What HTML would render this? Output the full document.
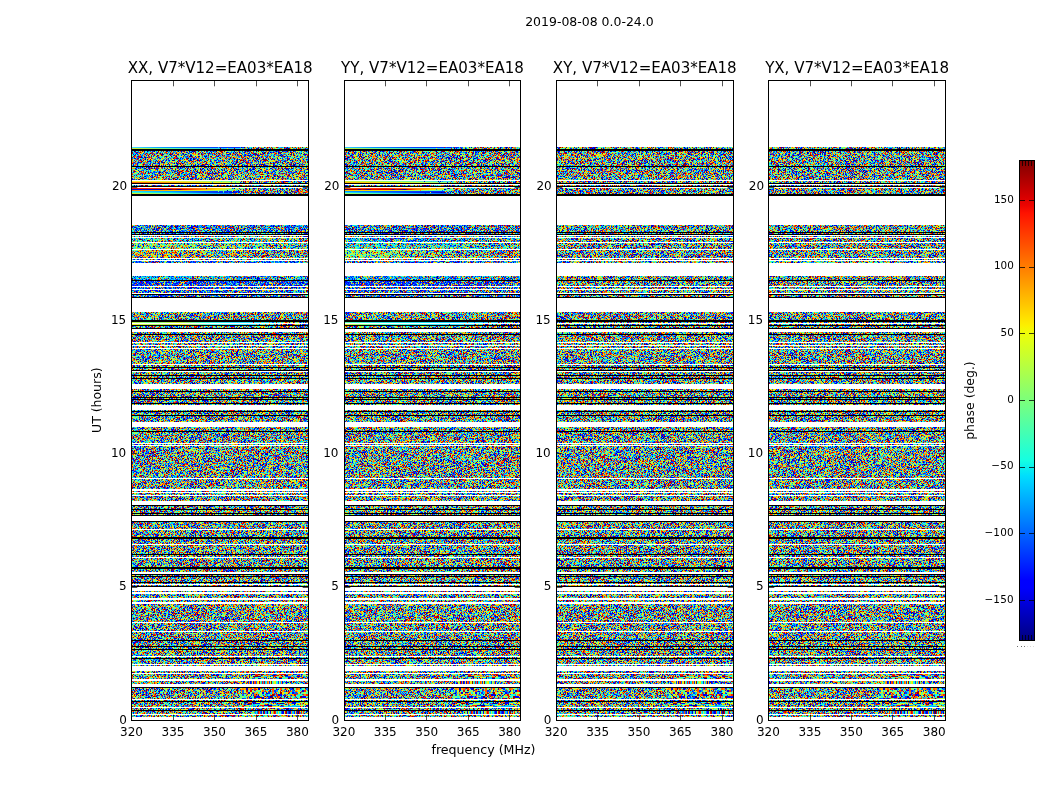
<!DOCTYPE html><html><head><meta charset="utf-8"><title>phase waterfall</title>
<style>html,body{margin:0;padding:0;background:#fff}svg{display:block}text{font-family:"DejaVu Sans","Liberation Sans",sans-serif;fill:#000}</style></head><body>
<svg width="1050" height="800" viewBox="0 0 1050 800">
<rect width="1050" height="800" fill="#fff"/>
<defs>
<pattern id="nA" width="176" height="48" patternUnits="userSpaceOnUse"><g transform="translate(0,.5)" fill="none">
<path stroke="#009" d="M15 0h1m5 0h1m4 0h1m23 0h1m69 0h1m17 0h1m14 0h2m3 0h1m-139 1h1m8 0h1m37 0h1m1 0h1m4 0h1m2 0h1m3 0h1m10 0h1m46 0h1m-139 1h1m25 0h1m46 0h1m12 0h1m19 0h1m9 0h1m26 0h1m16 0h1m-156 1h1m18 0h1m1 0h1m56 0h1m85 0h1m-111 1h1m33 0h1m17 0h1m37 0h1m5 0h1m-132 1h1m6 0h1m55 0h1m10 0h1m11 0h1m59 0h1m-167 1h2m56 0h1m13 0h1m31 0h1m6 0h1m13 0h1m18 0h1m6 0h1m7 0h1m-163 1h1m32 0h1m13 0h1m10 0h1m2 0h1m19 0h2m36 0h1m10 0h1m22 0h1m10 0h1m-108 1h1m10 0h1m2 0h1m5 0h1m23 0h1m34 0h1m7 0h1m2 0h1m15 0h1m-152 1h1m46 0h1m50 0h1m18 0h1m-102 1h1m37 0h1m3 0h1m32 0h1m6 0h1m5 0h1m37 0h1m2 0h1m-144 1h1m4 0h1m3 0h1m33 0h1m48 0h1m28 0h1m-126 1h1m31 0h1m9 0h1m3 0h2m6 0h1m7 0h1m51 0h1m-118 1h1m7 0h1m6 0h1m1 0h1m37 0h1m45 0h1m31 0h1m25 0h1m-113 1h1m4 0h1m54 0h1m58 0h1m-161 1h1m36 0h1m6 0h1m6 0h1m14 0h1m23 0h1m1 0h1m27 0h1m20 0h1m15 0h1m-173 1h1m10 0h1m28 0h2m16 0h1m11 0h2m3 0h1m3 0h1m15 0h1m3 0h1m11 0h1m46 0h3m-152 1h1m8 0h1m8 0h1m1 0h1m20 0h1m22 0h1m13 0h1m17 0h1m5 0h1m14 0h1m-104 1h1m8 0h1m3 0h1m35 0h1m11 0h1m19 0h1m33 0h1m2 0h1m4 0h1m9 0h1m-124 1h1m9 0h1m1 0h1m4 0h1m35 0h1m11 0h1m27 0h1m4 0h1m33 0h1m-155 1h1m8 0h1m18 0h1m5 0h1m10 0h1m18 0h1m54 0h1m6 0h1m1 0h1m18 0h1m14 0h1m-168 1h1m19 0h1m18 0h1m24 0h1m17 0h1m59 0h1m6 0h1m5 0h2m3 0h1m-156 1h1m24 0h1m57 0h1m29 0h1m21 0h1m-141 1h1m3 0h1m3 0h1m1 0h1m38 0h1m40 0h1m25 0h1m3 0h1m2 0h1m-117 1h1m8 0h1m32 0h1m15 0h1m39 0h1m34 0h1m13 0h1m-157 1h1m9 0h1m1 0h1m30 0h1m18 0h1m12 0h1m26 0h1m10 0h1m3 0h1m26 0h1m26 0h1m-174 1h1m42 0h1m8 0h1m22 0h1m21 0h1m30 0h1m21 0h1m5 0h1m-138 1h1m64 0h1m46 0h1m40 0h1m-163 1h2m2 0h1m19 0h1m8 0h1m5 0h1m13 0h1m1 0h1m40 0h1m65 0h1m-148 1h1m13 0h1m23 0h1m1 0h1m13 0h1m17 0h1m9 0h1m3 0h1m22 0h1m24 0h1m1 0h1m9 0h1m-173 1h2m67 0h1m18 0h1m-62 1h1m3 0h1m54 0h1m19 0h1m1 0h1m5 0h1m19 0h1m9 0h1m-136 1h1m10 0h1m29 0h1m15 0h1m4 0h1m1 0h1m3 0h1m49 0h1m1 0h1m3 0h1m7 0h1m28 0h1m-162 1h1m17 0h1m31 0h1m6 0h1m11 0h1m70 0h1m1 0h1m9 0h1m11 0h1m-157 1h1m26 0h1m23 0h1m4 0h1m7 0h1m3 0h1m8 0h1m4 0h1m32 0h1m39 0h1m-167 1h1m14 0h1m9 0h1m10 0h2m6 0h1m17 0h1m2 0h1m4 0h1m72 0h1m10 0h2m-153 1h1m1 0h1m25 0h1m10 0h1m38 0h1m17 0h2m5 0h1m4 0h1m37 0h1m-146 1h1m11 0h1m20 0h1m1 0h1m34 0h1m28 0h1m38 0h1m4 0h1m7 0h1m12 0h1m-176 1h1m15 0h1m20 0h1m11 0h1m39 0h1m28 0h1m4 0h1m27 0h1m16 0h1m-148 1h1m8 0h1m2 0h1m6 0h1m6 0h1m30 0h1m28 0h1m10 0h1m5 0h1m43 0h1m-167 1h1m5 0h1m25 0h1m9 0h1m28 0h1m19 0h1m16 0h1m64 0h1m-174 1h1m72 0h1m1 0h1m4 0h1m2 0h1m9 0h1m11 0h1m-107 1h1m9 0h1m12 0h1m34 0h1m13 0h1m9 0h1m21 0h1m28 0h1m-125 1h1m14 0h1m3 0h1m17 0h1m48 0h1m4 0h1m14 0h1m31 0h1m-61 1h1m6 0h1m29 0h1m38 0h1m1 0h1m-154 1h1m19 0h1m39 0h1m92 0h1m-135 1h1m37 0h1m6 0h1m16 0h1m50 0h1m18 0h1m6 0h1m1 0h1m-167 1h1m14 0h1m19 0h1m32 0h1m13 0h1m19 0h1m29 0h1m19 0h1"/>
<path stroke="#00d" d="M10 0h1m1 0h1m10 0h1m19 0h1m12 0h1m3 0h1m6 0h1m27 0h2m33 0h1m10 0h1m22 0h1m-157 1h1m9 0h1m47 0h1m38 0h1m28 0h1m6 0h1m13 0h1m-147 1h1m57 0h1m17 0h1m11 0h2m42 0h1m24 0h1m2 0h1m-167 1h1m9 0h1m19 0h1m2 0h1m16 0h1m31 0h1m5 0h2m9 0h1m17 0h1m1 0h2m5 0h1m2 0h1m-132 1h1m2 0h2m2 0h1m41 0h1m5 0h1m27 0h1m31 0h1m2 0h1m9 0h1m8 0h1m-138 1h1m1 0h1m6 0h1m4 0h1m42 0h1m28 0h1m47 0h1m7 0h1m4 0h1m6 0h1m10 0h1m8 0h1m-148 1h1m10 0h1m18 0h1m9 0h1m53 0h1m13 0h1m7 0h1m18 0h1m-159 1h1m25 0h1m20 0h1m4 0h1m41 0h1m2 0h1m10 0h1m10 0h1m1 0h1m-103 1h2m9 0h1m76 0h2m2 0h1m9 0h1m14 0h1m-140 1h1m84 0h1m10 0h1m23 0h1m-122 1h1m18 0h1m1 0h1m23 0h1m10 0h1m25 0h1m5 0h1m30 0h1m21 0h1m1 0h1m4 0h1m22 0h2m-168 1h1m7 0h1m16 0h1m9 0h1m50 0h1m24 0h1m42 0h1m-160 1h1m7 0h1m1 0h1m7 0h1m9 0h1m21 0h1m15 0h1m36 0h1m24 0h1m22 0h1m2 0h1m9 0h1m1 0h1m-156 1h1m43 0h1m13 0h1m6 0h1m40 0h1m12 0h1m-130 1h2m23 0h1m15 0h2m14 0h1m2 0h1m63 0h1m39 0h1m-158 1h1m44 0h1m3 0h1m5 0h1m59 0h1m8 0h1m26 0h1m10 0h1m-148 1h1m11 0h1m19 0h1m9 0h1m7 0h1m66 0h1m23 0h1m-150 1h2m13 0h1m24 0h1m18 0h1m18 0h1m4 0h1m18 0h1m25 0h1m-134 1h1m17 0h1m16 0h1m1 0h2m20 0h1m15 0h1m1 0h1m53 0h1m18 0h1m-148 1h1m6 0h1m4 0h2m11 0h1m29 0h1m4 0h1m17 0h1m2 0h1m31 0h1m33 0h1m4 0h1m-166 1h1m25 0h1m1 0h1m33 0h1m19 0h1m8 0h1m15 0h1m13 0h1m1 0h2m6 0h1m30 0h1m1 0h1m-157 1h1m11 0h1m2 0h1m4 0h1m5 0h1m1 0h1m18 0h1m2 0h1m12 0h1m26 0h1m12 0h1m5 0h1m1 0h1m6 0h1m5 0h1m1 0h1m-78 1h1m4 0h1m29 0h1m12 0h1m15 0h1m-119 1h1m2 0h1m9 0h1m19 0h1m14 0h1m3 0h1m74 0h1m9 0h1m-118 1h1m7 0h1m7 0h1m53 0h1m12 0h1m5 0h1m19 0h1m5 0h2m9 0h1m1 0h1m15 0h1m-154 1h1m18 0h1m20 0h1m36 0h1m9 0h1m8 0h1m14 0h1m4 0h1m32 0h1m4 0h1m-169 1h1m4 0h1m26 0h1m7 0h1m9 0h1m6 0h3m4 0h1m7 0h1m18 0h1m8 0h1m7 0h1m5 0h1m3 0h1m23 0h2m1 0h1m9 0h1m-127 1h1m12 0h1m11 0h1m9 0h1m11 0h1m15 0h2m8 0h1m3 0h2m4 0h1m14 0h1m9 0h1m6 0h1m21 0h1m-97 1h1m3 0h1m10 0h1m17 0h1m10 0h1m17 0h1m6 0h1m6 0h1m6 0h1m7 0h1m-157 1h1m13 0h1m8 0h1m26 0h1m16 0h1m95 0h1m-158 1h1m42 0h1m47 0h1m33 0h1m19 0h1m-158 1h1m21 0h1m48 0h1m72 0h1m18 0h1m-156 1h1m3 0h1m9 0h1m82 0h1m21 0h1m8 0h1m28 0h1m-132 1h1m4 0h1m81 0h1m2 0h1m3 0h1m17 0h1m14 0h1m1 0h1m-99 1h2m20 0h1m67 0h1m3 0h1m-151 1h1m19 0h1m28 0h1m12 0h1m24 0h1m9 0h1m11 0h1m2 0h1m34 0h1m-153 1h1m14 0h1m6 0h2m34 0h1m79 0h2m24 0h1m-164 1h1m22 0h1m29 0h1m2 0h1m21 0h1m1 0h1m32 0h1m10 0h1m26 0h1m12 0h1m-157 1h1m52 0h1m33 0h3m5 0h1m16 0h1m1 0h1m45 0h1m-160 1h1m1 0h1m34 0h1m1 0h1m3 0h1m2 0h1m5 0h1m78 0h1m8 0h1m4 0h1m2 0h1m6 0h1m4 0h1m-168 1h1m20 0h1m1 0h1m33 0h1m26 0h1m24 0h1m56 0h2m-171 1h1m10 0h1m41 0h1m46 0h1m19 0h1m28 0h1m18 0h1m-173 1h1m102 0h1m9 0h1m3 0h1m25 0h1m1 0h1m23 0h1m-129 1h1m52 0h1m15 0h1m19 0h1m39 0h1m-162 1h1m5 0h1m32 0h1m5 0h1m1 0h1m5 0h1m38 0h1m10 0h1m13 0h1m6 0h1m28 0h1m10 0h1m-151 1h1m47 0h1m6 0h1m43 0h1m8 0h1m3 0h1m21 0h1m-98 1h1m13 0h2m68 0h1m12 0h1m9 0h1m-160 1h1m36 0h1m1 0h1m10 0h1m11 0h1m9 0h1m4 0h1m21 0h1m14 0h1m25 0h1m13 0h1"/>
<path stroke="#00f" d="M64 0h1m1 0h1m7 0h1m1 0h1m11 0h1m30 0h1m25 0h1m6 0h1m-105 1h1m26 0h1m4 0h1m27 0h1m37 0h2m-132 1h1m8 0h1m8 0h1m1 0h1m26 0h1m7 0h1m7 0h1m6 0h1m4 0h1m-43 1h1m5 0h1m12 0h1m20 0h1m13 0h1m33 0h1m3 0h1m-132 1h1m30 0h1m10 0h1m8 0h1m48 0h1m33 0h1m-143 1h1m10 0h1m22 0h1m11 0h1m17 0h1m1 0h1m9 0h1m23 0h1m10 0h1m30 0h1m23 0h1m-140 1h1m5 0h1m79 0h1m12 0h1m24 0h1m5 0h1m-99 1h1m5 0h1m4 0h1m43 0h1m39 0h1m4 0h1m-139 1h1m2 0h1m1 0h1m25 0h1m8 0h1m8 0h1m4 0h1m17 0h1m1 0h1m3 0h1m3 0h1m34 0h1m18 0h1m-150 1h2m12 0h1m14 0h1m10 0h1m16 0h1m8 0h1m32 0h1m1 0h1m4 0h1m22 0h1m2 0h2m10 0h1m-144 1h1m42 0h1m11 0h1m9 0h1m3 0h1m1 0h1m12 0h1m17 0h1m8 0h1m-85 1h1m3 0h1m3 0h2m8 0h1m11 0h1m36 0h1m7 0h1m9 0h1m18 0h1m31 0h1m-172 1h1m1 0h1m28 0h1m20 0h1m29 0h1m29 0h1m15 0h1m6 0h1m3 0h1m6 0h1m8 0h1m-39 1h1m8 0h1m-117 1h1m14 0h1m10 0h1m8 0h1m9 0h1m6 0h1m6 0h1m68 0h1m15 0h1m-156 1h1m5 0h1m25 0h1m30 0h1m19 0h1m50 0h1m2 0h1m25 0h1m8 0h1m-130 1h1m22 0h1m11 0h1m2 0h1m6 0h1m14 0h1m16 0h1m13 0h1m2 0h1m-137 1h1m21 0h1m7 0h1m3 0h1m19 0h1m19 0h2m11 0h2m10 0h1m1 0h1m23 0h1m14 0h1m10 0h1m-153 1h1m4 0h2m19 0h1m15 0h1m26 0h1m27 0h2m15 0h1m5 0h1m14 0h1m12 0h1m4 0h1m-151 1h1m36 0h1m8 0h1m28 0h1m20 0h1m2 0h1m3 0h1m28 0h1m12 0h1m-141 1h1m55 0h1m26 0h1m8 0h1m24 0h1m15 0h1m28 0h1m-168 1h1m54 0h1m10 0h1m4 0h1m1 0h2m4 0h1m1 0h1m29 0h1m14 0h1m2 0h1m2 0h1m-128 1h1m3 0h1m1 0h1m31 0h1m85 0h1m-106 1h1m24 0h1m7 0h1m10 0h2m12 0h1m11 0h1m10 0h1m8 0h1m1 0h1m37 0h1m-143 1h1m20 0h1m29 0h1m1 0h1m47 0h1m26 0h1m7 0h1m10 0h1m-159 1h1m16 0h1m72 0h1m8 0h1m-75 1h1m10 0h1m29 0h1m6 0h2m6 0h1m14 0h1m23 0h1m22 0h1m24 0h1m-148 1h1m43 0h1m4 0h1m3 0h1m16 0h1m20 0h1m7 0h1m8 0h1m5 0h1m1 0h1m-139 1h1m12 0h1m5 0h1m53 0h1m13 0h1m43 0h1m32 0h1m-165 1h1m51 0h1m10 0h2m4 0h1m3 0h1m3 0h1m38 0h1m29 0h1m-129 1h1m29 0h1m26 0h1m79 0h1m14 0h1m-162 1h1m5 0h1m27 0h1m8 0h1m1 0h1m4 0h1m16 0h1m34 0h1m24 0h1m-85 1h1m2 0h1m2 0h1m20 0h1m2 0h1m3 0h1m9 0h1m7 0h1m4 0h1m28 0h1m-140 1h1m21 0h1m28 0h1m25 0h1m34 0h1m12 0h1m34 0h1m2 0h1m-148 1h1m15 0h1m1 0h1m8 0h1m3 0h1m7 0h2m19 0h1m12 0h1m51 0h1m25 0h1m-172 1h1m47 0h1m11 0h1m36 0h1m6 0h1m63 0h1m3 0h1m-170 1h1m4 0h1m15 0h2m25 0h1m8 0h1m69 0h1m23 0h1m2 0h1m1 0h2m-79 1h1m10 0h1m1 0h2m26 0h1m2 0h1m19 0h1m11 0h1m-116 1h1m68 0h1m32 0h1m24 0h1m-168 1h1m18 0h1m27 0h1m28 0h1m24 0h1m33 0h1m8 0h1m-147 1h1m47 0h1m28 0h1m21 0h1m2 0h1m13 0h1m32 0h1m16 0h1m-147 1h1m20 0h1m6 0h1m5 0h1m7 0h1m4 0h1m20 0h1m4 0h1m1 0h1m46 0h1m1 0h1m17 0h1m-133 1h1m9 0h1m30 0h1m14 0h1m9 0h1m2 0h1m6 0h1m1 0h1m28 0h1m1 0h1m31 0h1m-149 1h1m6 0h1m2 0h1m9 0h1m22 0h1m16 0h1m6 0h1m3 0h1m4 0h1m1 0h1m-96 1h2m20 0h1m11 0h1m4 0h1m3 0h1m17 0h1m3 0h1m10 0h1m16 0h1m6 0h1m14 0h1m25 0h1m3 0h1m1 0h1m5 0h1m-158 1h1m2 0h1m36 0h1m21 0h1m1 0h1m11 0h1m15 0h1m23 0h1m9 0h1m8 0h1m11 0h2m6 0h1m-157 1h1m39 0h1m2 0h1m8 0h1m12 0h1m17 0h1m10 0h1m3 0h1m32 0h1m-131 1h1m30 0h1m9 0h1m17 0h1m14 0h1m19 0h1m22 0h1m44 0h1"/>
<path stroke="#03f" d="M6 0h1m13 0h1m3 0h1m44 0h1m2 0h1m33 0h2m3 0h1m2 0h1m13 0h1m8 0h1m4 0h1m-111 1h2m6 0h1m14 0h1m33 0h1m1 0h1m3 0h1m23 0h1m23 0h1m24 0h1m4 0h1m-152 1h1m5 0h1m10 0h1m5 0h2m28 0h1m8 0h1m7 0h2m16 0h1m3 0h2m51 0h1m-160 1h1m1 0h1m17 0h1m23 0h1m26 0h1m80 0h1m5 0h1m-122 1h2m8 0h1m6 0h1m5 0h1m1 0h1m29 0h2m29 0h1m2 0h1m24 0h1m9 0h1m-164 1h1m5 0h1m29 0h1m11 0h1m2 0h1m27 0h1m3 0h1m10 0h1m4 0h1m-93 1h1m3 0h1m3 0h1m2 0h1m1 0h1m16 0h2m29 0h1m8 0h1m11 0h1m1 0h1m16 0h1m23 0h1m1 0h1m-123 1h1m1 0h2m7 0h1m6 0h1m6 0h1m29 0h1m33 0h1m2 0h1m27 0h1m23 0h1m-153 1h1m10 0h1m10 0h1m25 0h1m37 0h1m20 0h1m2 0h1m16 0h1m1 0h1m-131 1h1m10 0h1m10 0h1m4 0h1m58 0h1m21 0h1m6 0h1m3 0h1m9 0h1m8 0h1m-90 1h1m38 0h1m8 0h1m3 0h1m-41 1h1m1 0h1m1 0h1m45 0h1m28 0h1m-129 1h1m3 0h1m58 0h1m11 0h1m35 0h1m8 0h1m11 0h1m3 0h1m14 0h1m-167 1h1m6 0h2m8 0h1m21 0h1m3 0h1m3 0h1m40 0h1m10 0h1m18 0h1m18 0h1m8 0h1m21 0h1m-150 1h1m98 0h1m25 0h1m-144 1h1m34 0h1m25 0h1m42 0h1m34 0h1m28 0h1m-175 1h1m5 0h1m9 0h1m7 0h1m22 0h1m5 0h1m4 0h1m9 0h1m12 0h1m1 0h1m1 0h2m9 0h1m20 0h1m27 0h1m6 0h1m1 0h1m-150 1h1m1 0h1m2 0h1m18 0h1m79 0h1m5 0h1m18 0h1m9 0h1m5 0h1m-134 1h1m8 0h1m23 0h1m9 0h1m11 0h1m21 0h1m5 0h1m6 0h1m2 0h1m3 0h1m1 0h1m36 0h1m7 0h1m-162 1h1m1 0h1m6 0h1m67 0h1m-73 1h1m65 0h1m25 0h1m58 0h1m6 0h1m-149 1h1m14 0h1m20 0h1m13 0h1m2 0h1m72 0h1m6 0h1m9 0h2m4 0h1m-110 1h1m4 0h2m2 0h1m20 0h1m25 0h1m2 0h1m1 0h1m1 0h1m10 0h1m19 0h1m-140 1h1m3 0h1m16 0h1m6 0h1m11 0h1m6 0h1m17 0h1m40 0h1m22 0h1m1 0h1m-113 1h1m18 0h1m8 0h1m26 0h1m1 0h1m4 0h1m48 0h1m1 0h1m5 0h1m17 0h1m-168 1h1m29 0h1m6 0h1m24 0h2m6 0h1m1 0h1m2 0h1m1 0h2m19 0h1m16 0h1m2 0h1m3 0h1m32 0h1m18 0h1m-164 1h1m8 0h1m11 0h1m38 0h1m25 0h1m14 0h1m9 0h2m48 0h1m-157 1h1m55 0h1m25 0h1m5 0h1m7 0h1m44 0h1m14 0h1m-172 1h1m4 0h1m15 0h1m23 0h1m15 0h1m26 0h1m32 0h1m23 0h1m-145 1h1m25 0h1m5 0h1m28 0h1m15 0h1m55 0h1m3 0h1m2 0h2m2 0h1m27 0h1m-153 1h1m15 0h1m4 0h1m17 0h2m19 0h1m28 0h1m10 0h1m18 0h1m11 0h1m9 0h1m-155 1h1m30 0h1m56 0h1m24 0h1m-54 1h1m28 0h1m-92 1h1m9 0h1m7 0h1m17 0h2m12 0h1m6 0h1m8 0h1m3 0h1m12 0h1m21 0h1m23 0h1m17 0h1m10 0h1m6 0h1m-159 1h2m7 0h1m7 0h1m1 0h1m6 0h1m8 0h2m13 0h1m12 0h1m33 0h1m6 0h1m15 0h1m4 0h1m1 0h1m4 0h1m2 0h1m-149 1h1m2 0h1m12 0h1m18 0h1m2 0h1m38 0h1m6 0h1m1 0h1m17 0h1m4 0h1m5 0h1m2 0h1m17 0h1m8 0h1m5 0h1m5 0h1m15 0h1m-144 1h1m34 0h1m31 0h2m24 0h1m45 0h1m2 0h1m-148 1h1m13 0h1m14 0h1m65 0h1m12 0h1m1 0h1m10 0h1m2 0h1m15 0h1m6 0h1m-135 1h1m12 0h1m5 0h1m2 0h1m5 0h1m1 0h1m10 0h1m14 0h1m13 0h1m9 0h1m30 0h1m-123 1h1m5 0h1m7 0h1m2 0h1m13 0h1m11 0h1m13 0h1m22 0h1m6 0h1m36 0h1m12 0h1m5 0h1m-118 1h1m56 0h1m44 0h1m-134 1h1m2 0h2m8 0h1m34 0h1m2 0h1m13 0h1m4 0h1m6 0h1m2 0h1m1 0h1m21 0h1m19 0h1m1 0h1m8 0h1m-152 1h1m7 0h1m17 0h1m2 0h1m20 0h1m19 0h1m1 0h1m10 0h2m1 0h1m1 0h1m5 0h1m12 0h2m38 0h1m5 0h1m1 0h1m12 0h1m-160 1h1m4 0h1m20 0h1m15 0h1m4 0h1m14 0h1m4 0h1m13 0h1m37 0h1m18 0h1m1 0h1m6 0h1m4 0h1m5 0h1m-163 1h1m22 0h1m3 0h1m2 0h1m41 0h1m11 0h1m9 0h1m36 0h1m-144 1h1m39 0h1m35 0h1m11 0h1m27 0h2m38 0h1m5 0h1m1 0h1m-112 1h1m2 0h1m61 0h1m11 0h1m6 0h1m-128 1h1m6 0h1m18 0h1m12 0h2m4 0h1m35 0h1m11 0h1m28 0h1m16 0h1m5 0h2m4 0h1"/>
<path stroke="#06f" d="M25 0h1m15 0h1m9 0h1m13 0h1m12 0h1m5 0h1m5 0h2m6 0h1m11 0h1m11 0h1m1 0h1m6 0h1m-109 1h1m4 0h1m29 0h1m20 0h1m44 0h1m31 0h1m-128 1h1m8 0h1m14 0h1m6 0h1m3 0h1m1 0h1m61 0h1m19 0h1m15 0h1m5 0h1m-145 1h1m14 0h1m17 0h1m7 0h1m12 0h1m17 0h1m8 0h1m1 0h1m20 0h1m23 0h1m-142 1h2m48 0h2m2 0h1m8 0h1m6 0h1m9 0h1m9 0h1m49 0h1m14 0h1m-158 1h1m47 0h1m13 0h1m8 0h1m24 0h1m43 0h1m2 0h1m7 0h1m9 0h1m-133 1h1m4 0h1m6 0h1m13 0h1m4 0h1m27 0h1m4 0h1m1 0h1m13 0h1m6 0h1m6 0h1m4 0h1m7 0h1m9 0h1m10 0h2m1 0h1m-156 1h1m5 0h1m14 0h1m21 0h1m9 0h1m9 0h1m2 0h1m9 0h1m4 0h1m14 0h1m18 0h1m4 0h1m26 0h1m1 0h1m3 0h1m-152 1h2m16 0h1m4 0h1m15 0h1m41 0h1m8 0h1m2 0h1m35 0h1m15 0h1m3 0h1m-163 1h1m22 0h1m14 0h1m13 0h1m21 0h1m10 0h1m11 0h1m61 0h1m-156 1h1m3 0h1m36 0h1m1 0h1m9 0h1m24 0h1m2 0h1m30 0h1m13 0h1m12 0h1m4 0h1m20 0h1m-123 1h1m34 0h2m2 0h1m11 0h1m15 0h1m15 0h2m2 0h1m1 0h1m17 0h1m4 0h1m7 0h1m-97 1h1m5 0h1m3 0h1m3 0h1m1 0h1m1 0h1m2 0h1m8 0h2m58 0h1m-151 1h1m1 0h1m8 0h1m13 0h1m9 0h1m27 0h1m2 0h1m12 0h1m12 0h1m36 0h1m27 0h1m-174 1h1m9 0h1m10 0h1m52 0h1m5 0h1m29 0h1m8 0h1m1 0h1m14 0h1m-131 1h1m5 0h1m5 0h1m4 0h1m7 0h2m12 0h1m2 0h1m1 0h1m27 0h1m1 0h1m23 0h1m20 0h1m24 0h1m6 0h1m1 0h1m7 0h1m-163 1h1m9 0h1m4 0h1m5 0h1m26 0h1m96 0h1m16 0h1m-140 1h1m23 0h1m33 0h1m9 0h1m35 0h1m-133 1h1m11 0h1m1 0h1m82 0h1m20 0h1m5 0h1m33 0h1m12 0h1m-150 1h1m2 0h1m61 0h1m30 0h2m8 0h1m3 0h2m2 0h1m15 0h2m-141 1h3m58 0h1m35 0h2m8 0h1m49 0h2m-161 1h1m3 0h1m24 0h1m1 0h1m8 0h1m45 0h1m56 0h1m13 0h1m-169 1h1m6 0h1m5 0h1m17 0h1m3 0h1m11 0h1m11 0h1m14 0h1m76 0h1m8 0h1m3 0h1m3 0h1m1 0h1m-145 1h1m11 0h1m3 0h1m16 0h1m11 0h1m29 0h1m1 0h1m8 0h1m7 0h1m11 0h1m2 0h1m22 0h1m2 0h1m4 0h1m-128 1h1m23 0h1m5 0h1m12 0h1m37 0h1m8 0h1m-95 1h1m46 0h1m27 0h1m47 0h1m-149 1h1m7 0h1m63 0h1m22 0h1m11 0h1m9 0h1m1 0h1m5 0h1m5 0h2m14 0h1m3 0h1m-162 1h1m21 0h1m21 0h2m2 0h1m24 0h1m56 0h1m22 0h1m2 0h1m7 0h1m4 0h1m5 0h1m-176 1h1m19 0h1m5 0h2m7 0h1m6 0h1m29 0h1m11 0h1m22 0h1m31 0h1m15 0h1m-152 1h1m17 0h1m31 0h1m17 0h1m33 0h1m9 0h1m31 0h1m8 0h1m17 0h1m-169 1h1m37 0h1m26 0h1m12 0h1m16 0h1m40 0h1m15 0h1m-157 1h1m6 0h1m7 0h1m10 0h1m3 0h1m12 0h1m5 0h1m32 0h1m12 0h1m5 0h1m12 0h1m5 0h1m8 0h1m5 0h1m32 0h1m-165 1h1m17 0h1m7 0h1m15 0h1m14 0h1m15 0h1m4 0h1m27 0h1m15 0h1m9 0h1m7 0h1m6 0h1m-122 1h1m28 0h1m11 0h1m14 0h1m42 0h1m23 0h1m-123 1h1m11 0h1m25 0h1m24 0h2m3 0h1m18 0h1m10 0h1m9 0h1m20 0h1m3 0h1m6 0h1m-154 1h1m16 0h1m6 0h1m30 0h1m15 0h1m7 0h1m23 0h1m32 0h1m15 0h1m-173 1h1m34 0h1m2 0h1m53 0h1m6 0h1m28 0h1m1 0h1m4 0h1m2 0h1m5 0h2m11 0h1m2 0h1m-150 1h1m7 0h1m59 0h1m11 0h1m7 0h2m5 0h1m5 0h1m38 0h1m7 0h1m-158 1h1m29 0h1m1 0h1m2 0h1m40 0h1m3 0h1m27 0h1m-108 1h1m50 0h1m13 0h1m5 0h1m1 0h1m6 0h1m6 0h1m65 0h1m-143 1h2m3 0h1m11 0h2m6 0h1m19 0h1m34 0h1m1 0h2m2 0h1m4 0h1m21 0h1m6 0h1m3 0h1m5 0h1m8 0h1m-147 1h1m11 0h1m26 0h1m2 0h1m10 0h1m82 0h1m9 0h1m-141 1h1m38 0h1m8 0h1m31 0h1m1 0h1m35 0h1m41 0h1m-174 1h1m17 0h1m2 0h1m17 0h1m76 0h1m10 0h1m21 0h1m18 0h1m3 0h1m-172 1h2m30 0h1m57 0h1m21 0h1m8 0h1m-116 1h1m16 0h1m13 0h1m8 0h1m7 0h1m24 0h1m11 0h2m7 0h1m1 0h1m20 0h1m2 0h1m20 0h1m21 0h1m-168 1h1m1 0h1m1 0h1m12 0h1m2 0h1m14 0h1m23 0h2m8 0h1m18 0h1m14 0h1m11 0h1m12 0h1m19 0h1m2 0h1m4 0h1m2 0h1m-141 1h1m36 0h2m10 0h1m6 0h1m15 0h1m5 0h1m4 0h1m35 0h1m1 0h1m6 0h1"/>
<path stroke="#09f" d="M11 0h1m23 0h1m4 0h1m1 0h1m16 0h1m19 0h1m2 0h1m11 0h1m32 0h1m7 0h1m3 0h1m22 0h1m-133 1h1m16 0h1m6 0h1m2 0h1m4 0h1m9 0h1m23 0h1m33 0h1m27 0h1m5 0h1m-151 1h1m6 0h1m9 0h1m25 0h2m-40 1h1m2 0h1m1 0h1m48 0h1m12 0h1m40 0h1m5 0h1m2 0h1m12 0h2m18 0h1m-122 1h1m2 0h1m17 0h1m2 0h1m17 0h1m11 0h1m5 0h1m8 0h1m7 0h1m10 0h2m1 0h1m21 0h1m2 0h1m-85 1h1m12 0h1m40 0h1m6 0h1m10 0h1m20 0h1m-166 1h1m5 0h1m16 0h1m9 0h1m11 0h1m2 0h1m8 0h1m3 0h1m2 0h1m56 0h1m1 0h1m29 0h1m-138 1h1m9 0h1m6 0h1m8 0h1m13 0h1m9 0h1m5 0h1m8 0h1m16 0h1m43 0h1m7 0h1m-155 1h1m10 0h1m58 0h1m8 0h1m2 0h1m20 0h1m7 0h1m14 0h1m13 0h1m30 0h1m-175 1h1m15 0h1m4 0h1m9 0h1m2 0h1m35 0h1m24 0h1m36 0h1m1 0h1m16 0h1m13 0h1m1 0h1m-166 1h1m2 0h1m28 0h1m42 0h1m6 0h1m28 0h1m18 0h1m17 0h1m13 0h1m2 0h1m6 0h1m-172 1h1m5 0h1m28 0h1m8 0h1m57 0h1m25 0h1m7 0h1m3 0h3m-140 1h1m27 0h1m62 0h1m22 0h1m28 0h1m5 0h1m11 0h1m6 0h1m-151 1h1m6 0h1m15 0h1m6 0h1m10 0h1m8 0h1m14 0h1m16 0h1m15 0h1m26 0h2m7 0h1m5 0h1m-136 1h1m2 0h1m11 0h1m24 0h1m2 0h1m13 0h1m2 0h1m12 0h1m42 0h1m7 0h1m12 0h1m4 0h1m-170 1h1m21 0h1m43 0h1m2 0h1m1 0h1m4 0h1m2 0h1m1 0h1m4 0h1m16 0h1m3 0h1m18 0h1m-126 1h1m16 0h1m5 0h1m53 0h1m30 0h2m29 0h1m18 0h1m10 0h1m1 0h1m-130 1h1m15 0h1m20 0h1m30 0h1m7 0h1m11 0h1m-134 1h1m3 0h1m13 0h1m1 0h1m13 0h1m39 0h1m3 0h1m9 0h1m57 0h1m1 0h1m13 0h1m2 0h1m-161 1h1m8 0h2m15 0h1m5 0h1m1 0h2m42 0h1m6 0h1m14 0h1m18 0h1m19 0h1m-85 1h1m2 0h1m11 0h1m1 0h1m2 0h1m3 0h1m19 0h1m6 0h1m1 0h1m36 0h2m16 0h1m-168 1h1m22 0h1m28 0h1m30 0h1m17 0h1m6 0h1m32 0h1m28 0h1m1 0h1m-166 1h1m8 0h1m33 0h1m7 0h1m10 0h1m9 0h1m61 0h1m5 0h1m5 0h1m-147 1h1m8 0h1m16 0h1m42 0h1m12 0h1m21 0h1m53 0h1m2 0h2m-165 1h1m6 0h1m6 0h1m3 0h1m10 0h1m13 0h1m27 0h1m46 0h2m15 0h1m1 0h1m10 0h1m-151 1h1m3 0h1m2 0h1m36 0h1m26 0h1m14 0h1m27 0h1m5 0h1m18 0h1m14 0h1m3 0h1m6 0h1m1 0h1m-164 1h1m6 0h1m12 0h1m10 0h1m3 0h1m30 0h1m31 0h1m5 0h1m22 0h1m18 0h1m-141 1h1m2 0h1m38 0h1m2 0h2m8 0h1m4 0h1m33 0h1m26 0h1m9 0h1m23 0h1m-164 1h1m13 0h1m31 0h1m10 0h1m9 0h1m25 0h1m23 0h1m32 0h1m2 0h1m9 0h1m-170 1h1m11 0h1m23 0h1m7 0h1m6 0h2m33 0h1m26 0h2m6 0h1m36 0h1m6 0h1m-143 1h1m66 0h1m8 0h1m9 0h1m28 0h1m2 0h1m1 0h1m-140 1h1m31 0h1m11 0h1m4 0h1m34 0h1m6 0h1m8 0h1m8 0h1m12 0h1m9 0h1m21 0h2m6 0h1m-163 1h1m8 0h2m1 0h1m1 0h1m9 0h1m28 0h1m62 0h1m3 0h1m25 0h1m-136 1h1m25 0h1m25 0h2m6 0h1m5 0h2m22 0h1m15 0h1m32 0h1m10 0h1m-165 1h1m18 0h1m3 0h1m28 0h3m5 0h1m27 0h1m35 0h1m11 0h1m18 0h2m3 0h1m-153 1h2m2 0h1m1 0h1m1 0h1m5 0h2m7 0h1m19 0h1m27 0h1m8 0h1m21 0h1m18 0h1m43 0h1m-174 1h1m10 0h1m6 0h2m12 0h1m2 0h1m6 0h1m2 0h1m10 0h1m23 0h1m29 0h1m19 0h1m2 0h1m4 0h1m33 0h1m-174 1h1m29 0h1m13 0h1m51 0h1m17 0h1m19 0h1m8 0h1m12 0h1m9 0h1m4 0h1m-172 1h1m32 0h1m7 0h1m90 0h1m-121 1h1m5 0h1m23 0h1m4 0h2m23 0h1m26 0h1m1 0h1m14 0h1m10 0h1m7 0h1m6 0h1m23 0h1m-165 1h1m18 0h1m1 0h1m51 0h1m43 0h1m1 0h1m3 0h1m2 0h1m12 0h1m17 0h1m7 0h1m-123 1h1m4 0h1m10 0h1m6 0h1m16 0h1m19 0h1m10 0h1m2 0h1m11 0h1m3 0h1m15 0h1m6 0h1m2 0h1m8 0h1m-166 1h1m2 0h1m8 0h2m44 0h1m15 0h1m23 0h1m25 0h1m10 0h2m-113 1h1m15 0h1m9 0h1m22 0h1m1 0h2m32 0h1m26 0h1m-143 1h1m12 0h1m5 0h1m24 0h1m7 0h1m6 0h1m27 0h1m42 0h1m14 0h1m-136 1h1m13 0h1m17 0h1m1 0h1m7 0h1m2 0h1m47 0h1m16 0h1m13 0h1m20 0h1m-153 1h1m7 0h1m14 0h1m8 0h1m8 0h1m16 0h1m3 0h1m20 0h1m10 0h1m24 0h1m1 0h1m-98 1h1m1 0h1m13 0h1m22 0h1m23 0h1m2 0h1m25 0h1m3 0h1"/>
<path stroke="#0cf" d="M61 0h1m31 0h1m6 0h1m42 0h1m2 0h1m25 0h1m-135 1h1m58 0h1m14 0h1m20 0h1m10 0h1m-113 1h1m9 0h1m59 0h1m39 0h1m2 0h1m5 0h1m16 0h1m-151 1h1m53 0h1m23 0h1m2 0h1m11 0h1m2 0h1m4 0h1m18 0h1m1 0h1m14 0h3m-139 1h1m24 0h1m34 0h1m16 0h1m45 0h1m8 0h1m10 0h1m2 0h1m5 0h1m3 0h1m-153 1h1m9 0h2m2 0h1m8 0h1m15 0h1m1 0h1m44 0h1m64 0h1m-172 1h1m15 0h1m28 0h1m37 0h1m59 0h1m27 0h2m-170 1h1m10 0h1m15 0h1m8 0h1m2 0h1m8 0h1m26 0h1m22 0h1m9 0h1m8 0h1m6 0h1m2 0h1m8 0h1m16 0h1m-159 1h2m11 0h1m5 0h1m22 0h2m10 0h1m22 0h1m3 0h1m19 0h1m7 0h1m31 0h1m26 0h1m2 0h1m1 0h1m-172 1h1m8 0h1m24 0h1m3 0h1m68 0h1m2 0h1m18 0h1m13 0h1m4 0h1m10 0h1m-148 1h1m7 0h2m2 0h1m5 0h1m19 0h1m19 0h1m50 0h1m11 0h1m2 0h1m10 0h1m11 0h1m1 0h1m-156 1h1m25 0h1m25 0h1m11 0h1m1 0h1m5 0h1m3 0h1m8 0h1m17 0h1m16 0h1m32 0h1m3 0h1m4 0h1m-149 1h1m12 0h1m35 0h2m5 0h1m9 0h1m9 0h1m10 0h2m6 0h1m1 0h1m15 0h1m11 0h1m5 0h1m18 0h1m-145 1h1m3 0h1m5 0h1m18 0h1m4 0h1m29 0h1m18 0h1m28 0h1m14 0h1m7 0h1m-164 1h1m2 0h1m79 0h1m11 0h1m17 0h1m28 0h1m20 0h1m6 0h1m1 0h1m-174 1h1m20 0h1m14 0h1m6 0h1m5 0h1m10 0h1m15 0h2m75 0h1m8 0h1m-120 1h2m44 0h1m8 0h1m9 0h1m17 0h1m17 0h1m6 0h1m5 0h1m3 0h1m-138 1h1m11 0h1m34 0h1m12 0h1m16 0h1m36 0h1m10 0h2m13 0h1m1 0h1m1 0h2m-164 1h1m9 0h1m9 0h1m11 0h1m1 0h1m40 0h1m25 0h1m15 0h1m7 0h1m3 0h1m4 0h1m7 0h1m19 0h1m-145 1h1m10 0h1m1 0h1m9 0h1m7 0h1m20 0h1m23 0h1m8 0h1m13 0h1m24 0h1m26 0h1m-151 1h2m17 0h1m12 0h2m11 0h1m13 0h1m61 0h1m7 0h1m1 0h1m-157 1h1m21 0h1m5 0h1m1 0h1m67 0h1m-95 1h1m14 0h1m8 0h2m7 0h1m44 0h1m31 0h1m16 0h1m8 0h1m22 0h1m-137 1h1m19 0h1m45 0h1m31 0h1m-114 1h1m20 0h1m32 0h1m13 0h1m8 0h3m4 0h1m11 0h2m18 0h1m5 0h1m24 0h1m-132 1h1m74 0h1m43 0h1m12 0h1m-148 1h1m14 0h1m10 0h1m16 0h1m29 0h1m2 0h1m4 0h1m59 0h1m11 0h1m2 0h1m1 0h1m-89 1h1m6 0h1m20 0h1m8 0h1m11 0h1m18 0h2m2 0h1m15 0h1m-158 1h1m2 0h1m13 0h1m31 0h1m15 0h1m15 0h1m16 0h1m25 0h1m3 0h1m15 0h1m6 0h1m1 0h1m-149 1h1m1 0h1m8 0h1m4 0h1m6 0h1m1 0h1m25 0h1m-68 1h1m5 0h1m20 0h1m13 0h1m9 0h1m28 0h1m13 0h1m27 0h1m36 0h1m-151 1h2m10 0h1m6 0h1m2 0h1m32 0h1m31 0h1m20 0h1m15 0h1m-134 1h1m5 0h1m17 0h1m22 0h1m37 0h1m4 0h1m1 0h1m7 0h1m28 0h1m5 0h1m2 0h1m7 0h1m10 0h1m-149 1h2m26 0h1m7 0h2m9 0h1m15 0h1m20 0h1m26 0h1m1 0h2m7 0h1m10 0h1m23 0h1m-129 1h1m28 0h1m25 0h1m7 0h1m14 0h1m-118 1h1m12 0h1m4 0h1m33 0h1m13 0h1m10 0h2m27 0h1m20 0h1m3 0h1m14 0h1m6 0h1m-111 1h1m15 0h1m13 0h1m5 0h1m21 0h1m19 0h1m-110 1h1m56 0h1m18 0h1m29 0h1m43 0h1m-163 1h1m67 0h1m7 0h1m27 0h1m32 0h1m14 0h1m6 0h1m-162 1h1m16 0h1m14 0h1m4 0h1m8 0h1m9 0h1m4 0h1m33 0h1m44 0h1m-141 1h1m22 0h1m11 0h1m1 0h2m16 0h1m9 0h1m1 0h1m9 0h1m9 0h1m20 0h2m30 0h1m8 0h1m12 0h1m-162 1h1m3 0h1m18 0h1m6 0h1m5 0h1m18 0h1m10 0h1m29 0h1m39 0h1m18 0h1m4 0h1m4 0h1m2 0h2m-168 1h1m16 0h2m3 0h1m2 0h1m10 0h1m48 0h1m10 0h1m23 0h1m29 0h1m11 0h2m-165 1h1m59 0h1m3 0h1m13 0h1m23 0h1m1 0h1m29 0h1m4 0h1m13 0h1m-113 1h1m9 0h1m13 0h1m18 0h1m6 0h1m4 0h1m19 0h1m5 0h1m6 0h1m3 0h1m20 0h2m16 0h1m-173 1h1m11 0h1m1 0h1m15 0h1m17 0h1m49 0h2m7 0h1m5 0h1m17 0h1m11 0h1m14 0h2m-147 1h1m12 0h1m2 0h1m26 0h2m2 0h1m45 0h1m38 0h1m-124 1h1m34 0h1m4 0h1m3 0h1m5 0h1m25 0h1m7 0h1m6 0h1m15 0h1m20 0h1"/>
<path stroke="#1fd" d="M45 0h1m1 0h1m7 0h1m21 0h1m7 0h1m32 0h1m-119 1h1m4 0h1m7 0h1m27 0h1m3 0h1m13 0h1m42 0h1m62 0h1m-162 1h1m6 0h1m5 0h1m23 0h1m1 0h1m25 0h1m2 0h1m32 0h1m7 0h1m9 0h1m9 0h1m5 0h1m15 0h1m9 0h1m-151 1h1m14 0h1m7 0h1m22 0h1m25 0h1m20 0h1m9 0h1m32 0h1m6 0h2m-142 1h1m8 0h1m11 0h2m6 0h1m39 0h1m39 0h1m17 0h1m20 0h1m-160 1h1m6 0h1m2 0h1m4 0h1m1 0h1m1 0h1m69 0h1m6 0h1m13 0h1m8 0h2m4 0h1m14 0h1m5 0h1m6 0h1m-159 1h1m77 0h1m37 0h1m26 0h1m14 0h1m1 0h1m-160 1h1m8 0h1m1 0h1m15 0h1m7 0h1m12 0h1m6 0h1m6 0h1m10 0h2m22 0h2m1 0h1m4 0h1m6 0h1m6 0h1m2 0h1m22 0h2m3 0h1m14 0h1m-130 1h1m9 0h1m15 0h1m1 0h1m19 0h1m3 0h1m31 0h1m1 0h1m28 0h1m6 0h1m6 0h1m-156 1h1m2 0h1m9 0h1m2 0h1m25 0h2m17 0h1m43 0h1m11 0h1m22 0h1m2 0h1m1 0h1m14 0h1m-172 1h1m7 0h1m3 0h1m26 0h1m6 0h1m6 0h1m32 0h1m11 0h1m3 0h1m14 0h1m12 0h1m4 0h1m2 0h1m6 0h1m9 0h1m-157 1h1m1 0h1m23 0h1m9 0h1m15 0h1m6 0h1m5 0h1m11 0h1m17 0h1m-70 1h1m43 0h1m36 0h1m5 0h1m13 0h1m-118 1h1m24 0h1m48 0h1m54 0h1m-133 1h2m4 0h1m23 0h1m10 0h1m2 0h1m10 0h1m13 0h2m6 0h1m3 0h1m10 0h1m7 0h1m8 0h1m4 0h1m7 0h1m25 0h1m-119 1h1m57 0h2m20 0h1m18 0h1m4 0h1m-130 1h1m19 0h1m4 0h1m34 0h1m19 0h1m8 0h1m3 0h1m12 0h1m17 0h1m34 0h1m1 0h1m-165 1h1m55 0h1m2 0h1m4 0h1m4 0h1m59 0h1m22 0h1m2 0h1m8 0h1m-155 1h1m16 0h1m12 0h1m12 0h1m29 0h1m45 0h1m3 0h1m9 0h1m-137 1h1m10 0h1m1 0h1m79 0h1m1 0h1m-101 1h1m3 0h1m38 0h1m4 0h1m4 0h1m2 0h1m38 0h1m41 0h1m25 0h1m-144 1h1m10 0h1m14 0h1m5 0h1m39 0h1m16 0h1m8 0h1m5 0h1m13 0h1m6 0h1m-120 1h1m44 0h1m8 0h1m6 0h1m9 0h1m43 0h1m12 0h1m6 0h1m-94 1h1m5 0h1m7 0h1m7 0h1m2 0h1m1 0h1m41 0h1m15 0h1m7 0h1m-165 1h1m34 0h1m29 0h1m13 0h1m4 0h1m4 0h1m6 0h1m8 0h1m7 0h1m39 0h1m2 0h1m-153 1h1m10 0h1m1 0h1m5 0h1m11 0h2m15 0h1m22 0h1m22 0h1m-73 1h1m11 0h1m26 0h1m10 0h1m7 0h1m24 0h1m34 0h1m19 0h1m-150 1h1m13 0h1m71 0h1m47 0h1m6 0h1m-151 1h1m44 0h1m5 0h1m9 0h1m5 0h1m16 0h1m23 0h1m10 0h1m10 0h1m6 0h1m6 0h1m-146 1h1m36 0h1m43 0h1m15 0h1m11 0h1m32 0h1m11 0h1m-165 1h1m9 0h1m3 0h1m7 0h1m13 0h1m15 0h1m8 0h1m1 0h1m51 0h1m7 0h1m6 0h1m15 0h2m-116 1h1m13 0h2m6 0h1m13 0h1m5 0h1m12 0h1m1 0h1m6 0h1m11 0h1m37 0h1m14 0h1m9 0h1m-136 1h2m31 0h1m16 0h1m28 0h1m3 0h1m2 0h1m4 0h1m20 0h1m2 0h1m7 0h1m10 0h1m-157 1h1m11 0h1m16 0h1m18 0h1m20 0h1m27 0h1m11 0h1m-111 1h1m9 0h1m9 0h1m102 0h1m31 0h1m-168 1h1m128 0h1m5 0h1m3 0h2m-123 1h1m26 0h1m26 0h1m2 0h1m35 0h1m24 0h1m-140 1h1m6 0h1m12 0h1m1 0h2m1 0h1m6 0h1m39 0h1m42 0h1m35 0h1m-149 1h1m14 0h1m5 0h1m26 0h1m19 0h2m13 0h1m8 0h1m58 0h2m-156 1h1m8 0h1m40 0h1m33 0h1m18 0h1m67 0h1m-164 1h1m15 0h1m34 0h1m34 0h1m8 0h1m8 0h1m21 0h1m16 0h1m-142 1h1m20 0h1m11 0h1m18 0h1m15 0h1m20 0h1m9 0h1m2 0h1m10 0h1m3 0h1m-108 1h1m7 0h1m15 0h1m51 0h1m3 0h1m18 0h2m8 0h1m3 0h2m31 0h1m2 0h1m-166 1h1m50 0h1m2 0h1m25 0h1m20 0h1m3 0h1m10 0h1m8 0h1m2 0h1m40 0h1m-172 1h1m26 0h1m37 0h1m8 0h1m12 0h1m23 0h1m18 0h1m20 0h1m2 0h1m-154 1h1m15 0h1m8 0h1m7 0h1m2 0h1m5 0h1m18 0h1m5 0h1m13 0h2m10 0h1m7 0h1m17 0h1m22 0h1m20 0h1m-160 1h2m7 0h1m18 0h1m9 0h1m1 0h1m38 0h1m1 0h1m7 0h1m21 0h1m20 0h1m17 0h1m12 0h1m-168 1h2m11 0h1m14 0h1m22 0h1m37 0h1m40 0h1m36 0h1"/>
<path stroke="#4fb" d="M0 0h1m2 0h1m23 0h2m5 0h1m18 0h1m17 0h1m29 0h1m1 0h1m36 0h1m19 0h1m-145 1h1m5 0h1m13 0h1m19 0h1m8 0h1m10 0h1m6 0h1m6 0h1m2 0h1m15 0h1m7 0h1m17 0h1m2 0h1m-132 1h1m7 0h1m4 0h1m79 0h1m2 0h1m7 0h1m31 0h1m-135 1h1m29 0h1m5 0h1m5 0h1m4 0h1m1 0h1m38 0h1m27 0h1m21 0h1m-91 1h1m17 0h1m6 0h1m12 0h1m24 0h2m18 0h1m5 0h1m8 0h1m-91 1h1m35 0h1m14 0h1m5 0h1m22 0h1m-134 1h1m7 0h1m17 0h1m21 0h1m17 0h1m21 0h1m4 0h1m13 0h1m30 0h1m3 0h1m17 0h1m-162 1h1m11 0h1m1 0h1m83 0h1m19 0h1m9 0h1m-128 1h1m16 0h1m1 0h1m49 0h1m18 0h1m8 0h1m8 0h1m3 0h1m11 0h1m-82 1h1m9 0h1m4 0h1m9 0h1m13 0h1m8 0h1m39 0h1m17 0h1m11 0h1m-172 1h1m3 0h1m27 0h1m1 0h1m12 0h1m19 0h1m23 0h1m1 0h1m31 0h1m12 0h1m2 0h1m10 0h1m2 0h1m-123 1h1m2 0h1m21 0h1m24 0h1m17 0h2m40 0h1m21 0h1m-138 1h1m1 0h1m14 0h1m35 0h1m5 0h1m36 0h1m22 0h1m-146 1h1m2 0h1m16 0h1m7 0h1m7 0h1m30 0h1m2 0h1m3 0h1m11 0h2m49 0h1m27 0h1m3 0h1m-161 1h1m25 0h1m2 0h1m6 0h1m12 0h1m3 0h1m3 0h1m14 0h1m2 0h1m5 0h2m1 0h1m63 0h1m-147 1h1m10 0h1m1 0h1m10 0h1m35 0h1m13 0h1m11 0h1m17 0h1m29 0h1m3 0h1m-150 1h1m34 0h1m22 0h1m33 0h1m52 0h1m20 0h1m-168 1h1m17 0h1m29 0h1m1 0h1m11 0h1m4 0h1m1 0h1m11 0h1m6 0h1m7 0h1m9 0h1m5 0h1m28 0h1m-126 1h1m15 0h1m24 0h1m17 0h2m18 0h1m24 0h1m6 0h3m1 0h1m34 0h1m1 0h1m-163 1h1m28 0h1m7 0h1m3 0h1m14 0h1m11 0h1m6 0h1m16 0h1m5 0h1m5 0h1m8 0h1m20 0h1m26 0h1m2 0h1m-167 1h1m1 0h1m30 0h1m14 0h1m25 0h1m56 0h1m-99 1h1m14 0h1m21 0h1m11 0h1m4 0h1m8 0h1m17 0h1m5 0h2m5 0h1m-84 1h1m5 0h1m13 0h1m2 0h1m38 0h1m15 0h1m1 0h1m2 0h1m3 0h1m11 0h1m3 0h1m4 0h1m14 0h1m-154 1h1m8 0h1m2 0h1m1 0h1m15 0h1m11 0h1m4 0h1m16 0h1m13 0h1m13 0h1m3 0h1m29 0h1m26 0h1m-169 1h2m9 0h1m41 0h1m6 0h2m49 0h1m8 0h1m29 0h1m20 0h1m-174 1h1m5 0h1m22 0h1m6 0h1m9 0h1m10 0h1m14 0h1m10 0h1m2 0h1m49 0h2m17 0h1m13 0h1m-172 1h1m11 0h1m36 0h1m2 0h1m45 0h1m12 0h1m8 0h1m38 0h2m-135 1h1m22 0h1m41 0h1m7 0h1m27 0h1m19 0h1m12 0h1m1 0h1m5 0h1m-144 1h1m12 0h1m17 0h1m13 0h1m42 0h1m4 0h1m16 0h1m37 0h1m-142 1h1m16 0h1m21 0h1m28 0h1m2 0h1m51 0h1m-143 1h1m1 0h1m31 0h2m8 0h2m15 0h1m15 0h1m5 0h1m15 0h1m20 0h1m39 0h1m-173 1h1m4 0h2m8 0h1m9 0h1m11 0h2m5 0h1m19 0h1m89 0h1m13 0h1m-166 1h1m1 0h1m30 0h1m62 0h1m10 0h2m44 0h1m11 0h1m-167 1h1m4 0h1m26 0h1m1 0h1m46 0h1m17 0h1m1 0h1m28 0h1m1 0h1m11 0h1m22 0h1m4 0h1m-133 1h1m66 0h1m3 0h1m1 0h1m12 0h1m13 0h1m3 0h1m-135 1h1m21 0h1m39 0h1m12 0h1m24 0h1m50 0h1m5 0h2m-166 1h2m6 0h2m6 0h1m18 0h1m1 0h1m8 0h1m4 0h1m12 0h1m1 0h1m16 0h1m43 0h1m14 0h1m20 0h1m1 0h1m-136 1h1m19 0h1m11 0h2m16 0h1m1 0h1m2 0h1m22 0h1m10 0h1m17 0h1m26 0h2m-151 1h1m3 0h1m3 0h1m74 0h1m23 0h1m9 0h1m24 0h1m-141 1h1m7 0h1m32 0h1m7 0h1m8 0h1m7 0h1m31 0h1m12 0h1m6 0h1m16 0h1m-155 1h1m22 0h1m24 0h1m10 0h1m22 0h1m7 0h1m4 0h1m23 0h1m9 0h1m7 0h1m6 0h1m23 0h1m-163 1h1m27 0h2m19 0h1m50 0h1m28 0h2m9 0h1m22 0h1m-161 1h1m34 0h1m43 0h1m15 0h1m16 0h1m1 0h1m23 0h1m-149 1h1m31 0h1m2 0h1m12 0h1m9 0h1m63 0h1m36 0h1m-135 1h1m1 0h1m2 0h1m6 0h1m34 0h1m13 0h1m18 0h1m1 0h1m8 0h1m1 0h1m43 0h1m4 0h2m3 0h1m-175 1h1m20 0h1m38 0h1m23 0h1m6 0h1m14 0h1m28 0h1m7 0h1m3 0h1m20 0h1m-115 1h1m25 0h3m19 0h1m32 0h1m5 0h1m13 0h1m-143 1h1m83 0h1m22 0h1"/>
<path stroke="#6f8" d="M4 0h1m2 0h1m14 0h1m7 0h1m1 0h1m-8 1h1m23 0h1m11 0h1m37 0h1m28 0h1m19 0h1m4 0h1m3 0h1m3 0h1m9 0h1m2 0h2m-173 1h1m6 0h1m26 0h1m2 0h1m3 0h1m4 0h1m30 0h1m1 0h1m6 0h1m14 0h1m11 0h1m8 0h1m28 0h1m18 0h1m-163 1h1m4 0h1m25 0h1m11 0h1m8 0h1m26 0h1m72 0h1m7 0h2m-157 1h1m5 0h2m12 0h1m51 0h2m15 0h1m3 0h1m22 0h2m29 0h1m-146 1h1m19 0h1m8 0h1m3 0h1m18 0h1m35 0h1m23 0h2m14 0h1m3 0h1m18 0h1m-161 1h1m51 0h2m19 0h1m6 0h2m2 0h1m14 0h1m8 0h1m7 0h1m7 0h1m-78 1h1m9 0h1m38 0h1m21 0h1m29 0h1m9 0h1m2 0h1m-154 1h1m4 0h1m14 0h1m42 0h1m64 0h1m4 0h1m-136 1h1m2 0h1m29 0h1m11 0h1m24 0h1m7 0h1m66 0h1m-87 1h2m3 0h1m4 0h1m14 0h1m11 0h1m18 0h1m14 0h1m23 0h2m-117 1h1m9 0h1m12 0h1m43 0h1m16 0h1m8 0h1m5 0h1m1 0h1m13 0h1m-152 1h1m1 0h1m1 0h1m1 0h1m27 0h1m9 0h1m15 0h1m14 0h1m9 0h1m23 0h1m31 0h2m2 0h1m7 0h1m-152 1h1m16 0h1m8 0h1m13 0h1m1 0h1m2 0h1m5 0h1m12 0h1m7 0h1m18 0h1m37 0h1m16 0h1m3 0h1m-166 1h1m16 0h1m1 0h1m51 0h1m35 0h1m26 0h1m8 0h2m10 0h1m13 0h1m-119 1h1m31 0h1m6 0h1m2 0h1m1 0h2m25 0h2m2 0h1m20 0h1m-135 1h1m16 0h1m3 0h1m9 0h2m37 0h1m3 0h1m10 0h1m-72 1h1m21 0h2m8 0h1m62 0h1m19 0h1m-86 1h1m1 0h1m29 0h1m7 0h1m-90 1h1m35 0h1m4 0h1m2 0h1m6 0h1m1 0h1m30 0h1m46 0h1m1 0h1m-74 1h1m6 0h1m1 0h1m21 0h1m24 0h1m5 0h1m4 0h1m9 0h1m23 0h1m-171 1h1m15 0h1m15 0h1m10 0h1m67 0h1m-75 1h1m12 0h1m9 0h1m24 0h1m23 0h1m6 0h1m14 0h1m39 0h1m-164 1h1m27 0h1m9 0h1m6 0h1m9 0h1m7 0h1m9 0h1m6 0h1m5 0h1m37 0h1m2 0h1m3 0h1m7 0h1m-141 1h1m19 0h1m2 0h1m37 0h1m57 0h1m5 0h1m10 0h1m9 0h2m7 0h1m5 0h1m-162 1h1m7 0h1m1 0h1m11 0h1m19 0h1m6 0h1m4 0h1m7 0h1m62 0h1m-132 1h1m2 0h1m15 0h1m13 0h1m25 0h1m2 0h1m32 0h1m2 0h2m59 0h1m-164 1h1m11 0h1m3 0h1m16 0h2m45 0h1m2 0h1m52 0h1m6 0h1m3 0h1m-141 1h1m28 0h1m17 0h1m1 0h1m30 0h1m36 0h1m15 0h1m8 0h2m23 0h1m-118 1h1m5 0h1m1 0h1m61 0h1m2 0h1m39 0h1m-153 1h1m12 0h1m1 0h1m17 0h1m7 0h1m3 0h1m1 0h1m4 0h1m7 0h1m24 0h1m4 0h1m7 0h1m11 0h1m8 0h1m26 0h3m-145 1h1m11 0h1m5 0h1m18 0h1m8 0h1m5 0h1m4 0h1m7 0h1m1 0h1m10 0h1m4 0h1m18 0h1m23 0h1m8 0h1m5 0h1m9 0h1m-173 1h1m25 0h1m1 0h1m13 0h1m2 0h1m20 0h1m2 0h1m78 0h1m8 0h1m-159 1h1m3 0h1m23 0h1m50 0h1m13 0h1m5 0h1m6 0h1m6 0h1m27 0h2m9 0h1m6 0h1m12 0h1m-170 1h2m38 0h1m23 0h1m6 0h1m23 0h1m7 0h1m27 0h1m12 0h1m7 0h1m13 0h1m-165 1h1m49 0h1m32 0h1m38 0h1m-129 1h1m32 0h1m12 0h1m1 0h1m4 0h1m15 0h1m6 0h1m9 0h1m14 0h1m7 0h1m15 0h1m1 0h2m35 0h1m-162 1h1m11 0h1m14 0h1m20 0h1m23 0h1m8 0h1m57 0h1m8 0h1m22 0h1m-160 1h1m2 0h1m68 0h1m2 0h1m30 0h1m13 0h2m9 0h2m14 0h1m2 0h1m5 0h1m-171 1h1m5 0h1m4 0h1m63 0h1m5 0h1m15 0h1m4 0h1m5 0h1m6 0h1m2 0h1m15 0h1m-131 1h1m11 0h1m44 0h1m7 0h1m13 0h1m5 0h1m22 0h1m16 0h1m1 0h1m10 0h1m15 0h1m-160 1h1m28 0h1m24 0h1m24 0h1m42 0h1m23 0h1m13 0h1m3 0h1m9 0h1m-165 1h1m31 0h1m1 0h1m25 0h2m-72 1h1m19 0h1m18 0h1m3 0h1m33 0h1m49 0h1m38 0h1m-120 1h1m10 0h1m38 0h1m13 0h1m32 0h1m14 0h1m1 0h1m-155 1h1m26 0h1m1 0h1m12 0h1m12 0h1m27 0h1m6 0h1m7 0h1m5 0h1m28 0h1m29 0h1m2 0h2m-170 1h1m7 0h1m24 0h1m2 0h1m26 0h1m18 0h1m13 0h1m33 0h1m7 0h1m-133 1h1m34 0h1m1 0h1m27 0h1m4 0h1m20 0h1m10 0h1m2 0h1m7 0h1"/>
<path stroke="#8f6" d="M1 0h1m3 0h1m64 0h1m26 0h1m6 0h1m21 0h1m5 0h1m11 0h1m6 0h1m13 0h1m-163 1h1m2 0h1m8 0h1m30 0h1m24 0h1m41 0h1m22 0h1m26 0h1m8 0h1m-167 1h1m81 0h1m1 0h1m62 0h1m18 0h1m2 0h1m-155 1h1m38 0h1m14 0h2m17 0h1m20 0h1m8 0h1m18 0h1m17 0h1m3 0h1m7 0h1m-172 1h1m55 0h1m7 0h1m6 0h1m6 0h1m42 0h1m30 0h1m18 0h1m-165 1h1m35 0h1m14 0h1m10 0h2m10 0h1m2 0h1m10 0h1m6 0h1m3 0h1m19 0h1m13 0h1m21 0h1m-161 1h1m46 0h1m21 0h1m10 0h1m22 0h1m4 0h1m11 0h1m10 0h1m34 0h1m-162 1h1m9 0h1m42 0h1m23 0h1m30 0h1m1 0h1m8 0h1m6 0h1m7 0h1m28 0h1m1 0h1m-162 1h1m34 0h1m11 0h1m32 0h1m10 0h1m22 0h1m38 0h1m-160 1h1m41 0h1m9 0h1m4 0h2m33 0h1m6 0h1m58 0h1m-148 1h2m61 0h1m10 0h1m36 0h1m16 0h1m13 0h1m6 0h1m-150 1h1m5 0h1m20 0h1m4 0h1m20 0h1m4 0h1m2 0h1m2 0h1m7 0h1m7 0h1m11 0h2m13 0h1m44 0h1m-167 1h1m8 0h1m17 0h1m1 0h1m12 0h1m16 0h1m13 0h1m44 0h1m38 0h1m12 0h1m-140 1h1m16 0h1m6 0h1m7 0h1m18 0h1m49 0h1m38 0h1m-159 1h1m11 0h1m20 0h1m18 0h1m57 0h1m3 0h1m3 0h1m2 0h1m8 0h1m14 0h1m-135 1h1m28 0h1m17 0h1m7 0h1m35 0h1m20 0h1m3 0h2m8 0h1m9 0h1m-153 1h1m33 0h1m5 0h1m38 0h1m9 0h1m28 0h1m7 0h1m17 0h1m-144 1h1m8 0h1m18 0h2m86 0h1m3 0h1m-91 1h1m3 0h1m5 0h1m13 0h1m10 0h1m6 0h1m5 0h1m11 0h1m32 0h1m14 0h1m-133 1h1m9 0h1m1 0h1m21 0h1m11 0h1m13 0h1m33 0h1m46 0h1m-152 1h1m39 0h1m39 0h1m9 0h1m23 0h1m24 0h1m13 0h1m-117 1h1m8 0h1m24 0h1m36 0h1m11 0h1m11 0h1m3 0h1m7 0h1m2 0h1m10 0h1m-162 1h1m20 0h1m2 0h1m9 0h1m2 0h1m1 0h2m6 0h1m22 0h1m2 0h1m15 0h1m7 0h1m1 0h1m31 0h1m6 0h1m17 0h1m11 0h1m-175 1h2m21 0h1m12 0h1m7 0h1m32 0h1m31 0h1m34 0h1m2 0h1m9 0h1m5 0h1m-154 1h1m30 0h2m4 0h1m3 0h1m10 0h1m4 0h1m38 0h1m-57 1h1m79 0h1m11 0h1m9 0h1m9 0h1m-156 1h1m6 0h1m6 0h1m48 0h1m12 0h2m21 0h1m17 0h1m15 0h1m4 0h1m-136 1h1m1 0h1m39 0h1m21 0h1m26 0h1m3 0h1m23 0h1m33 0h1m9 0h1m-97 1h1m2 0h1m17 0h1m6 0h1m57 0h1m7 0h1m-162 1h1m36 0h1m48 0h1m1 0h1m54 0h1m13 0h1m-152 1h1m22 0h1m29 0h1m3 0h1m10 0h1m2 0h1m4 0h1m1 0h1m4 0h1m14 0h1m3 0h1m26 0h1m-129 1h1m24 0h2m11 0h1m36 0h1m17 0h2m12 0h1m6 0h1m1 0h1m14 0h1m2 0h1m21 0h1m-173 1h1m14 0h1m17 0h2m7 0h1m39 0h1m15 0h1m20 0h1m-106 1h1m20 0h1m1 0h1m69 0h2m10 0h1m10 0h1m-131 1h1m26 0h1m10 0h1m17 0h2m17 0h1m2 0h1m26 0h1m2 0h1m20 0h1m20 0h1m13 0h1m-158 1h1m19 0h1m44 0h1m40 0h1m26 0h1m21 0h1m1 0h1m-149 1h1m12 0h1m113 0h1m4 0h1m15 0h1m1 0h1m7 0h1m-169 1h1m9 0h1m1 0h1m12 0h2m19 0h1m5 0h1m13 0h1m20 0h1m8 0h1m35 0h1m21 0h1m1 0h1m-157 1h1m2 0h1m1 0h1m18 0h2m53 0h1m20 0h1m12 0h1m16 0h1m36 0h1m-110 1h1m8 0h1m21 0h1m28 0h1m7 0h1m19 0h1m-148 1h1m6 0h1m34 0h1m2 0h1m22 0h1m5 0h2m3 0h1m29 0h1m15 0h1m19 0h1m5 0h1m-142 1h2m4 0h1m17 0h1m25 0h1m14 0h1m20 0h1m9 0h1m5 0h1m11 0h1m7 0h1m2 0h1m-130 1h1m13 0h1m31 0h1m6 0h1m83 0h2m1 0h1m2 0h1m5 0h1m-157 1h1m58 0h1m5 0h1m5 0h1m8 0h1m19 0h1m12 0h1m1 0h1m12 0h1m25 0h2m6 0h1m-146 1h1m14 0h1m42 0h1m4 0h1m67 0h1m-150 1h1m4 0h1m47 0h2m5 0h1m48 0h1m16 0h1m6 0h1m-116 1h1m11 0h1m15 0h1m28 0h1m29 0h1m18 0h2m16 0h1m4 0h1m1 0h1m11 0h1m-165 1h1m17 0h1m1 0h1m6 0h1m11 0h1m41 0h1m29 0h1m1 0h1m11 0h1m23 0h1m7 0h1m7 0h1"/>
<path stroke="#bf4" d="M8 0h1m10 0h1m11 0h1m25 0h1m17 0h1m11 0h1m11 0h1m17 0h1m16 0h1m24 0h1m-156 1h1m2 0h1m1 0h1m11 0h1m4 0h1m33 0h1m21 0h1m1 0h1m15 0h1m9 0h1m11 0h1m37 0h1m-161 1h1m22 0h1m9 0h1m13 0h2m2 0h1m54 0h1m15 0h1m1 0h1m21 0h2m9 0h1m4 0h1m-162 1h1m2 0h1m7 0h1m4 0h1m30 0h1m1 0h1m20 0h1m5 0h1m10 0h1m6 0h1m9 0h1m-97 1h1m25 0h1m63 0h1m6 0h1m53 0h1m-130 1h1m9 0h1m14 0h1m20 0h1m32 0h1m4 0h1m2 0h1m20 0h1m-115 1h1m31 0h1m6 0h1m20 0h1m12 0h1m11 0h1m21 0h1m-132 1h1m83 0h1m12 0h1m41 0h1m5 0h2m25 0h1m-163 1h1m39 0h1m14 0h1m21 0h1m17 0h1m22 0h1m43 0h1m-134 1h1m1 0h1m1 0h1m2 0h1m10 0h1m3 0h1m34 0h1m22 0h1m4 0h1m8 0h1m1 0h1m8 0h1m9 0h1m19 0h1m-145 1h1m5 0h1m22 0h1m40 0h1m14 0h1m46 0h1m2 0h1m-154 1h1m3 0h1m2 0h1m76 0h1m24 0h1m29 0h1m-105 1h2m-47 1h1m24 0h1m2 0h1m36 0h1m4 0h1m40 0h1m2 0h1m10 0h1m9 0h1m22 0h1m-155 1h1m10 0h1m36 0h1m32 0h1m31 0h1m30 0h1m6 0h1m-130 1h1m3 0h1m28 0h1m29 0h1m16 0h1m28 0h1m16 0h1m10 0h1m-159 1h2m22 0h1m29 0h1m14 0h1m7 0h1m10 0h1m30 0h1m14 0h1m2 0h1m18 0h1m-158 1h1m18 0h1m7 0h1m13 0h1m4 0h1m4 0h1m21 0h1m17 0h1m13 0h1m4 0h1m3 0h1m26 0h1m4 0h1m2 0h2m1 0h1m15 0h1m-167 1h1m14 0h1m6 0h1m2 0h1m139 0h1m-104 1h2m48 0h2m26 0h1m-150 1h1m21 0h1m1 0h1m8 0h1m6 0h2m1 0h1m3 0h1m19 0h1m32 0h2m11 0h1m52 0h2m-161 1h1m25 0h1m40 0h1m2 0h1m3 0h1m29 0h1m27 0h1m7 0h1m21 0h1m3 0h1m-162 1h1m11 0h1m1 0h1m5 0h1m9 0h1m23 0h3m1 0h1m7 0h1m12 0h1m5 0h1m3 0h2m25 0h1m10 0h1m2 0h1m11 0h1m1 0h1m-104 1h1m11 0h1m38 0h1m13 0h1m19 0h1m7 0h1m1 0h1m13 0h1m1 0h1m9 0h1m-123 1h1m7 0h1m15 0h1m33 0h1m6 0h1m3 0h1m52 0h1m-174 1h1m23 0h1m14 0h1m17 0h1m8 0h1m12 0h1m14 0h1m4 0h2m7 0h1m30 0h1m8 0h2m-148 1h2m12 0h1m12 0h1m38 0h1m20 0h1m5 0h1m17 0h1m10 0h1m2 0h1m8 0h3m11 0h1m-149 1h1m16 0h1m2 0h1m7 0h3m24 0h1m7 0h1m28 0h1m18 0h1m1 0h1m2 0h1m2 0h2m18 0h1m-109 1h1m9 0h1m75 0h1m23 0h1m4 0h1m18 0h1m3 0h1m-170 1h1m3 0h1m9 0h2m4 0h1m1 0h1m13 0h1m10 0h1m94 0h1m-111 1h1m1 0h1m40 0h1m29 0h1m21 0h1m16 0h1m13 0h1m2 0h1m3 0h1m5 0h1m-164 1h1m44 0h1m51 0h1m20 0h1m16 0h1m6 0h1m8 0h1m3 0h1m-141 1h1m19 0h1m57 0h1m11 0h1m23 0h1m-109 1h1m58 0h1m47 0h1m17 0h1m-155 1h1m2 0h1m41 0h1m12 0h1m9 0h1m13 0h1m27 0h1m6 0h1m3 0h1m11 0h1m17 0h1m-98 1h1m1 0h1m4 0h1m30 0h1m15 0h1m35 0h1m-116 1h1m52 0h1m10 0h1m23 0h1m-64 1h1m8 0h2m2 0h1m53 0h1m6 0h1m-126 1h1m39 0h1m1 0h1m28 0h1m3 0h1m3 0h1m19 0h1m18 0h1m9 0h1m20 0h1m2 0h1m13 0h1m-167 1h1m17 0h1m16 0h1m48 0h1m2 0h1m20 0h1m8 0h1m18 0h1m1 0h1m18 0h1m-143 1h1m34 0h1m25 0h1m9 0h1m26 0h1m41 0h1m8 0h1m-152 1h1m28 0h1m119 0h1m-142 1h1m35 0h1m14 0h1m50 0h1m7 0h1m21 0h1m-137 1h1m2 0h2m9 0h1m21 0h1m8 0h2m4 0h1m33 0h1m5 0h1m6 0h1m4 0h1m12 0h1m3 0h1m5 0h1m-127 1h2m30 0h1m38 0h1m9 0h2m34 0h1m1 0h1m7 0h1m-139 1h1m15 0h1m2 0h1m19 0h1m1 0h1m16 0h1m39 0h1m35 0h1m5 0h1m-120 1h1m44 0h1m10 0h1m24 0h1m54 0h1m-144 1h1m14 0h1m11 0h2m28 0h1m33 0h1m19 0h1"/>
<path stroke="#df1" d="M18 0h1m14 0h1m115 0h2m22 0h1m-143 1h1m3 0h1m3 0h1m45 0h1m2 0h1m29 0h1m32 0h1m-144 1h1m21 0h1m42 0h1m2 0h1m6 0h1m66 0h1m1 0h1m-133 1h1m36 0h1m16 0h1m18 0h1m18 0h1m13 0h1m4 0h1m43 0h1m-164 1h1m8 0h1m7 0h1m23 0h1m38 0h1m50 0h1m5 0h1m17 0h1m-164 1h1m14 0h1m10 0h1m4 0h1m56 0h1m1 0h1m17 0h1m6 0h1m38 0h1m-113 1h1m2 0h1m5 0h1m31 0h1m4 0h1m48 0h1m-138 1h1m22 0h1m4 0h1m38 0h1m18 0h1m2 0h2m16 0h1m25 0h1m26 0h1m6 0h1m-165 1h1m48 0h1m7 0h1m63 0h1m41 0h1m-163 1h1m24 0h1m18 0h1m1 0h1m26 0h1m47 0h1m19 0h1m20 0h1m-163 1h1m17 0h1m9 0h1m6 0h1m5 0h1m9 0h1m66 0h1m-122 1h1m22 0h1m15 0h1m17 0h1m2 0h1m62 0h1m27 0h1m-157 1h1m9 0h1m4 0h1m31 0h1m13 0h1m18 0h1m10 0h1m9 0h1m41 0h1m-123 1h1m35 0h1m42 0h1m18 0h1m26 0h1m6 0h2m-140 1h1m19 0h1m17 0h2m46 0h1m4 0h2m1 0h1m43 0h1m14 0h2m-169 1h1m39 0h1m28 0h1m22 0h1m20 0h2m33 0h1m8 0h1m-136 1h1m7 0h1m102 0h1m-133 1h1m11 0h1m6 0h1m16 0h1m5 0h1m14 0h1m16 0h1m18 0h1m10 0h1m56 0h1m3 0h1m4 0h1m-116 1h1m2 0h1m5 0h1m25 0h1m5 0h1m26 0h1m7 0h1m-125 1h1m24 0h1m27 0h1m44 0h1m39 0h1m24 0h2m-166 1h1m10 0h1m8 0h1m1 0h1m1 0h1m29 0h1m46 0h1m5 0h1m26 0h1m-131 1h1m21 0h1m55 0h1m22 0h1m32 0h1m-145 1h1m5 0h1m35 0h1m28 0h1m30 0h1m2 0h1m39 0h1m19 0h1m-147 1h1m3 0h1m15 0h1m1 0h1m19 0h1m24 0h1m1 0h1m15 0h1m21 0h1m27 0h1m3 0h1m-155 1h1m20 0h1m9 0h1m16 0h1m22 0h1m6 0h1m34 0h1m11 0h1m5 0h2m-136 1h1m18 0h1m4 0h1m1 0h1m24 0h1m1 0h1m12 0h1m11 0h1m5 0h1m45 0h1m22 0h1m-142 1h1m18 0h1m18 0h1m3 0h1m-50 1h1m2 0h1m13 0h1m2 0h1m11 0h1m37 0h1m23 0h1m46 0h1m-147 1h1m46 0h1m97 0h1m-125 1h1m15 0h1m20 0h1m21 0h1m33 0h1m1 0h1m12 0h1m11 0h1m-134 1h1m5 0h1m3 0h1m14 0h1m4 0h1m21 0h1m4 0h1m24 0h1m30 0h1m11 0h1m3 0h1m7 0h1m3 0h1m-151 1h1m63 0h1m28 0h1m34 0h1m9 0h1m-130 1h1m12 0h1m6 0h1m16 0h1m17 0h1m14 0h1m10 0h1m15 0h1m1 0h1m11 0h1m21 0h1m17 0h1m9 0h1m-150 1h1m30 0h1m6 0h1m3 0h1m78 0h1m4 0h1m-138 1h1m16 0h1m2 0h1m20 0h1m9 0h1m19 0h1m19 0h1m27 0h1m12 0h1m5 0h1m9 0h2m-143 1h1m26 0h1m2 0h2m12 0h1m37 0h1m24 0h1m11 0h1m3 0h1m-115 1h1m54 0h2m2 0h1m29 0h1m4 0h1m27 0h1m-151 1h1m9 0h1m2 0h1m4 0h1m28 0h1m1 0h2m55 0h1m5 0h1m27 0h1m14 0h1m-115 1h1m2 0h1m46 0h1m2 0h1m8 0h1m9 0h1m27 0h1m17 0h1m15 0h1m-93 1h1m26 0h3m14 0h1m2 0h1m29 0h1m-111 1h1m38 0h1m47 0h1m25 0h1m5 0h1m-163 1h1m5 0h1m14 0h1m12 0h1m1 0h1m8 0h1m12 0h1m12 0h1m44 0h1m2 0h1m-80 1h1m6 0h1m6 0h1m7 0h1m40 0h1m13 0h1m14 0h1m7 0h1m22 0h1m-156 1h1m20 0h1m11 0h2m3 0h1m38 0h1m45 0h1m12 0h1m19 0h1m-162 1h2m6 0h1m8 0h1m4 0h1m24 0h1m2 0h1m10 0h1m4 0h1m32 0h1m27 0h1m11 0h1m-82 1h1m5 0h1m7 0h1m-83 1h1m68 0h1m10 0h1m58 0h1m10 0h1m3 0h1m3 0h1m-144 1h1"/>
<path stroke="#fd0" d="M14 0h1m24 0h1m33 0h1m49 0h1m5 0h1m26 0h1m4 0h1m7 0h1m-158 1h1m1 0h1m9 0h1m27 0h1m17 0h1m23 0h1m3 0h1m8 0h1m12 0h1m2 0h1m25 0h1m9 0h1m-125 1h1m29 0h1m42 0h1m11 0h1m15 0h1m3 0h1m17 0h1m-136 1h1m20 0h1m21 0h1m67 0h2m3 0h1m2 0h1m-119 1h2m11 0h1m27 0h1m32 0h1m19 0h1m22 0h1m10 0h1m17 0h1m3 0h1m-170 1h1m21 0h1m21 0h1m2 0h1m8 0h1m74 0h1m1 0h1m10 0h1m-120 1h1m3 0h1m1 0h1m5 0h1m68 0h1m55 0h1m-161 1h1m32 0h1m6 0h1m20 0h1m1 0h1m4 0h1m42 0h1m1 0h1m-116 1h2m20 0h1m12 0h1m1 0h1m7 0h1m20 0h1m3 0h1m16 0h1m43 0h1m16 0h1m8 0h1m-133 1h1m41 0h1m16 0h1m37 0h1m9 0h1m2 0h1m9 0h1m12 0h1m-157 1h1m17 0h1m18 0h1m19 0h1m43 0h2m-70 1h1m45 0h1m2 0h1m5 0h1m13 0h1m21 0h1m2 0h1m19 0h1m12 0h1m-142 1h1m10 0h1m62 0h1m38 0h1m5 0h1m-131 1h1m34 0h1m51 0h1m22 0h1m4 0h1m17 0h1m-118 1h2m3 0h1m9 0h1m10 0h1m24 0h1m21 0h1m10 0h1m16 0h1m4 0h1m6 0h1m-131 1h1m4 0h2m23 0h1m6 0h1m1 0h1m13 0h1m3 0h1m22 0h1m74 0h1m-154 1h1m12 0h1m4 0h1m20 0h1m9 0h1m41 0h1m1 0h1m6 0h1m35 0h1m13 0h1m2 0h1m-158 1h1m26 0h1m83 0h1m16 0h2m13 0h1m-134 1h1m42 0h1m60 0h1m7 0h1m24 0h1m5 0h1m-143 1h1m37 0h1m21 0h1m4 0h1m4 0h2m34 0h1m10 0h1m21 0h1m4 0h1m6 0h1m-172 1h1m13 0h1m5 0h1m64 0h1m39 0h1m9 0h1m5 0h2m-136 1h1m3 0h1m33 0h1m1 0h1m6 0h1m9 0h1m-34 1h1m40 0h1m8 0h2m10 0h1m11 0h1m9 0h1m46 0h1m-98 1h1m31 0h1m26 0h1m40 0h1m-167 1h1m40 0h1m2 0h1m39 0h1m10 0h1m3 0h1m33 0h1m15 0h1m21 0h1m-138 1h1m4 0h1m9 0h1m41 0h1m10 0h1m9 0h1m8 0h1m29 0h1m7 0h1m-140 1h1m65 0h1m19 0h1m22 0h1m43 0h1m-171 1h2m12 0h1m31 0h1m17 0h1m19 0h1m16 0h1m24 0h1m8 0h1m25 0h1m-138 1h2m66 0h1m8 0h1m4 0h1m4 0h2m13 0h1m32 0h1m1 0h1m-129 1h1m9 0h1m6 0h1m32 0h1m5 0h1m7 0h1m4 0h1m29 0h1m14 0h1m11 0h1m-136 1h1m51 0h1m46 0h1m6 0h1m34 0h2m-151 1h1m39 0h1m11 0h1m5 0h1m62 0h1m-125 1h1m33 0h1m1 0h1m10 0h1m11 0h1m8 0h1m58 0h1m15 0h1m5 0h2m-169 1h1m13 0h1m6 0h2m63 0h1m6 0h1m1 0h1m17 0h1m5 0h1m38 0h1m-152 1h1m22 0h1m94 0h1m40 0h1m2 0h1m-130 1h1m1 0h1m24 0h1m18 0h1m20 0h1m1 0h1m10 0h1m4 0h1m17 0h1m-128 1h1m1 0h1m23 0h1m25 0h1m21 0h2m-53 1h1m1 0h1m10 0h1m9 0h2m12 0h1m2 0h1m18 0h1m23 0h1m5 0h1m30 0h1m-156 1h1m3 0h1m2 0h1m15 0h1m2 0h1m16 0h1m27 0h1m6 0h1m27 0h1m6 0h1m-74 1h1m43 0h1m8 0h1m15 0h1m47 0h1m-151 1h1m90 0h1m30 1h2m20 0h1m-152 1h1m24 0h1m4 0h1m14 0h3m33 0h2m25 0h1m13 0h1m-114 1h2m50 0h1m22 0h1m23 0h1m32 0h1m12 0h1m2 0h1m-156 1h1m9 0h1m44 0h1m37 0h1m63 0h1m-153 1h1m65 0h1m18 0h1m26 0h1m15 0h1m23 0h1m-152 1h1m27 0h1m5 0h1m4 0h1m14 0h1m37 0h1m10 0h1m9 0h1m35 0h1m8 0h1m-171 1h1m11 0h2m6 0h1m10 0h1m31 0h1m3 0h1m16 0h1m11 0h1m7 0h1m28 0h1m39 0h1"/>
<path stroke="#fa0" d="M44 0h1m13 0h1m4 0h1m28 0h1m19 0h1m53 0h1m1 0h1m-150 1h1m81 0h1m35 0h1m-112 1h1m27 0h1m26 0h1m19 0h1m10 0h1m17 0h2m5 0h2m20 0h1m3 0h1m-159 1h1m23 0h1m2 0h1m29 0h1m15 0h1m21 0h1m5 0h1m9 0h1m11 0h1m38 0h1m-162 1h1m4 0h1m3 0h1m1 0h1m24 0h1m11 0h1m16 0h1m39 0h1m-92 1h1m22 0h1m51 0h1m24 0h2m18 0h1m22 0h1m-94 1h1m8 0h1m16 0h1m4 0h1m49 0h1m3 0h1m10 0h1m-121 1h1m8 0h1m89 0h1m-130 1h1m13 0h1m14 0h1m43 0h1m53 0h1m13 0h1m-154 1h1m1 0h1m16 0h1m46 0h1m34 0h1m68 0h1m-119 1h1m4 0h1m3 0h1m20 0h1m47 0h1m19 0h1m16 0h1m-157 1h1m7 0h1m2 0h1m7 0h1m32 0h1m1 0h1m34 0h1m10 0h1m8 0h1m33 0h1m-95 1h1m10 0h1m29 0h1m17 0h1m38 0h1m6 0h1m-160 1h1m115 0h1m6 0h1m13 0h1m15 0h1m8 0h1m-157 1h1m9 0h1m7 0h1m16 0h1m39 0h1m10 0h1m8 0h1m6 0h1m14 0h2m30 0h1m-155 1h1m79 0h1m24 0h1m26 0h1m17 0h1m8 0h1m-120 1h1m11 0h2m49 0h1m6 0h1m2 0h1m-125 1h1m46 0h1m33 0h1m11 0h1m42 0h2m20 0h1m-146 1h1m42 0h1m2 0h1m20 0h1m9 0h1m21 0h1m14 0h1m29 0h1m6 0h1m-109 1h1m13 0h1m10 0h1m8 0h1m51 0h2m-93 1h1m35 0h1m3 0h1m2 0h1m2 0h1m49 0h1m7 0h1m4 0h1m-61 1h1m6 0h1m15 0h1m47 0h1m3 0h1m-161 1h1m1 0h1m62 0h1m19 0h1m-98 1h1m41 0h1m14 0h1m11 0h1m11 0h1m10 0h1m20 0h1m13 0h1m2 0h2m20 0h1m19 0h1m-176 1h1m58 0h1m13 0h1m38 0h1m35 0h1m-142 1h1m34 0h1m3 0h1m42 0h2m3 0h1m2 0h1m18 0h1m7 0h1m7 0h1m2 0h1m18 0h1m11 0h1m-148 1h1m28 0h1m17 0h1m11 0h1m88 0h2m1 0h1m-164 1h1m51 0h1m7 0h1m20 0h1m50 0h1m14 0h1m-106 1h1m4 0h1m18 0h1m7 0h1m3 0h1m40 0h1m5 0h1m28 0h1m-153 1h1m52 0h1m29 0h1m12 0h1m19 0h1m3 0h1m11 0h1m-134 1h1m1 0h1m20 0h1m10 0h1m32 0h1m1 0h1m20 0h1m27 0h1m22 0h1m4 0h1m14 0h1m-126 1h1m32 0h1m8 0h1m7 0h1m7 0h1m15 0h2m19 0h1m14 0h1m2 0h1m-113 1h1m10 0h1m25 0h1m34 0h2m29 0h1m21 0h1m4 0h1m-174 1h1m3 0h1m51 0h1m11 0h2m6 0h1m13 0h1m5 0h1m38 0h1m-119 1h1m15 0h1m16 0h1m28 0h1m26 0h1m8 0h1m9 0h1m-97 1h1m30 0h1m31 0h1m7 0h1m33 0h1m14 0h1m-88 1h1m45 0h1m26 0h1m13 0h1m3 0h1m10 0h1m-129 1h1m48 0h1m28 0h1m16 0h1m-117 1h1m6 0h1m20 0h1m38 0h1m41 0h1m2 0h1m10 0h1m28 0h1m-160 1h1m28 0h1m28 0h1m18 0h1m11 0h1m22 0h1m28 0h1m3 0h1m14 0h1m-157 1h1m24 0h1m1 0h1m11 0h1m53 0h1m26 0h1m23 0h1m7 0h1m-161 1h1m25 0h1m20 0h1m16 0h1m12 0h1m15 0h1m31 0h1m3 0h1m6 0h1m8 0h1m13 0h1m-129 1h2m13 0h1m3 0h1m27 0h1m4 0h1m16 0h1m11 0h2m44 0h1m-153 1h1m37 0h1m22 0h1m49 0h1m13 0h1m27 0h1m-165 1h1m18 0h1m15 0h1m1 0h1m34 0h1m29 0h1m32 0h1m14 0h1m17 0h1m2 0h1m-158 1h1m1 0h1m2 0h1m8 0h1m24 0h1m20 0h1m8 0h1m6 0h1m-20 1h1m11 0h1m25 0h1m38 0h1m-148 1h1m35 0h1m30 0h1m3 0h1m14 0h1m10 0h1m34 0h1m22 0h1"/>
<path stroke="#f80" d="M9 0h1m3 0h1m54 0h1m12 0h1m27 0h1m60 0h1m-170 1h1m40 0h1m30 0h1m12 0h1m16 0h1m11 0h1m5 0h1m7 0h1m10 0h1m1 0h1m2 0h1m-141 1h1m12 0h1m36 0h1m14 0h1m48 0h1m7 0h1m4 0h1m-131 1h1m44 0h1m22 0h1m33 0h1m5 0h1m37 0h1m13 0h1m-163 1h1m2 0h1m27 0h1m6 0h1m35 0h1m11 0h1m10 0h1m15 0h1m1 0h1m10 0h1m31 0h1m-138 1h1m7 0h1m9 0h1m36 0h1m21 0h1m62 0h1m5 0h1m-167 1h1m45 0h1m19 0h1m20 0h1m13 0h2m17 0h1m4 0h1m10 0h1m5 0h1m-129 1h1m71 0h1m-50 1h1m14 0h1m30 0h1m9 0h1m29 0h1m26 0h2m2 0h1m15 0h1m-88 1h1m6 0h1m8 0h1m2 0h1m4 0h1m48 0h1m-142 1h1m46 0h1m13 0h1m29 0h1m-108 1h1m10 0h2m19 0h1m83 0h1m1 0h1m44 0h1m-147 1h1m47 0h1m2 0h1m19 0h1m13 0h1m13 0h2m1 0h1m5 0h1m-126 1h1m18 0h1m58 0h1m2 0h1m15 0h1m3 0h1m1 0h2m1 0h1m6 0h1m20 0h1m9 0h1m-64 1h1m17 0h1m28 0h1m13 0h1m12 0h1m-146 1h1m5 0h1m10 0h1m74 0h1m5 0h1m59 0h1m4 0h1m-59 1h1m24 0h1m-137 1h1m56 0h1m3 0h1m37 0h1m5 0h1m15 0h1m45 0h1m-169 1h1m21 0h1m4 0h1m14 0h1m22 0h1m14 0h1m29 0h1m46 0h1m9 0h1m1 0h1m-169 1h1m15 0h1m31 0h1m5 0h1m8 0h1m66 0h1m24 0h1m-156 1h1m29 0h1m1 0h1m32 0h1m16 0h1m44 0h1m2 0h1m-96 1h1m1 0h1m2 0h1m28 0h1m8 0h1m8 0h1m4 0h1m25 0h1m5 0h1m34 0h1m-107 1h1m40 0h1m39 0h1m19 0h2m-152 1h1m25 0h1m35 0h1m10 0h1m26 0h1m28 0h1m-137 1h1m18 0h1m14 0h1m59 0h1m60 0h1m4 0h1m-152 1h1m53 0h1m34 0h1m41 0h1m23 0h1m2 0h1m-146 1h1m3 0h1m9 0h1m23 0h1m6 0h1m22 0h1m41 0h1m31 0h1m-164 1h1m36 0h1m1 0h1m4 0h1m16 0h1m15 0h1m5 0h1m14 0h1m60 0h1m-121 1h1m6 0h1m20 0h1m20 0h1m5 0h1m4 0h2m7 0h1m3 0h1m41 0h1m-124 1h1m2 0h1m23 0h1m32 0h1m24 0h1m5 0h1m5 0h1m7 0h1m33 0h1m-173 1h1m49 0h1m56 0h1m8 0h1m9 1h1m-65 1h1m31 0h1m29 0h1m33 0h1m-60 1h1m41 0h1m6 0h1m22 0h1m-161 1h1m1 0h1m12 0h1m65 0h1m19 0h1m62 0h1m-153 1h1m31 0h1m35 0h1m1 0h1m4 0h1m18 0h1m31 0h1m10 0h1m-150 1h1m23 0h1m27 0h1m7 0h1m20 0h1m4 0h1m49 0h1m14 0h2m-129 1h1m7 0h1m10 0h1m17 0h1m5 0h1m25 0h1m27 0h1m4 0h1m-98 1h1m9 0h1m5 0h1m3 0h1m2 0h1m4 0h1m2 0h1m59 0h2m11 0h1m3 0h1m-141 1h1m16 0h1m1 0h1m30 0h1m21 0h1m13 0h1m6 0h1m48 0h1m5 0h1m18 0h1m-131 1h3m76 0h1m39 0h2m-76 1h1m84 0h1m-168 1h1m46 0h1m10 0h1m14 0h1m74 0h1m-146 1h1m6 0h1m14 0h1m21 0h1m31 0h1m25 0h1m38 0h2m18 0h1m-108 1h1m8 0h1m4 0h1m1 0h1m34 0h1m30 0h1m19 0h1m-142 1h2m18 0h1m13 0h1m2 0h1m5 0h1m19 0h1m28 0h1m22 0h1m17 0h1m-146 1h1m12 0h1m20 0h1m8 0h1m13 0h1m23 0h1m6 0h1m3 0h1m6 0h1m3 0h1m5 0h1m38 0h1m5 0h1m-134 1h1m15 0h1m26 0h1m8 0h1m17 0h1m22 0h1m7 0h1m1 0h1m36 0h1"/>
<path stroke="#f50" d="M29 0h1m8 0h1m7 0h1m2 0h1m36 0h1m38 0h1m7 0h1m-132 1h1m14 0h1m32 0h2m11 0h1m14 0h1m53 0h1m17 0h1m11 0h1m3 0h1m2 0h1m-120 1h1m1 0h1m15 0h1m25 0h1m14 0h1m11 0h1m-21 1h1m62 0h1m-137 1h1m1 0h1m1 0h1m81 0h1m9 0h1m5 0h1m4 0h1m12 0h1m-149 1h1m7 0h1m31 0h1m12 0h1m25 0h1m4 0h1m39 0h2m-108 1h1m72 0h1m50 0h1m-135 1h1m4 0h1m14 0h1m122 0h1m23 0h1m-167 1h1m36 0h2m4 0h1m32 0h1m46 0h1m2 0h1m20 0h1m-111 1h1m4 0h1m28 0h1m2 0h1m20 0h1m9 0h2m3 0h1m49 0h1m-153 1h1m24 0h1m26 0h1m24 0h1m1 0h1m5 0h1m14 0h1m25 0h1m-142 1h1m5 0h1m34 0h1m11 0h1m24 0h1m12 0h1m13 0h1m25 0h1m16 0h2m-136 1h1m25 0h1m17 0h1m9 0h1m-67 1h1m38 0h1m36 0h1m10 0h1m4 0h1m72 0h1m-103 1h1m61 0h1m40 0h1m-154 1h1m21 0h1m15 0h1m7 0h1m22 0h1m26 0h1m9 0h1m6 0h1m-125 1h1m7 0h1m13 0h1m28 0h1m3 0h1m5 0h1m8 0h1m43 0h1m12 0h1m14 0h1m5 0h1m15 0h1m-151 1h1m2 0h1m11 0h1m7 0h1m87 0h1m14 0h1m23 0h1m2 0h1m-105 1h1m12 0h1m23 0h1m2 0h1m35 0h1m6 0h1m-145 1h1m50 0h1m8 0h1m48 0h1m12 0h1m26 0h2m4 0h2m-123 1h1m3 0h1m3 0h1m44 0h1m25 0h1m-119 1h1m9 0h1m48 0h1m20 0h1m10 0h2m28 0h1m13 0h1m5 0h1m6 0h1m-131 1h2m10 0h1m5 0h1m83 0h1m45 0h1m-157 1h1m8 0h1m46 0h1m80 0h1m3 0h1m-147 1h1m19 0h2m31 0h1m19 0h1m20 0h1m13 0h1m46 0h1m-112 1h1m15 0h1m39 0h1m3 0h2m13 0h1m6 0h1m32 0h1m5 0h1m-64 1h1m23 0h1m-14 1h1m37 0h1m-158 1h1m6 0h3m11 0h1m15 0h1m19 0h1m1 0h1m67 0h1m-130 1h1m11 0h1m73 0h1m25 0h1m20 0h2m5 0h1m8 0h1m8 0h1m11 0h1m-166 1h2m13 0h1m30 0h1m34 0h1m19 0h1m6 0h1m7 0h1m24 0h1m25 0h1m-146 1h1m25 0h1m8 0h1m11 0h1m1 0h1m6 0h1m86 0h1m-139 1h1m5 0h1m14 0h1m16 0h1m25 0h2m17 0h1m21 0h1m28 0h1m-158 1h1m1 0h1m15 0h1m13 0h1m11 0h1m56 0h2m39 0h1m16 0h1m-153 1h1m7 0h1m42 0h1m5 0h1m10 0h1m3 0h2m38 0h1m8 0h1m-112 1h1m3 0h1m3 0h1m26 0h1m4 0h1m55 0h1m12 0h1m18 0h1m11 0h2m-109 1h1m7 0h1m11 0h1m25 0h1m5 0h1m14 0h1m-50 1h1m70 0h1m-135 1h1m42 0h1m14 0h1m23 0h1m25 0h1m-114 1h1m8 0h1m51 0h1m61 0h1m4 0h1m11 0h1m22 0h1m-144 1h1m1 0h1m11 0h1m60 0h1m13 0h1m2 0h1m3 0h1m20 0h1m5 0h1m2 0h1m-145 1h1m32 0h1m15 0h1m12 0h1m2 0h1m7 0h1m2 0h1m25 0h1m-47 1h1m8 0h1m43 0h1m7 0h1m34 0h1m9 0h1m-167 1h1m63 0h1m31 0h1m42 0h2m9 0h1m-153 1h1m8 0h1m2 0h1m33 0h1m30 0h1m37 0h1m7 0h2m-112 1h1m89 0h1m12 0h1m5 0h1m-127 1h1m14 0h2m94 0h1m18 0h1m2 0h1m5 0h1m7 0h1m-133 1h1m20 0h1m1 0h1m70 0h1m7 0h1m6 0h1m14 0h1m2 0h1m1 0h3m16 0h1m5 0h1m3 0h1"/>
<path stroke="#f20" d="M83 0h1m21 0h1m2 0h1m7 0h1m30 0h1m19 0h1m6 0h2m-165 1h1m22 0h1m2 0h1m6 0h1m23 0h1m35 0h1m9 0h1m10 0h1m41 0h1m-149 1h1m36 0h1m5 0h1m55 0h1m15 0h2m35 0h1m-141 1h1m5 0h1m31 0h1m13 0h1m37 0h1m31 0h1m14 0h1m-162 1h1m25 0h1m43 0h1m26 0h1m-61 1h1m24 0h1m11 0h1m47 0h1m3 0h1m3 0h1m21 0h1m5 0h1m-166 1h1m6 0h1m8 0h1m5 0h1m4 0h1m4 0h2m16 0h1m24 0h1m37 0h1m9 0h1m34 0h1m-149 1h1m37 0h1m4 0h1m24 0h1m17 0h1m37 0h1m17 0h1m-150 1h1m29 0h2m79 0h1m6 0h1m-122 1h1m20 0h1m23 0h1m29 0h1m12 0h1m5 0h1m12 0h1m13 0h1m4 0h1m40 0h1m-156 1h1m8 0h1m6 0h1m42 0h1m55 0h1m3 0h1m-75 1h1m68 0h1m21 0h1m-147 1h1m5 0h1m47 0h1m26 0h1m11 0h1m37 0h1m10 0h1m-111 1h1m9 0h1m38 0h1m38 0h1m9 0h1m2 0h1m-116 1h1m21 0h1m32 0h1m3 0h1m14 0h1m2 0h1m54 0h1m-149 1h1m17 0h1m23 0h2m42 0h1m12 0h1m8 0h1m7 0h1m27 0h1m-77 1h1m27 0h1m9 0h1m14 0h1m3 0h1m1 0h1m-92 1h1m44 0h1m2 0h1m3 0h1m15 0h1m15 0h1m35 0h1m-151 1h1m4 0h1m26 0h1m11 0h1m32 0h1m31 0h1m-109 1h2m33 0h1m13 0h1m12 0h1m11 0h1m3 0h1m12 0h1m13 0h1m18 0h1m33 0h1m-168 1h1m18 0h1m32 0h1m22 0h1m12 0h1m25 0h1m1 0h1m14 0h1m19 0h1m-146 1h1m18 0h1m35 0h1m25 0h1m15 0h1m2 0h1m31 0h1m23 0h1m-164 1h1m1 0h1m46 0h1m65 0h1m9 0h1m6 0h1m11 0h1m25 0h1m-49 1h1m28 0h1m16 0h1m-152 1h1m4 0h1m24 0h1m26 0h1m3 0h1m20 0h1m-83 1h1m110 0h1m15 0h2m-104 1h1m88 0h1m14 0h1m15 0h1m-127 1h1m12 0h1m2 0h1m8 0h1m24 0h1m46 0h1m-131 1h1m14 0h1m71 0h1m1 0h1m15 0h1m11 0h1m15 0h1m15 0h1m-146 1h1m2 0h1m68 0h1m9 0h1m10 0h1m6 0h1m18 0h1m19 0h1m14 0h1m-136 1h1m92 0h1m2 0h1m8 0h1m23 0h1m-87 1h1m11 0h1m1 0h1m36 0h1m6 0h1m14 0h1m3 0h1m8 0h1m11 0h1m3 0h1m-160 1h1m9 0h1m12 0h1m24 0h1m13 0h2m56 0h1m22 0h1m16 0h1m-155 1h1m26 0h1m3 0h2m11 0h1m95 0h1m-152 1h1m85 0h1m-43 1h1m29 0h1m20 0h1m19 0h1m6 0h1m22 0h1m-99 1h2m21 0h1m23 0h1m11 0h1m-109 1h1m41 0h1m15 0h1m24 0h1m19 0h1m9 0h1m10 0h1m34 0h1m2 0h1m-147 1h1m5 0h1m22 0h1m7 0h1m5 0h1m26 0h1m23 0h1m35 0h1m7 0h1m-135 1h1m40 0h1m38 0h1m22 0h1m16 0h1m1 0h1m15 0h1m1 0h1m-158 1h1m2 0h1m44 0h1m1 0h1m8 0h2m9 0h1m3 0h1m54 0h1m8 0h1m23 0h1m-169 1h1m26 0h1m-29 1h1m2 0h1m11 0h1m27 0h1m28 0h1m41 0h1m29 0h1m11 0h1m8 0h1m-140 1h1m16 0h1m53 0h1m19 0h1m9 0h1m-81 1h1m14 0h1m12 0h1m49 0h1m-93 1h1m1 0h1m21 0h1m83 0h1m31 0h1m-169 1h1m15 0h1m1 0h1m4 0h1m21 0h1m23 0h1m39 0h1m9 0h1m-102 1h1m6 0h1m24 0h1m28 0h1m5 0h1m37 0h1m10 0h1m21 0h1m5 0h1"/>
<path stroke="#d00" d="M2 0h1m49 0h1m60 0h1m1 0h1m20 0h1m18 0h1m15 0h1m-145 1h1m15 0h1m9 0h1m52 0h1m4 0h1m4 0h1m14 0h1m20 0h1m1 0h1m-142 1h1m10 0h1m34 0h1m17 0h1m18 0h1m2 0h1m29 0h1m19 0h1m-143 1h1m6 0h1m20 0h1m7 0h1m21 0h1m16 0h1m34 0h1m26 0h3m5 0h1m-127 1h1m32 0h1m18 0h1m6 0h1m42 0h1m43 0h1m-157 1h1m38 0h1m7 0h1m10 0h1m16 0h1m64 0h1m13 0h1m-161 1h1m4 0h1m21 0h1m16 0h1m26 0h1m12 0h1m78 0h1m-135 1h1m4 0h1m46 0h1m52 0h1m9 0h1m-94 1h1m6 0h1m29 0h1m32 0h1m28 0h1m3 0h1m-146 1h1m14 0h1m31 0h1m15 0h1m61 0h1m16 0h1m10 0h1m-144 1h1m40 0h1m52 0h1m4 0h1m-110 1h1m2 0h1m7 0h1m20 0h1m11 0h1m36 0h1m13 0h1m12 0h1m2 0h1m26 0h1m3 0h1m6 0h1m4 0h1m1 0h1m-138 1h1m1 0h2m1 0h1m6 0h1m61 0h1m17 0h1m4 0h1m1 0h1m2 0h1m5 0h1m4 0h1m12 0h1m5 0h1m-164 1h1m32 0h1m1 0h1m11 0h1m6 0h1m25 0h1m11 0h1m9 0h1m5 0h2m20 0h1m17 0h1m1 0h2m1 0h1m-155 1h1m12 0h1m85 0h1m19 0h1m19 0h1m-141 1h1m34 0h1m81 0h1m18 0h1m-132 1h1m11 0h1m24 0h1m30 0h1m25 0h1m12 0h1m53 0h1m-105 1h1m32 0h1m14 0h1m3 0h2m9 0h1m-127 1h1m36 0h1m72 0h1m5 0h1m23 0h1m28 0h1m-174 1h1m17 0h1m58 0h1m18 0h1m6 0h1m10 0h2m39 0h2m-139 1h1m12 0h1m87 0h1m6 0h1m14 0h1m-141 1h1m16 0h2m3 0h1m25 0h1m11 0h1m6 0h1m24 0h1m15 0h1m4 0h1m37 0h1m5 0h1m11 0h1m-151 1h1m4 0h1m25 0h1m-50 1h1m21 0h1m5 0h1m48 0h1m2 0h1m6 0h1m24 0h1m-99 1h1m9 0h1m18 0h1m10 0h1m26 0h1m19 0h2m27 0h1m36 0h2m-151 1h1m36 0h1m13 0h1m11 0h1m2 0h1m56 0h1m-119 1h1m10 0h1m18 0h1m6 0h2m17 0h1m13 0h1m20 0h1m45 0h1m-159 1h1m4 0h1m4 0h1m32 0h1m6 0h1m37 0h1m3 0h1m20 0h1m6 0h1m25 0h1m-99 1h1m5 0h1m28 0h1m15 0h1m15 0h1m8 0h1m14 0h1m-128 1h1m9 0h1m4 0h1m43 0h1m1 0h1m7 0h1m3 0h1m7 0h1m6 0h1m5 0h1m9 0h1m29 0h1m3 0h1m5 0h1m4 0h1m-141 1h1m7 0h1m61 0h1m5 0h1m3 0h1m25 0h1m23 0h1m2 0h1m-144 1h1m3 0h1m5 0h1m21 0h1m15 0h1m4 0h1m65 0h1m17 0h1m-153 1h1m19 0h1m18 0h1m19 0h1m19 0h1m9 0h1m12 0h1m3 0h1m46 0h1m-130 1h1m6 0h1m13 0h1m6 0h1m3 0h1m15 0h1m12 0h1m11 0h1m3 0h1m1 0h1m1 0h1m11 0h1m12 0h1m7 0h1m-139 1h1m21 0h1m68 0h1m13 0h1m62 0h1m-54 1h1m16 0h1m-128 1h1m34 0h1m13 0h1m10 0h1m7 0h2m19 0h1m9 0h1m10 0h1m3 0h1m14 0h1m3 0h1m13 0h1m-149 1h1m3 0h1m20 0h1m7 0h1m22 0h1m77 0h1m-130 1h1m9 0h1m3 0h1m38 0h1m1 0h1m34 0h1m15 0h1m27 0h1m5 0h1m16 0h1m-162 1h1m9 0h1m4 0h1m33 0h1m7 0h2m28 0h1m38 0h1m-66 1h1m4 0h1m40 0h1m31 0h1m-110 1h1m79 0h1m32 0h1m8 0h1m-142 1h1m15 0h1m2 0h1m4 0h1m41 0h1m50 0h1m14 0h1m-145 1h1m3 0h2m7 0h1m14 0h1m19 0h1m1 0h1m17 0h1m2 0h1m13 0h2m2 0h1m4 0h1m10 0h1m22 0h1m7 0h1m3 0h1m-124 1h1m3 0h1m37 0h1m2 0h1m3 0h1m31 0h1m10 0h1m3 0h1m14 0h1m8 0h1m4 0h1m21 0h1m-150 1h1m25 0h1m34 0h1m2 0h1m28 0h1m1 0h1m11 0h1m5 0h1m9 0h1m10 0h1m13 0h1m4 0h1m-154 1h2m8 0h1m6 0h1m6 0h1m49 0h1m5 0h1m38 0h1m27 0h1m7 0h1m-166 1h1m101 0h1m42 0h1m12 0h1m3 0h1"/>
<path stroke="#900" d="M16 0h2m18 0h2m10 0h1m5 0h1m7 0h1m17 0h1m8 0h1m12 0h1m18 0h1m26 0h1m8 0h1m5 0h1m-154 1h1m53 0h1m22 0h1m38 0h2m42 0h1m-169 1h1m9 0h1m48 0h1m16 0h1m16 0h1m30 0h1m29 0h1m3 0h1m13 0h1m-175 1h1m33 0h1m5 0h1m5 0h1m17 0h1m16 0h1m31 0h1m60 0h1m-155 1h1m13 0h1m8 0h1m5 0h1m31 0h1m9 0h1m15 0h1m14 0h1m24 0h1m9 0h1m-130 1h1m21 0h1m16 0h1m7 0h1m14 0h1m23 0h1m8 0h1m33 0h1m-147 1h1m11 0h1m35 0h1m16 0h1m71 0h1m3 0h1m12 0h1m-166 1h1m25 0h1m61 0h1m6 0h1m45 0h1m18 0h1m-161 1h1m7 0h1m53 0h1m6 0h1m6 0h1m13 0h1m28 0h1m13 0h1m14 0h1m9 0h1m-134 1h1m1 0h1m10 0h1m30 0h1m3 0h1m3 0h1m8 0h1m36 0h1m24 0h1m-144 1h1m32 0h3m4 0h1m5 0h1m46 0h1m4 0h1m11 0h1m42 0h1m2 0h1m-155 1h1m21 0h1m19 0h1m34 0h1m14 0h1m-94 1h1m7 0h1m17 0h1m6 0h1m13 0h1m3 0h1m11 0h1m39 0h1m3 0h1m20 0h1m-134 1h1m6 0h1m38 0h1m26 0h1m23 0h1m22 0h1m5 0h1m34 0h1m-151 1h1m10 0h1m17 0h1m24 0h1m4 0h1m26 0h1m14 0h1m9 0h1m16 0h1m20 0h1m1 0h1m-134 1h1m4 0h1m25 0h1m59 0h1m4 0h1m5 0h1m1 0h1m28 0h1m-161 1h1m15 0h1m10 0h1m11 0h1m80 0h1m4 0h1m3 0h1m2 0h1m13 0h1m13 0h1m-159 1h1m9 0h1m29 0h1m14 0h1m11 0h1m79 0h1m8 0h1m-123 1h1m12 0h1m2 0h1m18 0h1m30 0h1m4 0h1m64 0h1m-174 1h1m121 0h1m13 0h2m11 0h1m2 0h1m15 0h1m-136 1h1m1 0h1m10 0h1m3 0h1m6 0h1m11 0h1m24 0h1m6 0h1m2 0h1m10 0h1m41 0h1m1 0h1m6 0h1m-152 1h1m47 0h1m36 0h1m3 0h1m-102 1h1m17 0h1m53 0h1m9 0h2m1 0h1m19 0h1m10 0h1m3 0h1m15 0h1m19 0h1m-157 1h1m14 0h1m25 0h1m1 0h1m15 0h1m59 0h1m28 0h1m-151 1h1m15 0h1m33 0h1m45 0h1m23 0h1m3 0h1m43 0h1m-155 1h1m21 0h1m3 0h1m76 0h1m7 0h1m8 0h1m13 0h1m-126 1h1m19 0h1m3 0h1m25 0h1m44 0h1m26 0h1m1 0h1m-122 1h1m6 0h1m5 0h1m13 0h1m7 0h1m3 0h1m13 0h1m32 0h1m9 0h1m-98 1h1m3 0h2m6 0h1m2 0h1m3 0h1m20 0h1m14 0h1m10 0h1m32 0h1m2 0h1m-116 1h1m27 0h1m2 0h1m12 0h1m16 0h1m7 0h1m6 0h1m34 0h1m-99 1h1m17 0h1m2 0h1m9 0h1m16 0h1m11 0h1m26 0h1m-112 1h1m3 0h1m21 0h1m72 0h1m9 0h1m47 0h1m-120 1h1m12 0h1m51 0h1m27 0h1m10 0h1m17 0h1m-145 1h1m67 0h1m29 0h1m21 0h1m-132 1h2m31 0h1m35 0h1m22 0h1m13 0h1m6 0h2m28 0h2m10 0h1m-162 1h1m8 0h1m14 0h1m9 0h1m3 0h1m5 0h1m17 0h1m4 0h1m3 0h1m8 0h2m14 0h1m27 0h1m11 0h1m19 0h1m9 0h1m-161 1h1m19 0h1m65 0h1m12 0h1m12 0h1m31 0h1m18 0h1m-157 1h1m4 0h1m20 0h1m22 0h1m33 0h1m2 0h1m2 0h1m2 0h1m2 0h1m15 0h1m13 0h1m3 0h1m-110 1h1m17 0h2m20 0h1m16 0h1m4 0h1m15 0h1m15 0h1m11 0h1m10 0h1m10 0h1m2 0h1m-139 1h1m5 0h2m1 0h1m81 0h1m5 0h1m12 0h1m-122 1h2m5 0h1m10 0h1m5 0h1m15 0h1m13 0h1m2 0h1m12 0h1m38 0h1m-119 1h1m4 0h1m3 0h1m6 0h1m8 0h1m23 0h1m13 0h1m18 0h2m5 0h1m9 0h2m6 0h1m2 0h1m1 0h1m6 0h1m38 0h1m-145 1h1m19 0h1m16 0h1m7 0h1m6 0h1m35 0h1m32 0h1m12 0h1m-34 1h1m39 0h1m-139 1h1m18 0h1m44 0h1m47 0h2m-41 1h1m54 0h1m10 0h1m-75 1h1m13 0h1m5 0h1m9 0h1m5 0h1m47 0h1m-172 1h1m25 0h1m21 0h1m12 0h1m5 0h1m55 0h1m1 0h1m23 0h1m6 0h1m7 0h1"/>
</g></pattern>
<pattern id="nB" width="176" height="61" patternUnits="userSpaceOnUse"><g transform="translate(0,.5)" fill="none">
<path stroke="#009" d="M7 0h1m19 0h1m100 0h1m-129 1h1m90 0h1m39 0h1m-122 1h1m10 0h1m24 0h1m93 0h1m26 0h1m-128 1h1m16 0h2m11 0h1m-50 1h1m17 0h1m11 0h1m13 0h1m14 0h1m13 0h1m54 0h1m16 0h1m-144 1h1m18 0h1m59 0h1m14 0h1m3 0h1m-26 1h1m20 0h1m39 0h1m-109 1h1m16 0h1m69 0h1m-77 1h1m32 0h1m7 0h1m-94 1h1m112 0h1m12 0h1m-105 1h1m63 0h1m40 0h1m23 0h1m-159 1h1m42 0h1m8 0h1m28 0h1m19 0h1m52 0h1m-113 1h1m50 0h1m71 0h1m-145 1h1m55 0h1m73 0h1m14 0h1m-117 1h1m2 0h1m64 0h1m8 0h1m-72 1h1m51 0h1m63 0h1m-154 1h1m41 0h1m9 0h1m34 0h1m-48 1h2m3 0h1m25 0h1m69 0h1m-161 1h1m9 0h1m2 0h1m27 0h1m35 0h1m64 0h1m18 0h1m-151 1h1m63 0h2m76 0h1m-128 1h1m91 0h1m4 0h1m16 0h1m-103 1h1m4 0h1m12 0h1m10 0h1m15 0h1m68 0h1m21 0h1m-172 1h1m69 0h1m64 0h1m-140 1h1m31 0h1m1 0h1m-16 1h1m30 0h1m55 0h1m-32 1h1m33 0h1m2 0h1m8 0h1m33 0h1m-138 1h1m16 0h1m4 0h1m5 0h1m16 0h1m90 0h1m-133 1h1m63 0h1m7 0h1m38 0h3m11 0h1m1 0h1m-145 1h1m9 1h1m6 0h1m23 0h1m15 0h1m3 0h1m77 0h1m29 0h1m-68 1h1m22 0h1m1 0h1m-105 1h1m22 0h1m4 0h1m27 0h1m47 0h1m36 0h1m-133 1h1m15 0h1m15 0h1m26 0h1m6 0h1m17 0h1m2 0h1m-123 1h1m55 0h1m31 0h1m25 0h1m8 0h1m22 0h1m1 0h1m11 0h1m-129 1h1m44 0h1m39 0h1m-107 1h1m111 0h1m-38 1h1m36 0h1m19 0h1m-133 1h1m47 0h2m7 0h1m5 0h1m20 0h1m9 0h1m23 0h1m10 0h1m-78 1h1m89 0h1m-131 1h1m70 0h1m47 0h1m15 0h1m-131 1h1m119 0h1m24 0h1m-140 1h1m5 0h1m1 0h1m100 0h1m-98 1h1m54 0h1m58 0h1m4 0h1m-135 1h1m35 0h1m40 0h1m13 0h1m6 0h1m9 0h1m-109 1h1m36 0h1m-23 1h1m11 0h1m15 0h1m51 0h1m-35 1h1m6 0h1m-98 1h1m9 0h1m48 0h1m4 0h1m6 0h1m13 0h1m14 0h1m51 0h1m-79 2h1m85 0h1m-138 1h1m12 0h1m39 0h1m75 0h1m17 0h1m-111 1h1m11 0h1m6 0h1m35 0h1m-73 1h1m42 0h1m-39 1h1m10 0h1m12 0h1m19 0h1m59 0h1m-144 1h1m69 0h1m61 0h1m-26 1h1m-113 1h1m32 0h1m24 0h1m6 0h1m13 0h1m30 0h1m6 1h1m-117 1h1m13 0h1m31 0h1m33 0h1m58 0h1m3 0h1m6 0h1m-134 1h1m3 0h1m6 0h1m23 0h1m4 0h1m73 0h1m-122 1h1m15 0h1m16 0h1m54 0h1"/>
<path stroke="#00d" d="M11 0h1m8 0h1m69 0h1m32 0h1m49 0h1m-164 1h1m21 0h1m66 0h1m3 0h1m38 0h1m15 0h1m-120 1h2m19 0h1m12 0h1m2 0h1m2 0h1m-48 1h2m29 0h1m17 0h2m22 0h1m63 0h1m5 0h1m-103 1h1m45 0h1m20 0h2m-87 1h1m109 0h1m-129 1h1m45 0h1m27 0h1m36 0h1m26 0h1m-155 1h1m34 0h1m26 0h1m22 0h1m14 0h1m4 0h1m18 0h1m1 0h1m4 0h1m12 0h1m-143 1h1m41 0h1m28 0h2m49 0h1m-131 1h1m3 0h1m18 0h1m13 0h1m33 0h1m7 0h1m11 0h2m21 0h1m32 0h1m-135 1h1m18 0h1m12 0h1m-13 1h1m8 0h1m64 0h1m-88 1h1m22 0h1m12 0h1m11 0h1m6 0h1m11 0h1m3 0h1m3 0h1m2 0h1m13 0h1m6 0h1m-106 1h1m-3 1h1m33 0h1m16 0h1m14 0h1m30 0h1m13 0h1m1 0h1m1 0h1m-141 1h1m3 0h1m76 0h1m8 0h1m-56 1h1m16 0h1m19 0h1m13 0h1m1 0h1m65 0h1m9 0h1m-162 1h1m69 0h1m30 0h1m61 0h1m-36 1h1m17 0h1m-144 1h1m15 0h1m4 0h1m20 0h1m23 0h1m18 0h1m-89 1h1m30 0h1m3 0h1m23 0h1m10 0h1m37 0h1m6 0h1m-113 1h1m5 0h1m26 0h1m56 0h1m15 0h1m-97 1h1m102 0h1m-94 1h2m56 0h1m-39 1h1m22 0h1m51 0h1m-78 1h1m9 0h1m-32 1h1m75 0h1m22 0h2m-115 1h1m89 0h1m63 0h1m-138 1h2m12 0h1m3 0h1m4 0h1m20 0h1m16 0h1m48 0h1m-136 1h1m8 0h1m36 0h1m42 0h1m23 0h1m33 0h1m-81 1h1m23 0h1m41 0h1m10 0h1m11 0h1m5 0h1m-162 1h1m25 0h1m9 0h1m105 0h1m-146 1h1m3 0h1m2 0h1m4 0h1m115 0h1m-44 1h1m39 0h2m-95 1h1m38 0h2m12 0h1m48 0h1m39 0h1m-103 1h1m20 0h1m39 0h1m-89 1h1m68 0h1m15 0h1m-124 1h1m6 0h1m105 0h1m17 0h1m-106 1h1m21 0h1m2 0h1m-33 1h1m29 0h1m5 0h1m104 0h1m-163 1h1m78 0h1m13 0h1m43 0h1m15 0h1m7 0h1m-163 1h1m52 0h1m49 0h2m32 0h1m16 0h1m-87 1h1m44 0h1m5 0h1m4 0h1m11 0h1m15 0h2m-115 1h1m6 0h1m42 0h1m11 0h1m7 0h1m17 0h1m34 0h1m-166 1h1m25 0h1m30 0h1m5 0h1m43 0h1m-106 1h1m17 0h1m78 0h1m-96 1h1m5 0h1m108 0h1m16 0h1m18 0h1m-133 1h1m21 0h1m72 0h1m1 0h1m6 0h1m20 0h1m3 0h1m-94 1h1m7 0h1m48 0h1m7 0h1m33 0h1m-154 1h1m99 0h1m14 0h1m-93 1h1m101 0h1m10 0h1m31 0h1m-127 1h1m-38 1h1m10 0h1m77 0h1m58 0h1m-136 1h1m146 0h1m2 0h1m-168 1h1m11 0h1m134 0h1m-82 1h1m18 0h1m19 0h1m-101 1h1m37 0h1m27 0h1m91 0h1m-107 1h1m19 0h1m33 0h1m-90 1h1m90 0h1m39 0h2m-131 1h1m14 0h1m105 0h1m1 0h1m-131 1h1m17 0h1m67 0h1"/>
<path stroke="#00f" d="M26 0h1m7 0h1m22 0h1m79 0h1m-127 1h1m53 0h1m72 0h1m20 0h1m1 0h1m-121 1h1m53 1h1m23 0h1m28 0h1m-113 1h1m26 0h1m21 0h1m25 0h1m43 1h1m-104 1h1m81 0h1m6 0h1m-107 1h1m91 0h1m-99 1h1m18 0h1m10 0h1m27 0h1m17 0h1m5 0h1m31 0h1m-134 1h1m81 0h1m62 0h1m-97 1h1m1 0h1m78 0h1m6 0h1m-118 1h1m33 0h1m6 0h1m21 0h1m10 0h1m11 0h1m52 0h2m0 1h1m-164 1h1m46 0h1m49 0h1m13 0h1m9 0h1m10 0h1m-138 1h1m55 0h1m-34 1h1m2 0h1m16 0h1m28 0h1m-73 1h1m45 0h1m9 0h1m4 0h1m52 0h1m31 0h1m-146 1h1m15 0h1m37 0h1m23 0h1m-76 1h1m15 0h1m55 0h1m2 0h1m8 0h1m28 0h1m15 0h1m7 0h1m1 0h1m6 0h1m-138 1h1m132 0h1m21 0h1m-120 1h1m38 0h1m-55 1h1m7 0h1m53 0h1m36 0h1m15 0h1m-139 1h1m24 0h2m78 0h1m24 0h1m-141 1h1m123 0h1m34 0h1m-110 1h1m96 0h1m10 0h1m-147 1h1m15 0h1m19 0h1m28 0h1m22 0h1m21 0h1m-114 1h2m54 0h1m60 0h1m21 0h1m11 0h1m8 0h1m-106 1h1m61 0h1m-110 1h1m4 0h1m23 0h1m31 0h1m61 0h1m10 0h1m-84 1h1m1 0h1m3 0h1m67 0h1m11 0h1m-155 1h1m50 0h1m-12 1h1m59 0h1m59 0h1m-162 1h1m27 0h1m8 0h1m81 0h1m51 0h1m-131 1h1m4 0h1m65 0h1m1 0h1m36 0h1m-143 1h1m50 0h1m62 0h1m-117 1h1m-6 1h1m30 0h1m13 0h1m3 0h1m55 0h1m13 0h1m23 0h1m6 0h1m5 0h1m3 0h1m-64 1h1m71 0h1m-173 1h1m6 0h1m21 0h1m5 0h1m8 0h1m28 0h1m16 0h1m20 0h1m11 0h1m42 0h1m-166 1h1m13 0h1m35 0h1m77 0h1m21 0h1m-41 1h1m16 0h1m10 0h1m-124 1h1m3 0h1m42 0h1m14 0h1m82 0h1m-163 1h1m3 0h1m68 0h1m72 0h1m15 0h1m-163 1h1m60 0h2m21 0h2m28 0h1m28 0h1m-136 1h1m58 0h1m37 0h1m43 0h1m3 0h1m-147 1h1m36 0h1m60 0h1m-87 1h1m3 0h1m23 0h1m26 0h1m77 0h1m-118 1h1m68 0h1m34 0h1m-102 1h1m50 0h1m11 0h1m44 0h1m-145 1h1m44 0h1m21 0h1m43 0h1m5 0h1m21 0h1m6 0h1m-115 1h1m14 0h1m9 0h1m1 0h1m3 0h1m20 0h1m17 0h1m16 0h1m17 0h1m21 0h1m9 0h1m-146 1h1m8 0h1m20 0h1m32 0h1m25 0h1m-107 1h1m30 0h1m13 0h1m2 0h1m18 0h1m65 0h1m10 0h1m-153 1h1m14 0h1m36 0h1m-18 1h1m58 0h1m16 0h1m21 0h1m12 0h1m-130 1h1m57 0h1m63 0h1m-142 1h1m11 0h1m45 0h1m81 0h1m-73 1h1m22 0h1m16 0h1m-56 1h1m4 0h1m27 0h1m19 0h1m13 0h1m48 0h1m4 0h1m-123 1h1m18 0h1m27 0h1m27 0h1m-127 1h1m64 0h1m36 0h1m4 0h1m8 0h1m14 0h1"/>
<path stroke="#03f" d="M5 0h1m18 0h1m28 0h1m109 0h1m-159 1h1m77 0h1m5 0h1m-70 1h1m6 0h2m57 0h1m7 0h1m23 0h1m-72 1h1m6 0h1m-45 1h1m11 0h1m87 0h1m9 0h1m48 0h1m-163 1h1m43 0h1m13 0h1m5 0h1m23 0h1m4 0h1m6 0h1m6 0h1m-105 1h1m57 0h1m30 0h1m13 0h1m8 0h1m35 0h1m-154 1h1m73 0h1m10 0h1m3 0h1m1 0h1m16 0h1m20 0h1m15 0h1m13 0h1m-90 1h1m8 0h1m28 0h1m40 0h1m-116 1h1m25 0h1m7 0h1m56 0h1m29 0h1m10 0h1m-118 1h1m3 0h1m38 0h1m31 0h1m8 0h1m-124 1h1m24 0h1m26 0h1m22 0h1m68 0h1m3 0h1m-131 1h1m11 1h1m24 0h1m14 0h1m17 0h1m39 0h1m-115 1h1m76 0h1m-25 1h1m34 0h1m14 0h1m27 0h1m5 0h1m-123 1h1m47 0h1m12 0h1m6 0h1m20 0h1m5 0h1m30 0h1m-130 1h1m3 0h1m-37 1h1m26 0h1m34 0h1m20 0h1m25 0h1m41 0h1m-16 1h1m12 0h1m-156 1h1m44 0h1m-48 1h1m56 0h1m105 0h1m2 0h1m5 0h1m-72 1h1m10 0h1m1 0h1m22 0h1m31 0h1m-88 1h1m3 0h1m18 0h1m45 0h1m7 0h1m-137 1h1m1 0h1m8 0h1m4 0h2m21 0h1m10 0h1m9 0h1m1 0h1m65 0h1m-134 1h1m56 0h1m14 0h1m-72 1h1m117 0h1m-131 2h1m9 0h1m41 0h1m15 0h2m1 0h1m66 0h1m-127 1h1m108 0h1m7 0h1m5 0h1m7 0h1m2 0h1m-143 1h1m36 0h1m71 0h1m-102 1h1m14 0h1m92 0h1m7 0h1m-40 1h1m14 0h1m12 0h1m4 0h1m-110 1h1m50 0h1m39 0h1m6 0h1m-103 1h1m99 0h1m11 0h1m3 0h1m16 0h1m13 0h1m-120 1h1m14 0h1m114 0h1m-149 1h1m34 0h2m37 0h1m19 0h1m11 0h1m-98 1h1m104 0h1m24 0h1m-149 1h1m17 0h1m20 0h1m30 0h1m27 0h1m11 0h1m20 0h1m-71 1h1m43 0h1m9 0h1m2 0h1m-66 1h1m46 0h2m-97 1h1m44 0h1m31 0h1m25 0h1m43 0h1m-154 1h2m109 0h1m13 0h1m-75 1h1m44 0h1m6 0h1m14 0h1m-121 1h1m23 0h1m15 0h1m35 0h1m49 0h1m13 0h1m15 0h1m-167 1h1m13 0h1m9 0h1m85 0h1m58 0h1m-150 1h1m4 0h1m46 0h1m33 0h1m3 0h1m40 0h1m-154 1h1m20 0h1m47 0h1m8 0h1m52 0h2m-125 1h1m102 0h1m37 0h1m3 0h1m-156 1h1m20 0h1m39 0h1m42 0h1m42 0h1m9 0h1m4 0h1m4 0h1m-143 1h1m7 0h1m42 0h1m14 0h1m7 0h2m9 0h1m23 0h1m23 0h1m3 0h1m-155 1h1m69 0h1m5 0h1m63 0h1m-75 1h1m23 0h1m64 0h1m-150 1h1m7 0h1m22 0h1m31 0h1m20 0h1m5 0h1m35 0h1m29 0h1m-141 1h1m3 0h1m12 0h1m30 0h1m5 0h1m14 0h1m6 0h1m64 0h1m-130 1h1m19 0h1m50 0h1m-55 1h1m82 0h1m7 0h1m17 0h1m-169 1h1m53 0h1m17 0h1m24 0h1m69 0h1m-42 1h1m8 1h1m-130 1h1m3 0h1m53 0h1m4 0h1m62 0h2m39 0h1"/>
<path stroke="#06f" d="M6 0h1m102 0h1m51 0h1m-117 1h1m41 0h1m-81 1h1m17 0h1m41 0h1m28 0h1m24 0h1m34 0h1m15 0h1m-137 1h1m24 0h1m26 0h1m42 0h1m4 0h1m20 0h1m8 0h1m3 0h1m-145 1h1m1 0h1m42 0h1m32 0h1m-76 1h1m6 0h1m15 0h1m94 0h1m16 0h1m-157 1h1m4 0h1m118 0h1m7 0h1m10 0h1m-151 1h1m38 0h1m52 0h1m46 0h1m27 0h1m6 0h1m-176 1h1m15 0h1m19 0h1m40 0h1m36 0h1m24 0h1m22 0h1m-131 1h1m14 0h1m41 0h1m76 0h1m-145 1h1m8 0h1m19 0h1m32 0h1m33 0h1m5 0h1m27 0h1m5 0h1m16 0h1m-79 1h1m48 0h1m-103 1h1m24 0h1m15 0h1m56 0h1m17 0h1m-86 1h1m15 0h1m49 0h1m31 0h1m-174 1h1m18 0h1m65 0h1m6 0h1m39 0h1m19 0h1m21 0h1m-166 1h1m21 0h2m27 0h1m27 0h1m48 0h1m9 0h1m8 0h1m-153 1h1m77 0h1m10 0h1m28 0h1m25 0h1m26 0h1m-136 1h1m6 0h1m74 0h1m17 0h2m-79 1h1m1 0h1m7 0h1m41 0h1m16 0h1m22 0h1m-143 1h1m16 0h1m70 0h1m17 0h1m55 0h1m-165 1h1m67 0h1m75 0h1m-146 1h1m81 0h1m24 0h1m22 0h1m-134 1h1m11 0h1m14 0h1m77 0h1m44 0h1m1 0h1m-86 1h1m10 0h1m16 0h1m18 0h1m31 0h1m1 0h1m6 0h1m-147 1h1m15 0h1m26 0h1m33 0h1m50 0h1m-72 1h1m6 0h1m2 0h1m62 0h1m-104 1h1m5 0h1m20 0h2m14 0h1m1 0h1m86 0h1m-171 1h1m12 0h1m1 0h1m32 0h1m35 0h1m-78 1h1m2 0h1m87 0h1m14 0h1m18 0h1m7 0h1m3 0h1m-150 1h1m5 0h1m30 0h1m21 0h1m23 0h1m30 0h1m2 0h1m3 0h1m19 0h1m3 0h1m6 0h2m8 0h1m10 0h1m-168 1h2m20 0h1m28 0h1m53 0h1m19 0h1m8 0h1m30 0h1m-102 1h1m7 0h1m58 0h1m-44 1h1m-89 1h1m3 0h1m45 0h1m38 0h1m10 0h1m39 0h1m18 0h1m-113 1h2m36 0h1m26 0h1m-82 1h1m16 0h1m1 0h1m13 0h1m5 0h1m4 0h1m41 0h1m-104 1h1m17 0h1m25 0h1m1 0h1m18 0h1m26 0h1m40 0h1m-88 1h1m27 0h1m1 0h1m48 0h1m11 0h1m-141 1h1m12 0h1m2 0h1m61 0h1m22 0h1m28 0h1m4 0h1m6 0h1m-127 1h1m3 0h1m10 0h1m38 0h1m2 0h1m81 0h1m-162 1h1m6 0h1m20 0h1m15 0h1m24 0h1m14 0h1m28 0h1m1 0h1m18 0h1m7 0h1m-73 1h1m73 0h1m-142 1h2m30 0h1m8 0h1m41 0h1m-85 1h1m77 0h1m53 0h1m17 0h1m-134 1h1m17 0h1m4 0h1m2 0h1m78 0h1m23 0h1m7 0h1m-162 1h1m59 0h1m20 0h1m75 0h1m2 0h1m-163 1h1m41 0h1m75 0h1m38 0h1m-125 1h1m52 0h1m24 0h1m-39 1h1m32 0h1m22 0h1m9 0h1m6 0h1m-130 1h1m3 0h1m2 0h1m-8 1h1m1 0h1m66 0h1m30 0h1m39 0h1m-152 1h1m39 0h1m3 0h1m5 0h1m44 0h1m17 0h1m34 0h1m-152 1h1m48 0h1m61 0h1m3 0h1m12 0h1m6 0h1m-133 1h1m3 0h1m30 0h1m7 0h1m-1 1h1m21 0h1m8 0h1m21 0h1m2 0h1m15 0h3m23 0h1m-142 1h1m3 0h1m22 0h1m37 0h2m19 0h1m2 0h1m4 0h1m19 0h1m31 0h1m16 0h1m-154 1h1m1 0h1m47 0h1m46 0h1m38 0h1m-82 1h1m38 0h1m56 0h1m-148 1h1m22 0h1m28 0h1m68 0h1m-137 1h1m23 0h1m62 0h1m52 0h1m8 0h1m-130 1h1m37 0h1m17 0h1m26 0h1m49 0h1m1 0h1"/>
<path stroke="#09f" d="M31 0h1m39 0h1m30 0h2m4 0h1m49 0h1m-140 1h1m100 0h1m11 0h1m-55 1h1m45 0h1m4 0h2m12 0h1m22 0h1m4 0h1m-135 1h1m18 0h1m12 0h1m17 0h1m1 0h1m22 0h1m17 0h1m13 0h1m10 0h1m-154 1h1m15 0h1m13 0h1m66 0h1m39 0h1m-127 1h1m25 0h1m44 0h1m39 0h1m46 0h2m-162 1h1m20 0h1m27 0h1m28 0h1m43 0h1m-131 1h1m82 0h1m5 0h1m6 0h1m-96 1h1m23 0h1m88 0h1m-102 1h1m42 0h1m27 0h1m17 0h1m-93 1h1m7 0h1m68 0h1m11 0h1m18 0h1m-77 1h1m12 0h1m7 0h1m-64 1h1m10 0h1m44 0h2m50 0h1m-102 1h1m43 0h1m17 0h1m35 0h1m28 0h1m25 0h1m-134 1h2m67 0h1m-78 1h1m58 0h1m23 0h1m2 0h1m19 0h1m-92 2h1m69 0h1m4 0h1m17 0h1m38 0h1m-89 1h1m28 0h1m10 0h1m30 0h1m22 0h1m-154 1h1m39 0h1m15 0h1m-21 1h1m3 0h1m31 0h1m4 0h1m39 0h1m-93 1h1m31 0h1m42 0h1m16 0h1m31 0h1m-162 1h1m5 0h1m38 0h1m31 0h1m39 0h1m-103 1h1m16 0h1m82 1h1m10 0h1m32 0h1m-132 1h2m29 0h1m22 0h1m4 0h1m10 0h1m-100 1h1m46 0h1m90 0h1m14 0h1m-134 1h1m2 0h1m117 0h1m1 0h1m1 0h1m-155 1h1m21 0h1m18 0h1m12 0h1m7 0h2m21 0h1m6 0h1m24 0h1m-75 1h1m1 0h1m53 0h1m38 0h1m36 0h1m-152 1h1m49 0h2m6 0h1m71 0h1m1 0h1m-116 1h1m70 0h1m-103 1h1m38 0h1m2 0h1m6 0h1m56 0h1m27 0h1m17 0h1m-154 1h1m26 0h1m59 0h1m4 0h1m9 0h1m-77 1h1m52 0h1m15 0h1m29 0h1m6 0h1m15 0h1m11 0h1m-165 1h1m35 0h1m11 0h1m45 0h1m6 0h1m10 0h1m4 0h1m-113 1h1m12 0h1m27 0h1m45 0h1m43 0h1m30 0h1m-164 1h1m21 0h1m12 0h1m5 0h1m8 0h1m39 0h1m16 0h1m1 0h1m48 0h1m-81 1h1m13 0h1m70 0h1m2 0h1m-84 1h1m14 0h1m5 0h1m16 0h1m-96 1h1m36 0h1m30 0h1m5 0h1m10 0h1m7 0h1m13 0h1m-135 1h1m93 0h1m31 0h1m33 0h1m-133 1h1m30 0h1m27 0h1m37 0h1m34 0h1m-74 1h2m8 0h1m58 0h1m-164 1h1m49 0h1m15 0h1m9 0h1m14 0h1m64 0h1m-151 1h1m3 0h1m3 0h1m33 0h1m5 0h1m22 0h1m20 0h1m30 0h2m-121 1h1m50 0h1m43 0h1m3 0h1m6 0h1m49 0h1m-150 1h1m32 0h2m1 0h1m39 0h1m18 0h1m-41 1h1m75 0h1m-110 1h1m17 0h1m81 0h1m-112 1h1m1 0h1m6 0h1m15 0h1m39 0h1m24 0h1m-105 1h1m137 0h1m5 0h1m-156 1h1m15 0h1m17 0h1m10 0h1m7 0h1m105 0h1m-121 1h1m37 0h1m6 0h1m-74 1h2m41 0h1m19 0h1m44 0h1m-122 1h1m105 0h1m65 0h1m-123 1h1m8 0h1m7 0h1m45 0h1m26 0h1m31 0h1m-69 1h1m52 0h1m-142 1h1m92 0h1m-104 1h1m26 0h1m18 0h2m36 0h1m36 0h1m38 0h1m-113 1h1m67 0h1m6 0h1m10 0h1"/>
<path stroke="#0cf" d="M30 0h1m32 0h1m21 0h1m33 0h1m23 0h1m6 0h1m-134 1h1m41 0h1m70 0h1m25 0h1m-125 1h1m93 0h1m31 0h1m-139 1h1m13 0h1m24 0h1m47 0h1m29 0h1m16 0h1m10 0h1m-158 1h1m114 0h1m41 0h1m-131 1h1m2 0h1m49 0h1m9 0h1m2 0h1m34 0h1m6 0h1m15 0h1m-154 1h1m66 0h1m-64 1h1m25 0h1m11 0h1m55 0h1m-99 1h1m49 0h1m7 0h1m6 0h1m38 0h1m26 0h1m9 0h1m-136 1h1m43 0h1m10 0h1m3 0h1m8 0h1m3 0h1m3 0h1m26 0h1m-89 1h1m47 0h1m6 0h1m23 0h1m6 0h1m30 0h1m-103 1h1m38 0h1m47 0h1m9 0h1m22 0h1m-127 1h1m44 0h1m38 0h1m-120 1h2m28 0h1m18 0h1m48 0h1m24 0h1m32 0h1m11 0h1m-156 1h1m47 0h1m6 0h1m7 0h1m40 0h1m7 0h1m38 0h1m3 0h2m-137 1h1m5 0h1m53 0h1m27 0h1m-85 1h1m48 0h1m46 0h1m25 0h1m8 0h1m-169 1h1m65 0h1m4 0h1m1 0h1m63 0h1m7 0h1m-142 1h1m100 0h1m20 0h1m6 0h1m23 0h1m-153 1h1m75 0h1m58 0h1m-122 1h1m7 0h1m133 0h1m-154 1h1m14 0h1m18 0h1m81 0h1m16 0h1m22 0h1m-166 1h1m2 0h1m25 0h1m27 0h1m9 0h1m29 0h1m1 1h1m30 0h1m30 0h1m-117 1h1m26 0h1m74 0h1m-135 1h1m103 0h1m11 0h1m18 0h1m7 0h1m-123 1h1m139 0h1m-88 1h1m73 0h1m-46 1h1m17 0h1m28 0h1m-128 1h1m21 0h1m36 0h1m34 0h1m8 0h1m-110 1h1m66 0h2m-97 1h1m30 0h1m128 0h1m-145 1h1m36 0h1m23 0h1m40 0h1m-39 1h1m14 0h1m16 0h1m7 0h1m-119 1h1m5 0h1m19 0h1m9 0h1m11 0h1m55 0h1m22 0h1m35 0h1m-167 1h1m37 0h2m26 0h1m6 0h1m39 0h1m13 0h1m31 0h1m-126 1h1m64 0h1m34 0h1m-79 1h1m26 0h1m15 0h1m26 0h1m1 0h1m40 0h1m-148 1h1m47 0h1m2 0h1m4 0h1m44 0h1m26 0h1m22 0h1m-174 1h1m17 0h1m2 0h1m74 0h1m21 0h1m5 0h1m28 0h1m-67 1h1m28 0h1m-116 1h1m66 0h1m26 0h1m76 0h1m-151 1h1m114 0h1m6 0h1m5 0h1m2 0h1m-149 1h1m14 0h1m114 0h1m29 0h1m2 0h1m-165 1h1m1 0h1m5 0h1m158 0h1m-87 1h1m16 0h1m20 0h1m9 0h1m-126 1h1m37 0h1m100 0h1m-138 1h1m4 0h1m22 0h1m113 0h1m7 0h1m6 0h1m3 0h1m-159 1h1m4 0h1m22 0h1m66 0h1m-87 1h1m2 0h1m6 0h1m2 0h1m36 0h1m47 0h1m16 0h1m32 0h1m-172 1h1m19 0h1m16 0h1m5 0h1m34 0h1m28 0h1m40 0h1m-111 1h2m16 0h1m86 0h1m25 0h1m-169 1h1m7 0h1m50 0h1m71 0h1m14 0h2m-116 1h2m15 0h1m14 0h1m6 0h1m22 0h1m-27 1h1m83 0h1m-38 1h1m47 0h1m-119 1h1m87 0h1m1 0h1m17 0h1m12 0h1m-165 1h1m17 0h1m87 0h1m12 0h1m7 0h1m-85 1h1m23 0h1m13 0h1m7 0h1m50 0h2m-128 1h1m69 0h1m2 0h1m48 0h1m1 0h1m32 0h1m-167 1h1m48 0h2m32 0h2m13 0h1m2 0h1m25 0h1m3 0h1"/>
<path stroke="#1fd" d="M43 0h1m17 0h1m43 0h1m33 0h1m13 0h1m3 0h1m17 0h1m-142 2h1m16 0h1m23 0h1m69 0h1m5 0h1m3 0h1m-154 1h1m27 0h1m46 0h1m2 0h1m2 0h1m-79 1h1m11 0h1m79 0h1m60 0h1m4 0h1m-158 1h1m37 0h1m12 0h1m25 0h1m35 0h1m20 0h1m12 0h1m21 0h1m-135 1h1m9 0h1m11 0h1m89 0h1m-126 1h1m21 0h1m-38 1h1m6 0h1m28 0h1m38 0h1m9 0h1m-92 1h1m3 1h1m12 0h1m12 0h2m38 0h1m44 0h1m2 0h1m19 0h1m5 0h1m-72 1h1m71 0h1m18 0h1m-172 1h1m17 0h1m7 0h1m25 0h1m65 0h1m7 0h1m11 0h1m2 0h1m11 0h1m13 0h1m2 0h1m-137 1h1m60 0h1m18 0h1m12 0h1m6 0h1m1 0h1m27 0h1m-109 1h1m19 0h1m67 0h1m-89 1h1m107 0h1m3 0h1m-168 1h1m8 0h1m3 0h1m4 0h1m7 0h1m22 0h1m12 0h1m6 0h1m31 0h1m13 0h1m-74 1h1m40 0h1m46 0h1m7 0h1m-123 1h1m3 0h1m6 0h1m11 0h2m54 0h1m4 0h1m-79 1h1m71 0h1m31 0h1m6 0h1m-128 1h1m21 0h2m28 0h1m22 0h1m2 0h1m64 0h1m-115 1h1m89 0h1m-91 1h1m7 0h1m1 0h1m5 0h1m7 0h1m4 0h1m52 0h1m27 0h1m-80 1h1m2 0h1m-54 1h1m34 0h1m34 0h1m44 0h1m10 0h1m-116 1h1m12 0h1m46 0h1m58 0h1m16 0h1m-63 1h1m15 0h1m8 0h1m41 0h1m-156 1h1m47 0h1m18 0h1m15 0h1m61 0h1m-121 1h1m44 0h1m9 0h1m4 0h1m2 0h1m30 0h1m13 0h1m-143 1h1m7 0h1m33 0h1m8 0h1m7 0h1m-49 1h1m43 0h1m15 0h1m14 0h1m-56 1h1m16 0h1m121 0h1m-165 1h1m76 0h1m77 0h1m-162 1h1m25 0h1m5 0h1m13 0h1m47 0h1m71 0h1m-158 1h1m117 0h1m7 0h1m-103 1h1m45 0h1m27 0h1m20 0h1m8 0h1m11 0h1m2 0h1m-101 1h1m91 0h1m13 0h1m11 0h1m-148 1h1m14 0h1m48 0h1m24 0h1m-75 1h1m99 0h1m-34 1h1m47 0h1m-108 1h1m1 0h1m-44 1h1m13 0h1m38 0h1m15 0h1m-12 1h1m14 0h2m79 0h1m-161 1h1m4 0h1m7 0h1m14 0h1m2 0h1m20 0h1m3 0h1m50 0h1m60 0h1m-161 1h1m97 0h1m13 0h1m14 0h1m-137 1h1m38 0h1m55 0h1m28 0h1m1 0h1m-86 1h1m7 0h1m34 0h1m45 0h1m1 0h1m-136 1h1m4 0h1m24 0h1m40 0h1m75 0h1m12 0h1m-130 1h1m12 0h1m38 0h1m9 0h1m-75 1h1m10 0h1m10 0h1m75 0h1m57 0h1m-172 1h1m3 0h1m55 0h1m55 0h1m10 0h1m-127 1h1m46 0h1m60 0h1m12 0h1m47 0h1m-154 1h1m28 0h1m20 0h1m21 0h1m27 0h1m15 0h1m-133 1h1m24 0h1m17 0h1m36 0h1m5 1h1m7 0h1m18 0h1m-94 2h1m2 0h1m71 0h1m60 0h1m-116 1h1m65 0h1m44 0h1m-148 1h1m32 0h1m54 0h1m6 0h1m11 0h1m1 0h1m35 0h1m9 0h1m-83 1h1m79 0h1m-77 1h1m69 0h1m11 0h1"/>
<path stroke="#4fb" d="M54 0h1m28 0h1m5 0h1m22 0h1m-9 1h1m28 0h1m-131 1h1m31 0h1m61 0h1m8 0h1m-72 1h1m2 0h1m21 0h1m71 0h1m-120 1h1m1 0h1m38 0h1m33 0h1m44 0h1m3 0h1m-58 1h1m58 0h1m6 0h1m10 0h1m-157 1h2m28 0h1m45 0h1m-55 1h1m2 0h1m4 0h1m2 0h1m3 0h1m4 0h1m26 0h1m78 0h1m8 0h1m12 0h1m-119 1h1m20 0h1m21 0h1m43 0h1m15 0h1m-136 1h1m22 0h1m63 0h1m23 0h1m-92 1h2m85 0h1m41 0h1m-159 1h1m15 0h1m63 0h1m10 1h1m24 0h1m26 0h1m1 0h1m3 0h1m6 0h1m-169 1h1m20 0h1m89 0h1m-110 1h1m15 0h1m4 0h1m91 0h1m44 0h1m-161 1h1m2 0h1m73 0h1m42 0h1m2 0h2m2 0h1m26 0h1m-124 1h1m13 0h1m-40 1h1m43 0h1m8 0h1m28 0h1m34 0h1m18 0h1m2 0h1m17 0h1m-152 1h1m75 0h1m11 0h1m27 0h1m8 0h1m19 0h1m-112 1h1m23 0h1m2 0h1m26 0h1m9 0h1m28 0h1m-96 1h1m-13 1h1m104 0h1m-108 1h1m41 0h1m10 0h1m24 0h1m8 0h1m8 0h1m48 0h1m-156 1h1m27 0h1m12 0h1m111 0h1m-131 1h1m106 0h1m-125 1h1m52 0h1m45 0h1m41 0h1m-164 1h1m49 0h1m32 0h1m49 0h1m-110 1h1m25 0h1m16 0h1m3 0h1m8 0h1m20 0h1m8 0h1m9 0h1m14 0h1m33 0h1m-158 1h1m2 0h1m13 0h1m14 0h1m8 0h1m17 0h1m12 0h1m20 0h1m12 0h1m2 0h1m2 0h1m28 0h1m-154 1h1m65 0h1m99 0h1m-102 1h1m48 0h1m18 0h1m19 0h1m-148 1h1m36 0h1m16 0h1m73 0h1m2 0h1m12 0h1m-146 1h1m47 0h1m-58 1h1m3 0h1m8 0h1m4 0h1m121 0h1m16 0h1m-117 1h1m27 0h1m28 0h1m-79 1h1m7 0h1m4 0h1m43 0h1m65 0h1m3 0h1m10 0h2m-83 1h1m30 0h1m43 0h1m-89 1h1m38 0h1m31 0h1m-131 1h1m8 0h1m7 0h1m12 0h1m49 0h1m29 0h1m23 0h1m-97 1h1m41 0h1m48 0h1m-131 1h1m5 0h1m22 0h1m2 0h1m21 0h1m41 0h1m11 0h1m41 0h1m11 0h1m-132 1h1m7 0h1m22 0h1m20 0h1m37 0h1m43 0h1m-164 1h1m19 0h1m25 0h1m61 0h1m4 0h1m15 0h1m8 0h1m-104 1h1m33 0h1m7 0h1m42 0h1m24 0h1m-112 1h1m129 0h1m-169 1h1m10 0h1m27 0h1m28 0h1m41 0h1m44 0h1m-89 1h1m71 0h1m24 0h1m-117 1h1m60 0h1m13 0h3m42 0h1m-145 1h1m9 0h1m16 0h1m16 0h1m15 0h1m1 0h1m32 0h1m6 0h1m1 0h1m30 0h2m-146 1h1m49 0h1m27 0h1m7 0h1m62 0h1m-162 1h1m6 0h1m39 0h1m97 0h1m-149 1h1m25 0h1m3 0h1m100 0h1m41 0h1m-67 1h1m48 0h1m-137 1h1m83 0h1m19 0h1m-120 1h1m13 0h1m68 0h1m-73 1h1m69 0h1m9 0h1m11 0h1m4 0h1m5 0h1m15 0h1m-115 1h1m41 0h1m73 0h1m-57 1h1m19 0h1m12 0h1m-22 1h1m1 0h1m26 0h1m-102 1h1m17 0h2m7 0h1m53 0h1m5 0h1m13 0h1m17 0h1m-128 1h1m1 0h1m9 0h1m55 0h1m10 0h1m27 0h2m46 0h1"/>
<path stroke="#6f8" d="M4 0h1m4 0h1m28 0h1m20 0h1m9 1h1m12 0h1m70 0h1m17 0h1m-155 1h1m12 0h1m13 0h1m3 0h1m56 0h1m17 0h1m-56 1h1m22 0h1m1 0h1m16 0h1m-87 1h1m34 0h1m31 0h1m1 0h1m18 0h1m1 0h1m49 0h1m9 0h1m-163 1h1m30 0h1m14 0h1m28 0h1m3 0h1m37 0h1m4 0h1m2 0h1m-133 1h1m22 0h1m27 0h1m34 0h1m9 0h1m25 0h1m18 0h1m5 0h1m21 0h1m-157 1h1m55 0h1m25 0h1m17 0h1m3 0h1m37 0h1m-111 1h1m35 0h1m42 0h1m4 0h1m3 0h1m-133 1h1m54 0h1m10 0h1m5 0h1m-74 1h1m14 0h1m32 0h1m46 0h1m6 0h1m6 0h1m1 0h1m46 0h1m-161 1h1m16 0h1m-13 1h1m10 0h1m1 0h1m33 0h1m1 0h1m31 0h1m31 0h1m29 0h1m10 0h1m-156 1h1m98 0h1m21 0h1m-125 1h1m12 0h1m79 0h1m56 0h1m4 0h1m12 0h1m-149 1h1m13 0h1m48 0h1m26 0h1m18 0h1m18 0h1m6 0h1m-142 1h1m11 0h1m42 0h1m9 0h1m59 0h1m-144 1h1m67 0h2m29 0h1m33 0h1m30 0h1m-118 1h1m6 0h1m14 0h1m101 0h1m-147 1h1m76 0h1m14 0h1m-109 1h1m5 0h1m18 0h1m73 0h1m35 0h1m-115 1h1m28 0h1m46 0h1m16 0h1m37 0h1m-112 1h1m18 0h1m6 0h1m60 0h1m22 0h1m5 0h1m-77 1h1m3 0h1m9 0h1m34 0h1m-71 1h1m10 0h1m49 0h1m14 0h1m15 0h1m-135 1h1m16 0h1m26 0h1m29 0h1m12 0h1m26 0h1m-91 1h1m32 0h1m5 0h1m45 0h1m13 0h1m-142 1h1m30 0h1m26 0h1m45 0h1m37 0h1m-150 1h1m29 0h1m12 0h1m23 0h2m90 0h1m-134 1h1m68 0h1m59 0h1m-131 1h1m1 0h1m32 0h1m51 0h1m10 0h1m2 0h1m35 0h1m-5 1h1m-129 1h1m84 0h1m9 0h1m-81 1h2m-20 1h1m17 0h1m72 0h1m15 0h1m29 0h1m5 0h1m-149 1h1m22 0h1m57 0h1m60 0h1m-102 1h1m43 0h1m-33 1h1m2 0h2m7 0h1m33 0h1m48 0h1m-172 1h1m18 0h1m4 0h1m18 0h1m25 0h1m10 0h1m14 0h1m1 0h1m7 0h1m55 0h1m-158 1h1m5 0h1m20 0h1m2 0h1m39 0h1m5 0h1m17 0h1m9 0h1m59 0h1m-108 1h1m27 0h1m-72 1h1m56 0h1m8 0h1m2 0h1m4 0h2m3 0h1m7 0h1m49 0h1m-155 1h1m51 0h1m1 0h1m39 0h1m11 0h1m30 0h1m-86 1h1m25 0h1m-47 1h1m99 0h1m39 0h1m-110 1h1m82 0h1m24 0h1m-164 1h1m49 0h1m46 0h1m54 0h1m-162 1h1m47 0h1m37 0h2m47 0h1m-125 1h1m49 0h1m12 0h1m77 0h1m-125 1h1m97 0h1m15 0h1m30 0h1m-161 1h1m10 0h1m13 0h1m58 0h1m3 0h1m5 0h1m7 0h1m36 0h1m-50 1h1m19 0h1m-58 1h1m78 0h1m-147 1h1m2 0h1m56 0h1m55 0h1m2 0h1m13 0h1m-117 1h1m11 0h1m63 0h1m26 0h1m49 0h1m-138 1h1m19 0h1m16 0h1m61 0h1m12 0h1m6 0h1m-115 1h1m8 0h1m5 0h1m20 0h1m98 0h1m-169 1h1m19 0h1m41 0h1m88 0h1m10 0h1m-160 1h1m13 0h1m38 0h1m45 0h1m15 0h1m18 0h1m-112 1h1m14 0h1m44 0h1m55 0h1m-120 1h1m16 0h1m30 0h1m1 0h1m17 0h1m66 0h1"/>
<path stroke="#8f6" d="M3 0h1m14 0h1m9 0h1m48 0h1m2 0h1m1 0h1m24 0h1m5 0h1m-107 1h1m12 0h1m17 0h1m16 0h1m40 0h1m66 0h1m-112 1h1m17 0h1m44 0h1m17 0h1m-120 1h1m4 0h1m82 0h1m1 0h1m45 0h1m-145 1h1m33 0h1m37 0h1m13 0h1m62 0h1m12 0h1m-121 1h1m32 0h1m15 0h1m11 0h1m2 0h1m-98 1h1m34 0h1m6 0h1m9 0h1m27 0h1m16 0h1m6 0h1m-111 1h1m31 0h1m77 0h1m33 0h1m18 0h1m-93 1h1m2 0h1m37 0h1m14 0h1m-115 1h1m28 0h1m3 0h1m54 0h1m30 0h1m5 0h1m-140 1h1m20 0h1m2 0h1m35 1h1m18 0h1m72 0h1m-98 2h1m29 0h1m16 0h1m12 0h1m23 0h1m-120 1h1m69 0h1m42 0h1m15 0h1m-154 1h1m75 0h1m38 0h1m6 0h1m15 0h1m19 0h1m-154 2h1m32 0h1m49 0h1m15 0h1m9 0h1m17 0h1m14 0h1m4 0h1m-131 1h1m5 0h1m126 0h1m-94 1h1m17 0h1m1 0h1m68 0h1m-152 1h1m12 0h1m50 0h1m92 0h1m12 0h2m-147 1h1m20 0h1m30 0h1m-50 1h1m20 0h1m-9 1h1m3 0h1m50 0h1m26 0h1m23 0h1m2 0h1m-148 1h1m39 0h1m41 0h1m15 0h1m9 0h1m4 1h1m17 0h1m-132 1h1m4 0h1m10 0h1m43 0h1m52 0h1m-91 1h1m69 0h1m20 0h1m16 0h1m-108 1h1m48 0h1m14 0h1m70 0h1m-166 1h1m94 0h1m35 0h1m7 0h1m25 0h1m-146 1h1m1 0h1m49 0h1m7 0h1m40 0h1m3 0h1m45 0h1m-90 1h1m27 0h1m37 0h1m-82 1h1m68 0h1m-74 1h1m28 0h1m35 0h1m7 0h1m-127 1h1m11 0h1m40 0h1m59 0h1m19 0h1m-123 1h1m68 0h1m3 0h1m22 0h1m-87 1h1m81 0h1m5 0h1m48 0h1m-168 1h1m4 0h1m17 0h1m20 0h1m26 0h1m13 0h1m55 0h1m-134 1h1m1 0h1m16 0h1m-10 1h1m50 0h1m17 0h1m47 0h1m-78 1h1m2 0h1m19 0h1m51 0h1m25 0h1m-153 1h1m43 0h1m121 0h1m-112 1h1m24 0h1m3 0h1m22 0h1m20 0h1m5 0h1m16 0h1m4 0h2m-155 1h1m42 0h1m-6 1h1m3 0h1m88 0h1m19 0h1m2 0h1m-140 1h1m88 0h1m35 0h1m-79 1h1m15 0h1m22 0h1m37 0h1m12 0h1m5 0h1m-164 1h1m1 0h1m21 0h1m3 0h1m-16 1h1m39 0h1m10 0h1m9 0h1m15 0h1m-26 1h1m37 0h1m25 0h1m18 0h1m-120 1h1m107 0h1m24 0h2m-168 1h1m37 0h1m73 0h1m46 0h2m-162 1h1m37 0h1m2 0h1m24 0h1m3 0h1m92 0h1m1 0h1m-160 1h2m52 0h1m86 0h1m3 0h1m-87 1h1m53 0h1m22 0h1m-65 1h1m-60 1h1m85 0h1m64 0h1m-164 1h1m4 0h1m11 0h1m43 0h1m1 0h1m1 0h1m1 0h1m16 0h1m10 0h1m47 0h1m12 0h1m-151 1h1m34 0h1m42 0h1m-87 1h1m45 0h1m53 0h1m9 0h1m25 0h1m-91 1h1m47 0h1"/>
<path stroke="#bf4" d="M23 0h1m52 0h1m63 0h1m28 0h1m-157 1h1m63 0h1m-60 1h1m117 0h1m-122 1h1m85 0h1m9 0h1m44 0h1m14 0h1m-158 1h1m87 0h1m21 0h1m-103 1h1m11 0h1m54 0h1m2 0h1m12 0h1m60 0h1m-133 1h1m10 0h1m38 0h1m40 0h1m-66 1h1m3 0h1m16 0h1m21 0h1m4 0h2m20 0h1m13 0h1m-98 1h1m25 0h1m38 0h1m11 0h1m25 0h1m-125 1h1m49 0h1m66 0h1m5 0h1m-132 1h1m79 0h1m-24 1h1m18 0h1m15 0h1m27 0h1m11 0h1m-135 1h1m67 0h1m84 0h1m-70 1h1m60 0h1m-147 1h1m8 0h1m17 0h1m46 0h1m83 0h1m-162 1h1m3 0h1m6 0h1m12 0h1m47 0h1m14 0h2m3 0h1m41 0h1m-96 1h1m44 0h1m14 0h1m33 0h1m-131 1h1m22 0h2m94 0h1m-102 1h1m107 0h1m5 0h1m-129 1h1m110 0h1m-106 1h1m75 0h1m-41 1h1m45 0h1m4 0h1m2 0h1m11 0h2m1 0h1m10 0h1m17 0h1m-67 1h1m-87 1h1m67 0h1m37 0h1m-109 1h1m36 0h1m27 0h1m14 0h1m34 0h1m28 0h1m-86 1h1m104 0h1m-148 1h1m68 0h1m3 0h1m48 0h1m6 0h1m-140 1h1m38 0h1m22 0h1m62 0h1m37 0h1m-173 1h2m100 0h1m9 0h1m-72 1h1m28 0h1m29 0h1m19 0h1m11 0h1m13 0h1m-78 1h1m5 0h1m14 0h1m15 0h1m6 0h1m-75 1h1m-10 1h1m100 0h1m-103 1h1m2 0h1m32 0h1m105 0h1m-137 1h1m3 0h1m25 0h1m12 0h1m18 0h1m38 0h1m19 0h1m-139 1h1m64 0h1m21 0h1m23 0h1m7 0h1m-15 1h1m2 0h1m9 0h1m33 0h1m-79 1h1m24 0h1m44 0h1m-134 1h1m22 0h1m24 0h1m55 0h1m3 0h1m32 0h1m-36 1h1m3 0h1m6 0h1m17 0h1m-140 1h1m12 0h1m5 0h1m8 0h1m16 0h1m51 0h1m8 0h1m-102 1h1m25 0h1m4 0h1m21 0h1m8 0h1m15 0h1m41 0h1m-133 1h1m79 0h1m21 0h1m28 0h1m-145 1h1m10 0h1m8 0h1m74 0h1m46 0h1m-122 1h1m17 0h1m38 0h1m31 0h1m2 0h1m-94 2h1m60 0h1m46 0h1m8 0h1m-138 1h1m13 0h1m19 0h1m71 0h1m16 0h1m31 0h1m-147 1h1m11 0h2m7 0h1m86 0h1m-126 1h1m19 0h1m58 0h1m7 0h1m3 0h1m31 0h1m21 0h1m-140 1h1m89 0h1m6 0h1m-103 1h1m2 0h1m9 0h1m92 0h1m-71 1h1m6 0h1m52 0h1m61 0h1m9 0h1m-63 1h1m14 0h1m5 0h1m29 0h1m-116 1h1m38 0h1m3 0h1m10 0h1m7 0h1m55 0h1m-122 1h1m16 0h1m65 0h1m3 0h1m29 0h1m5 0h1m-160 1h1m152 0h1m12 0h1m-60 1h1m31 0h1m-125 1h1m90 0h1m49 0h1m14 0h1m-174 1h1m7 0h1m71 0h1m31 0h1m45 0h1m-97 1h1m3 0h1m61 0h1m40 0h1"/>
<path stroke="#df1" d="M88 0h1m3 0h1m29 0h1m39 0h1m-137 1h1m19 0h1m59 0h1m34 1h1m-134 1h1m14 0h1m42 0h1m78 0h1m-119 1h1m7 0h1m36 0h1m78 0h1m-150 1h1m87 0h1m25 0h1m8 0h1m26 0h1m-150 1h1m21 0h1m12 0h1m7 0h1m50 0h1m12 0h1m5 0h1m30 0h1m20 0h1m-162 1h1m47 0h1m2 0h2m3 0h1m73 0h1m3 0h1m-101 2h1m4 0h1m19 0h1m89 0h1m-147 1h1m149 0h1m-140 1h1m32 0h1m24 0h1m26 0h1m-106 1h1m54 0h1m91 0h1m-116 1h1m10 0h1m35 0h1m21 0h1m29 0h1m17 0h1m-64 1h1m45 0h1m-92 1h1m11 0h1m31 0h1m6 0h1m55 0h1m-133 1h1m66 0h2m5 0h1m14 0h1m54 0h1m12 0h1m-139 1h1m12 0h1m47 0h1m22 0h1m38 0h1m-70 1h1m39 0h1m-97 1h1m34 0h1m10 0h1m48 0h1m6 0h1m26 0h1m-163 1h1m65 0h1m83 0h1m20 0h1m-155 1h1m94 0h1m-112 1h1m6 0h1m122 0h1m-76 1h1m5 0h1m5 0h1m26 0h1m1 0h1m-50 1h1m-8 1h1m11 0h1m75 0h1m-126 1h1m103 0h1m49 0h1m-114 1h1m25 0h1m3 0h1m51 0h1m-92 1h1m17 0h1m10 0h1m-37 1h1m37 0h1m16 0h1m8 0h1m10 0h1m54 0h1m4 0h1m-156 1h1m11 0h1m12 0h1m10 0h1m119 0h1m-136 1h1m22 0h1m40 0h2m30 0h1m30 0h1m-118 1h1m1 0h1m31 0h1m-13 1h1m34 0h1m65 0h1m-83 1h1m32 0h1m-80 1h1m79 0h1m31 0h1m-31 1h1m32 0h1m-135 1h1m12 0h1m9 0h1m74 0h1m3 0h1m28 0h1m-146 1h1m41 0h1m3 0h1m3 0h1m45 0h1m-69 1h1m66 0h1m24 1h1m44 0h1m-132 1h1m52 0h1m33 0h1m2 0h1m3 0h1m-124 1h2m9 0h1m22 0h1m15 0h1m66 1h1m14 0h1m5 0h1m6 0h1m-129 1h1m45 0h1m13 0h1m27 0h1m32 0h1m-119 1h1m30 0h1m7 0h1m24 0h1m24 0h1m40 0h1m-59 1h1m15 0h1m-111 1h1m12 0h1m21 0h1m3 0h1m7 0h1m76 0h1m31 0h1m-83 1h1m27 0h1m13 0h1m23 0h1m11 0h1m11 0h1m-165 1h1m59 0h1m25 0h1m3 0h1m-25 1h1m64 0h1m11 0h1m-118 2h1m73 0h1m10 0h1m-100 1h1m48 0h1m14 0h1m31 0h1m17 0h1m1 0h1m27 0h1m-136 1h1m4 0h1m5 0h1m33 0h1m3 0h1m25 0h1m51 0h1m-127 1h1m29 0h1m33 0h1m2 0h1m16 0h1m29 0h1m23 0h1m-166 1h1m13 0h1m23 0h1m49 0h1m40 0h1m17 0h1m14 0h1m-24 1h1m1 0h1m-129 1h1m84 0h1m3 0h1m10 0h1m18 0h1m13 0h1m-60 1h1m16 0h1m40 0h1m23 0h1m-45 1h1m18 0h1"/>
<path stroke="#fd0" d="M8 0h1m12 0h1m46 0h1m61 0h2m-90 1h1m64 0h1m5 0h1m36 0h1m14 0h1m-135 1h1m51 0h1m9 0h1m38 0h1m9 0h1m16 0h1m14 0h1m-154 1h1m103 0h1m34 0h1m-35 1h1m-100 1h2m-12 1h1m84 0h1m4 0h1m48 0h1m-155 1h1m14 0h1m106 0h1m-87 1h1m31 0h1m29 0h1m21 0h1m48 0h1m-141 1h1m63 0h1m22 0h1m-39 1h1m6 0h1m5 0h1m2 0h1m53 0h1m-146 1h1m35 0h1m58 0h1m74 0h1m-163 1h1m10 0h1m52 0h1m30 0h1m26 0h1m-101 1h1m89 0h1m23 0h1m-95 1h1m64 0h1m-110 1h1m83 0h1m7 0h1m39 0h1m-112 1h1m28 0h1m58 0h1m25 0h1m16 0h1m-16 1h1m3 0h1m-58 1h1m-55 1h1m3 0h1m48 0h1m9 1h1m17 0h1m12 0h1m-64 1h1m17 0h1m56 0h1m6 0h1m-26 1h1m-129 1h1m53 0h1m32 0h1m80 0h1m-167 1h1m166 0h1m-153 1h1m21 0h1m8 0h1m18 0h1m53 0h1m-122 1h1m62 0h1m16 0h1m32 0h1m50 0h1m-131 1h1m23 0h1m28 0h1m27 0h1m38 0h1m-155 1h1m23 0h1m52 0h1m14 0h1m65 0h1m-107 1h1m37 0h1m35 0h1m-41 1h1m-26 1h1m50 0h1m31 0h1m-74 1h1m92 0h1m-139 1h1m29 0h1m102 0h1m-111 1h1m-16 1h1m117 0h1m11 0h1m-96 1h1m8 0h1m10 0h1m55 0h1m22 1h1m-143 1h1m26 0h1m39 0h1m43 0h1m2 0h1m-135 1h1m32 0h1m76 0h1m21 0h1m-92 1h1m43 0h1m1 0h1m34 0h1m7 0h1m14 0h1m-78 1h1m1 0h1m5 0h1m53 0h1m33 0h1m-156 1h1m22 0h1m9 0h1m84 0h1m-31 1h1m3 0h1m21 0h1m21 0h1m3 0h1m-136 1h1m9 0h1m98 0h1m-98 1h1m5 0h1m31 0h1m17 0h1m36 0h1m-91 1h1m91 0h2m-110 1h1m111 0h1m-67 1h1m7 0h1m60 0h1m12 0h1m18 0h1m6 0h1m-124 1h1m22 0h1m1 0h1m75 0h1m-121 1h1m23 0h1m89 0h1m-82 1h1m27 0h1m16 0h1m9 0h1m-47 1h1m6 0h1m6 0h1m14 0h1m11 0h1m59 0h1m-137 1h1m2 0h1m15 0h1m35 0h1m43 0h1m1 0h1m18 0h1m3 0h1m3 0h1m-73 1h1m66 0h1m-160 1h1m46 0h1m27 0h1m26 0h1m-89 1h1m12 0h1m133 0h1m10 0h1m-164 1h1m16 0h1m10 0h1m21 0h1m44 0h1m31 0h1m-112 1h1m34 0h1m4 0h2m3 0h1m26 0h1m48 0h1m21 0h1m-136 1h1m6 0h1m30 0h2m50 0h1m-124 1h1m5 0h1m28 0h1m77 0h1"/>
<path stroke="#fa0" d="M17 0h1m54 0h1m26 0h1m21 0h1m-21 1h2m25 0h1m-91 1h1m14 0h1m30 0h1m25 0h1m8 0h1m37 0h1m12 0h1m-79 1h1m47 0h1m-107 1h1m7 0h1m2 0h1m6 0h1m22 0h1m94 0h1m-160 1h1m37 0h1m14 0h1m11 0h1m1 1h1m-57 1h1m75 0h1m2 0h1m65 0h1m-1 1h1m-111 1h1m40 0h1m38 0h1m2 0h1m20 0h1m13 0h1m-167 1h1m7 0h1m53 0h1m9 0h1m22 0h2m-87 1h1m3 0h1m29 1h1m11 0h1m-43 1h1m27 0h1m40 0h1m46 0h1m28 0h1m-103 1h1m3 0h1m1 0h1m91 0h1m-54 1h1m-23 1h1m11 0h1m19 0h1m5 0h1m-43 1h1m16 0h1m1 0h1m20 0h1m29 0h1m-80 1h1m48 0h1m48 0h1m-164 1h1m9 0h1m32 0h1m17 0h1m58 1h1m13 0h1m19 0h1m-97 1h1m17 0h1m-70 2h1m59 0h1m32 0h1m22 0h1m-99 1h1m68 1h1m-28 1h1m19 0h1m40 0h1m-102 1h1m68 0h1m34 0h1m-129 1h1m38 0h1m13 1h1m-50 1h1m45 0h1m-56 1h1m35 0h1m16 1h1m21 0h1m53 0h1m18 0h1m-143 1h1m69 0h1m-30 1h1m33 0h1m2 0h1m20 0h1m-92 1h1m41 0h1m23 0h1m6 0h1m3 0h1m55 0h1m-145 1h1m8 0h1m50 0h1m-73 2h1m12 0h1m62 0h1m-51 1h1m29 0h1m1 0h1m59 0h1m16 0h1m4 0h1m-96 1h1m43 0h1m3 0h1m-32 1h1m70 0h1m-105 1h1m50 0h1m36 0h1m8 0h1m9 0h1m13 0h1m22 0h1m-164 1h1m19 0h1m85 0h2m-72 1h1m5 0h1m52 0h1m10 0h1m-97 1h1m43 0h1m26 0h1m16 0h1m14 0h1m13 0h1m34 1h1m-96 1h1m13 0h1m79 0h1m-71 1h1m10 0h1m4 0h1m18 0h1m34 0h1m-168 1h1m72 0h1m77 1h1m-98 1h1m9 0h1m1 0h1m1 0h1m14 0h1m-52 1h1m125 0h1m-131 1h1m36 0h1m34 0h1m15 0h1m-87 1h1m7 0h1m11 0h1m1 0h1m-40 1h1m49 0h2m3 0h1m56 0h1m24 0h1m10 0h1m-148 1h1m110 0h1m8 0h1m-112 1h1m24 0h1m35 0h1m46 0h1m-115 1h1m18 0h1m60 0h1m24 0h1m39 0h1m-102 1h1m31 0h1m30 0h1m8 0h1m16 1h1"/>
<path stroke="#f80" d="M25 0h1m18 0h1m61 0h1m11 0h1m-96 1h1m20 0h1m3 0h1m5 0h1m8 0h1m93 0h1m-139 1h1m46 0h1m15 0h1m19 0h1m28 0h1m5 0h1m-121 1h1m60 0h1m39 0h1m10 0h1m9 0h1m-96 1h1m60 0h1m2 0h1m48 0h1m-65 1h1m-87 1h1m35 0h1m61 0h1m63 0h1m-98 1h1m2 0h1m38 0h1m-76 1h1m104 0h1m25 0h1m-59 1h1m25 0h1m11 0h1m-12 1h1m2 0h1m-119 1h1m66 0h1m21 0h1m4 0h1m7 0h1m27 0h1m17 0h1m-119 1h1m13 0h1m5 0h1m41 0h1m16 0h1m-131 1h1m134 0h1m-107 1h1m62 0h1m-43 1h1m37 0h1m53 0h1m11 0h1m3 0h1m-138 1h1m40 0h2m36 0h1m64 0h1m-123 1h1m8 0h1m1 0h1m-34 1h1m45 0h1m32 0h1m-57 1h1m31 0h1m1 0h1m9 0h1m56 0h1m-128 1h1m73 0h1m13 0h1m34 1h1m5 0h1m-109 1h1m13 0h1m13 0h1m14 0h1m20 0h1m36 0h1m-141 1h1m17 0h1m24 0h2m49 0h1m10 0h1m3 0h1m12 0h1m10 0h1m13 0h1m-78 1h1m92 0h1m-73 1h1m18 0h1m44 0h1m-97 1h1m49 0h1m59 0h1m-167 1h2m8 0h1m31 0h1m61 0h1m-38 1h1m57 0h1m19 0h1m4 0h1m-146 1h1m124 0h1m-105 1h1m7 0h1m30 0h1m32 0h1m15 0h1m40 0h1m-133 1h1m84 0h1m27 0h1m-122 1h1m45 0h1m33 0h1m13 0h1m-109 1h1m134 0h1m-130 1h1m96 0h1m-54 1h1m1 0h1m42 0h1m1 0h1m19 0h1m45 0h1m-154 1h1m12 0h1m8 0h1m29 0h1m47 0h1m-83 1h1m74 0h1m3 0h1m7 0h1m-51 1h1m24 0h1m44 0h1m1 0h1m19 0h1m5 0h1m-163 1h1m46 0h1m21 0h1m5 0h1m78 0h1m-163 1h1m2 0h1m30 0h1m40 0h1m15 0h1m16 0h1m13 0h1m-109 1h1m14 0h1m8 0h2m17 0h1m12 0h1m47 0h1m21 0h1m-117 1h1m8 0h1m52 0h1m-65 1h1m142 0h1m2 0h1m-158 1h1m69 0h1m67 0h1m-106 1h1m37 0h1m24 0h1m46 0h1m-153 1h1m11 0h1m12 0h1m68 0h1m28 0h1m14 0h1m-108 1h1m30 0h1m1 0h1m33 0h1m-73 1h1m20 0h1m34 0h1m54 0h1m-106 1h1m104 0h1m-59 1h1m89 0h1m-98 1h1m42 0h1m22 1h1m14 0h1m-130 1h1m10 0h1m17 0h1m88 0h1m-121 1h1m21 0h1m24 0h1m39 0h1m17 0h1m7 0h1m-53 1h1m52 0h1m23 0h1m-158 1h1m37 0h1m13 0h1m23 0h1m13 0h1m-73 1h1m18 0h1m46 0h1m23 0h1m9 0h1m2 0h1m9 0h2m8 0h1m1 0h1m5 0h1m-143 1h1m21 0h1m19 0h1m67 0h1m47 0h1m-127 1h1m41 0h1m6 0h1m21 0h1m14 0h1m-125 1h1m34 0h1m78 0h1m17 0h1m16 0h1"/>
<path stroke="#f50" d="M110 0h1m3 0h2m4 0h1m17 0h1m20 0h1m-129 1h1m26 0h1m51 0h1m-87 1h1m17 0h1m44 0h1m-83 1h1m46 0h1m21 0h1m28 0h1m34 0h1m-108 1h1m29 0h1m94 1h1m-131 1h1m88 0h1m-55 1h1m40 0h1m52 1h1m12 0h1m-155 1h1m54 0h1m52 0h1m10 0h1m-132 1h3m2 0h1m18 0h1m6 0h1m31 0h1m35 0h1m-86 1h1m52 0h1m8 0h1m20 0h1m5 0h1m43 0h1m-130 1h1m83 0h1m-57 1h1m10 0h1m13 0h1m9 0h1m60 0h1m-111 1h1m28 0h1m72 0h1m14 0h1m-76 1h1m1 0h1m80 1h1m-106 1h1m48 0h1m24 0h1m-114 2h1m55 0h1m44 0h1m16 0h1m8 0h1m-110 1h1m27 0h1m84 0h1m10 0h1m8 0h1m6 0h1m-157 1h1m138 0h1m15 0h1m-152 1h1m131 0h1m-82 1h1m92 0h1m-157 1h1m13 0h1m29 0h1m41 0h1m6 0h1m6 0h1m-110 1h1m32 0h1m9 0h1m51 0h1m3 0h1m27 0h1m8 0h1m-62 1h1m13 0h1m3 0h1m28 0h1m26 0h1m17 0h1m-168 1h1m49 0h1m10 0h1m84 0h1m10 0h1m-97 1h1m48 0h1m29 0h1m11 0h1m12 0h1m1 0h1m-62 1h1m49 0h1m-115 1h1m-30 1h1m25 0h1m8 0h1m12 0h1m71 0h1m-28 1h1m68 0h1m-130 1h1m44 0h1m38 0h1m3 0h1m33 0h1m-166 1h1m22 0h1m65 0h1m6 0h1m21 0h1m-104 1h1m69 0h1m3 0h1m37 0h2m5 0h2m-123 1h1m59 0h1m3 0h1m13 0h2m-24 1h1m52 0h1m34 0h1m-142 1h1m-7 1h1m7 0h1m6 0h1m30 0h1m10 0h1m3 0h1m7 0h1m8 0h1m11 0h1m4 0h1m6 0h1m-79 1h1m2 0h1m24 0h1m4 0h1m89 0h1m-157 1h1m44 0h1m102 0h1m-150 1h2m5 0h1m50 0h1m-60 1h1m22 0h1m47 0h1m45 0h1m17 0h1m-75 1h1m5 0h1m5 0h1m12 0h1m47 0h1m8 0h1m-134 1h1m106 0h1m-24 2h1m10 0h1m40 0h1m-148 1h1m33 0h1m62 0h1m-62 1h1m74 0h1m-16 1h1m59 0h1m-129 1h1m118 0h1m-141 1h1m44 0h1m25 0h1m70 0h1m4 1h1m-155 1h1m8 0h1m76 0h1m69 0h1m13 0h1m-168 1h1m27 0h1m40 0h1m9 0h1m49 0h1m-35 1h1m16 0h1m9 0h1m6 0h1m1 0h1m16 0h1m-120 1h1m37 0h1m30 0h1m-101 1h1m22 0h1m1 0h1m66 0h1m37 0h1m-130 1h1m11 0h1m3 0h1m44 0h1m47 0h1m12 0h1m7 0h1m-104 1h1m13 0h1m102 0h1m5 0h1"/>
<path stroke="#f20" d="M87 0h1m8 0h2m49 0h1m-60 1h1m19 0h1m32 0h1m18 0h1m-124 1h1m31 0h1m19 0h1m24 0h1m1 0h1m31 0h1m-123 1h1m14 0h1m7 0h1m25 0h2m-19 1h1m41 0h1m26 0h1m-110 1h1m28 0h1m24 0h1m71 0h1m-59 1h1m73 0h1m-147 1h1m10 0h1m90 0h1m22 0h1m30 0h1m3 0h1m-57 1h1m23 0h1m6 0h1m25 0h1m-146 1h1m12 0h1m79 0h1m-21 1h1m67 0h1m-150 1h1m9 0h1m28 0h1m34 0h1m4 0h1m10 0h1m19 0h1m-127 1h1m4 0h2m63 0h1m18 0h1m40 0h1m-11 1h1m18 0h1m-138 1h1m139 0h1m-101 1h1m3 0h1m17 0h1m68 0h1m23 0h1m-157 1h1m18 0h1m14 0h2m57 0h1m28 0h1m25 0h1m-105 1h1m11 0h1m22 0h1m50 0h1m15 0h2m7 0h1m-107 1h1m17 0h1m64 0h1m-17 1h1m1 0h1m11 0h1m13 0h1m9 0h1m-149 1h1m28 0h1m33 0h1m12 0h1m43 0h1m-80 1h1m16 0h1m8 0h1m19 1h1m47 0h1m-118 1h1m3 0h1m5 0h1m29 0h1m50 0h1m10 0h1m-112 1h1m4 0h1m64 0h1m31 0h1m13 0h1m-84 1h1m3 0h1m12 0h1m50 0h1m-91 1h1m13 0h1m13 0h1m11 0h1m47 0h1m-77 1h1m24 0h1m2 0h1m21 0h1m19 0h1m13 0h1m44 0h1m-140 1h1m61 0h1m2 0h1m40 0h1m-52 1h1m56 0h1m24 0h1m-147 1h1m17 0h1m68 0h1m28 0h1m10 0h1m-147 1h1m7 0h1m11 0h1m32 0h1m2 0h1m17 0h1m48 0h1m8 0h1m-125 1h1m73 0h1m10 0h1m25 0h1m19 0h1m5 0h1m-150 1h1m114 0h1m-103 1h1m15 0h1m50 0h1m29 0h1m-95 1h1m24 0h1m16 0h2m3 0h1m43 0h1m63 0h1m-132 1h1m112 0h1m-157 1h1m53 0h1m54 0h1m30 0h1m10 0h1m7 0h1m-134 1h1m37 0h1m26 0h1m79 0h1m-111 1h1m49 0h1m2 0h1m5 0h1m22 0h1m17 0h1m-161 1h1m84 0h1m61 0h1m-118 1h1m40 1h1m14 0h1m-74 1h1m23 1h1m61 0h1m67 0h1m-75 1h1m49 0h1m4 0h1m-107 1h1m60 0h1m42 0h1m1 0h1m-127 1h1m16 0h1m96 0h1m-136 1h1m56 0h1m25 0h1m83 0h1m-159 1h1m42 0h1m20 0h1m91 0h1m-159 1h1m1 0h1m58 0h1m2 0h1m25 0h1m64 0h1m-28 1h2m15 0h1m-155 1h1m88 0h1m5 0h1m32 0h1m24 0h1m-74 1h1m19 0h1m-41 1h1m77 0h1m30 0h1m-122 1h1m-12 1h1m40 0h1m44 0h1m26 0h1m8 0h1m8 0h1m-139 1h1m17 0h1m15 0h1m15 0h1m63 0h1m25 0h1m-122 1h1m10 0h1m17 0h1m93 0h1m-57 1h1m18 0h1m36 0h1m-111 1h1m11 0h1m20 0h1m33 0h1m36 0h1"/>
<path stroke="#d00" d="M55 0h1m23 0h1m-51 1h1m104 0h1m10 0h1m-117 1h1m131 0h1m-112 1h1m46 0h1m55 0h1m-113 1h1m13 0h1m14 0h1m32 0h1m39 0h1m-119 1h2m29 0h1m117 0h1m-166 1h1m39 0h1m11 0h1m46 0h1m61 0h1m-155 1h1m94 0h1m54 0h1m-159 1h1m35 0h1m44 0h2m28 0h1m11 0h1m34 0h1m-162 1h1m23 0h1m18 0h1m13 0h1m33 0h1m19 0h1m9 0h1m45 0h2m-155 1h1m16 0h1m58 0h1m66 0h1m-104 1h1m16 0h2m50 0h1m8 0h1m5 0h1m9 0h1m-115 1h1m1 0h1m-29 1h1m32 0h1m20 0h1m88 0h1m14 0h1m-166 1h1m51 0h1m1 0h1m14 0h1m41 0h1m44 0h1m-155 2h1m12 0h1m45 0h1m90 0h1m-86 1h1m43 0h1m26 0h1m-139 1h1m8 0h1m52 0h1m44 0h1m2 0h1m6 0h1m14 0h1m-100 1h1m120 0h1m11 0h1m-132 1h1m8 0h1m12 0h1m38 0h1m12 0h1m21 0h1m10 0h1m-118 1h1m125 0h1m-78 1h1m18 0h1m11 0h1m-60 1h1m48 0h1m7 0h1m5 0h2m9 0h1m15 0h1m2 0h1m-138 1h1m2 0h1m79 0h1m-69 1h1m23 0h1m91 0h1m5 0h1m17 0h1m2 0h1m-159 1h1m41 0h1m23 0h1m91 0h1m-65 1h1m-96 1h1m15 0h1m25 0h1m8 0h1m24 0h1m14 0h1m44 0h1m-93 1h1m11 0h1m11 0h1m42 0h1m-99 1h1m17 0h1m50 0h1m-90 1h1m96 0h1m22 0h1m22 0h1m-61 1h1m3 0h1m59 1h1m-141 1h1m16 0h1m26 0h1m8 0h1m-59 1h1m14 0h1m16 0h1m29 0h1m46 0h1m-101 1h1m69 0h1m45 0h1m-76 1h1m2 0h1m-48 1h1m39 0h1m18 0h1m42 0h1m9 0h1m13 0h1m-126 1h1m37 0h1m64 0h1m-54 1h1m-12 1h1m105 0h1m-143 1h1m68 0h1m25 0h1m7 0h1m53 0h1m-159 1h1m12 0h1m27 0h1m26 1h1m18 0h2m1 0h1m6 0h1m16 0h1m-101 1h1m11 0h1m42 0h1m9 0h1m9 0h1m45 0h1m12 0h1m4 0h1m-157 1h1m60 1h1m-19 1h1m116 0h1m-161 1h1m22 0h1m23 0h1m45 0h1m57 0h1m-92 1h1m6 0h1m-63 1h1m3 0h1m29 0h1m104 0h1m12 0h2m1 0h1m-65 1h1m19 0h1m45 0h1m1 0h1m-105 1h1m2 0h1m41 0h1m-96 1h1m14 0h1m102 0h1m-126 1h1m9 0h1m4 0h1m18 0h1m15 0h1m85 0h1m-85 1h1m77 0h1m-140 1h1m14 0h1m1 0h1m38 0h1m20 0h1m10 0h1m50 0h1m-129 1h1m25 0h1m42 0h1m57 0h1m32 0h1m-22 1h1m6 0h1m-138 1h1m10 0h1m46 0h1m32 0h1"/>
<path stroke="#900" d="M42 0h1m9 0h1m63 0h1m9 0h1m-126 1h1m20 0h1m24 0h1m92 0h1m-128 1h1m8 0h1m41 0h1m74 0h1m-139 1h1m14 0h1m26 0h1m27 0h1m1 0h1m46 0h1m6 0h1m-103 1h1m50 0h1m9 0h1m55 0h1m-128 1h1m14 0h1m1 0h1m8 0h1m17 0h1m90 0h1m-57 1h1m-87 1h1m44 0h1m11 0h1m66 0h1m24 0h1m1 0h1m-158 1h1m34 0h1m3 0h1m65 0h1m7 0h1m7 0h1m-15 1h1m10 0h1m4 0h1m22 0h1m-105 1h1m47 0h1m-82 1h1m99 0h1m19 0h1m-2 1h2m12 0h1m28 0h2m-139 1h1m2 0h1m13 0h1m14 0h1m27 0h1m12 0h1m36 0h1m1 0h1m-105 1h1m4 0h1m51 0h1m51 0h1m12 0h1m-146 1h1m36 0h1m59 0h1m-63 1h1m108 0h1m-76 1h1m66 0h1m15 0h1m-152 1h1m7 0h1m12 0h1m13 0h1m68 0h1m27 0h1m-141 1h1m29 0h1m6 0h1m16 0h1m46 0h1m28 0h1m-122 1h1m15 0h1m65 0h1m34 0h1m-141 1h1m19 0h1m6 0h1m66 0h1m10 0h1m28 0h1m14 0h1m13 0h1m2 0h1m-159 1h1m42 0h1m12 0h1m27 0h1m31 0h1m3 0h1m27 0h1m-155 1h1m9 0h1m53 0h1m74 0h1m-117 1h1m29 0h1m83 0h1m-119 1h2m14 0h1m25 0h1m71 0h1m16 0h1m7 0h1m-124 1h1m41 0h1m14 0h1m31 0h1m2 0h1m10 0h1m14 0h1m-99 1h1m50 0h1m3 0h1m5 0h1m51 0h1m-162 1h1m28 0h1m90 0h1m9 0h1m34 0h2m-166 1h1m23 0h1m46 0h1m7 0h1m25 0h1m10 0h1m-122 1h1m12 1h1m53 0h1m28 0h1m33 0h1m23 0h1m1 0h1m-145 1h1m2 0h1m8 0h1m68 0h1m24 0h1m4 0h1m42 0h1m-146 1h1m25 0h1m23 0h1m32 0h1m-32 1h1m33 0h1m36 0h1m-150 1h1m14 0h1m85 0h1m-96 1h1m38 0h1m9 0h1m37 0h1m8 0h1m35 0h1m-121 1h1m111 0h1m24 0h1m-48 1h2m23 0h1m-124 1h1m12 0h1m21 0h1m102 0h1m26 0h1m-167 1h1m16 0h1m4 0h1m15 1h1m26 0h1m32 0h1m33 0h1m-89 1h1m16 0h1m29 0h1m30 0h1m-112 1h1m6 0h1m15 0h1m5 0h1m11 0h1m22 0h1m44 0h1m13 0h1m-118 1h1m99 0h1m1 0h1m-79 1h1m10 0h1m10 0h1m20 0h1m-59 1h1m3 0h1m40 0h1m18 0h1m54 0h2m3 0h1m15 0h1m-73 2h1m-102 1h1m29 0h1m16 0h1m103 0h1m-121 1h1m33 0h1m99 0h1m-124 1h1m52 0h1m1 0h1m67 0h1m-138 1h1m14 0h1m6 0h1m10 0h1m52 0h1m12 0h2m35 0h1m-140 1h1m58 0h1m2 0h1m46 0h1m5 0h1m14 0h1m16 0h1m-136 1h1m19 0h1m90 0h1m7 0h1m-129 1h1m38 0h1m98 0h1m1 0h1m-59 1h1m-107 1h1m49 0h1m2 0h1m3 0h1m46 0h1m52 0h1m9 0h1m-139 1h1m41 0h1m47 0h1m20 0h1m-38 1h1m1 0h1m1 0h1m31 0h1m5 0h1m19 0h1m-160 1h2m18 0h1m85 0h1m27 0h1"/>
</g></pattern>
<pattern id="nC" width="176" height="23" patternUnits="userSpaceOnUse"><g transform="translate(0,.5)" fill="none">
<path stroke="#009" d="M25 3h1m107 2h1m30 0h1m-70 1h1m18 4h1m-78 1h1m39 2h1m65 0h1m-122 2h1m51 0h1m71 0h1m-36 1h1"/>
<path stroke="#00d" d="M3 5h1m123 0h1m-72 1h1m54 4h1m-67 1h1m124 0h1m-118 1h1m13 0h1m27 1h1m-88 2h1m15 0h1m91 1h1m53 1h1m-138 3h1m44 1h1m76 1h1"/>
<path stroke="#00f" d="M108 0h1m46 1h1m-70 1h1m-13 2h1m-27 1h1m-22 1h1m-6 1h1m128 0h1m2 2h1m-44 2h1m-83 2h1m1 3h1m-18 1h1m140 1h1m-108 1h1m91 3h1"/>
<path stroke="#03f" d="M56 0h1m70 2h1m-119 2h1m96 0h1m6 6h1m-107 3h1m33 0h1m105 1h1m-62 3h1m80 2h1m-34 1h1"/>
<path stroke="#06f" d="M26 1h1m139 1h1m-140 1h1m2 1h1m131 1h1m2 0h1m-136 1h1m29 1h1m35 1h1m37 0h1m40 3h1m-175 2h1m156 2h1m-136 1h1m118 0h1m-109 1h1m87 0h1m-65 1h1m8 0h1m81 0h1m-92 2h1"/>
<path stroke="#09f" d="M20 0h1m48 0h1m18 0h1m-57 1h1m32 3h1m100 1h1m-59 1h1m44 0h1m-22 2h1m-107 7h1m102 1h1m-59 4h1m27 0h1m-70 1h1m49 0h1m48 0h1m-77 1h1"/>
<path stroke="#0cf" d="M33 0h1m81 2h1m-70 1h1m91 4h1m-48 1h1m44 0h1m-51 1h1m4 1h1m-5 1h1m14 2h1m-97 2h1m107 1h1m46 1h1m-59 4h1"/>
<path stroke="#1fd" d="M136 4h1m-40 1h1m-94 1h1m134 0h1m32 1h1m-165 2h1m0 3h1m142 1h1m3 0h1m-87 1h1m-42 3h1m27 0h1m72 0h1m-42 3h1m31 2h1"/>
<path stroke="#4fb" d="M49 0h1m51 0h1m60 10h1m-77 2h1m63 1h1m-19 1h1m5 0h1m-52 1h1m-73 2h1m10 0h1m66 0h1m-68 2h1m80 0h1m-84 1h1m72 0h1m-65 1h1m97 0h1m26 0h1"/>
<path stroke="#6f8" d="M27 0h1m135 0h1m-152 1h1m21 0h1m36 0h1m-9 1h1m85 0h1m4 1h1m-61 2h1m43 0h1m14 0h1m-68 2h1m82 2h1m-145 1h1m4 1h1m67 0h1m-49 1h1m111 2h1m-54 2h1m65 0h1m-24 1h1m-27 1h1m-72 1h1m4 3h1m5 0h1m3 0h1"/>
<path stroke="#8f6" d="M32 0h1m57 0h1m41 0h1m3 1h1m-92 5h1m21 0h1m23 1h1m68 0h1m-141 2h1m121 1h1m13 0h1m-6 1h1m-25 1h1m2 2h1m15 0h1m-38 1h1"/>
<path stroke="#bf4" d="M56 3h1m14 3h1m38 0h1m50 3h1m-78 3h1m31 6h1m52 4h1"/>
<path stroke="#df1" d="M30 0h1m20 0h1m-38 3h1m128 1h1m-124 1h1m-14 1h1m37 1h1m2 0h1m-23 2h1m68 1h1m0 1h1m46 4h1m-131 4h1m38 0h1m120 0h1m-156 1h1m2 0h1m137 0h1m14 2h1"/>
<path stroke="#fd0" d="M109 0h1m1 1h1m-84 7h1m36 5h1m89 0h1m-47 1h1m-38 3h1m-24 2h1m-13 2h1m-24 1h1"/>
<path stroke="#fa0" d="M71 0h1m56 0h1m-5 2h1m-78 1h1m108 12h1m-148 5h1m68 2h1"/>
<path stroke="#f80" d="M76 0h1m60 0h1m-134 1h1m121 4h1m-91 5h1m98 0h1m-22 8h1m23 0h1"/>
<path stroke="#f50" d="M83 0h1m28 1h1m52 0h1m-36 6h2m-67 3h1m54 1h1m-101 1h1m42 1h1m53 0h1m-36 1h1m80 0h1m-25 1h1m-139 1h1m32 0h1m104 1h1m-89 1h1m-42 1h1m37 1h1m-13 1h1m62 0h1m36 0h1"/>
<path stroke="#f20" d="M38 4h1m135 0h1m-132 3h1m111 1h1m-133 6h1m68 0h1m37 2h1m-100 3h1"/>
<path stroke="#d00" d="M121 0h1m-61 1h1m-34 3h1m145 1h1m-171 5h1m42 3h1m79 1h1m28 2h1m-148 1h1m30 0h1m13 2h1m56 1h1m35 2h1"/>
<path stroke="#900" d="M55 0h1m42 1h1m53 1h1m6 1h1m-10 1h1m-22 1h1m-97 1h1m73 1h1m-38 1h1m17 2h1m13 0h1m-12 1h1m-62 2h1m27 3h1m104 0h1m-33 1h1m-57 5h1"/>
</g></pattern>
<pattern id="nA0" href="#nA" x="0" y="0"/>
<pattern id="nB0" href="#nB" x="0" y="0"/>
<pattern id="nC0" href="#nC" x="0" y="0"/>
<pattern id="nA1" href="#nA" x="37" y="13"/>
<pattern id="nB1" href="#nB" x="101" y="17"/>
<pattern id="nC1" href="#nC" x="71" y="5"/>
<pattern id="nA2" href="#nA" x="91" y="29"/>
<pattern id="nB2" href="#nB" x="55" y="40"/>
<pattern id="nC2" href="#nC" x="33" y="11"/>
<pattern id="nA3" href="#nA" x="140" y="7"/>
<pattern id="nB3" href="#nB" x="19" y="31"/>
<pattern id="nC3" href="#nC" x="119" y="17"/>
<pattern id="sA_1_2" href="#nA" patternTransform="scale(1,2)"/>
<pattern id="sB_1_2" href="#nB" patternTransform="scale(1,2)"/>
<pattern id="sA_1_3" href="#nA" patternTransform="scale(1,3)"/>
<pattern id="sB_1_3" href="#nB" patternTransform="scale(1,3)"/>
<pattern id="sA_2_2" href="#nA" patternTransform="scale(2,2)"/>
<pattern id="sB_2_2" href="#nB" patternTransform="scale(2,2)"/>
<pattern id="sA_3_1" href="#nA" patternTransform="scale(3,1)"/>
<pattern id="sB_3_1" href="#nB" patternTransform="scale(3,1)"/>
<pattern id="sA_4_1" href="#nA" patternTransform="scale(4,1)"/>
<pattern id="sB_4_1" href="#nB" patternTransform="scale(4,1)"/>
<clipPath id="cp"><rect x="0" y="81" width="176" height="639"/></clipPath>
</defs>
<text x="525.2" y="26" font-size="12" textLength="128.5" lengthAdjust="spacingAndGlyphs">2019-08-08 0.0-24.0</text>
<g transform="translate(132,0)" shape-rendering="crispEdges" clip-path="url(#cp)">
<rect x="0" y="81" width="176" height="639" fill="url(#nA0)"/>
<rect x="0" y="81" width="176" height="639" fill="url(#nB0)"/>
<linearGradient id="g1" gradientUnits="userSpaceOnUse" x1="0" x2="176"><stop offset="0.000" stop-color="#40e0ff"/><stop offset="0.170" stop-color="#00a0ff"/><stop offset="0.398" stop-color="#0050ff"/><stop offset="0.568" stop-color="#0030ff"/></linearGradient><rect x="0" y="147" width="116" height="1" fill="url(#g1)"/><rect x="78" y="147" width="28" height="1" fill="url(#nC0)"/><rect x="106" y="147" width="10" height="1" fill="url(#nB0)"/>
<linearGradient id="g2" gradientUnits="userSpaceOnUse" x1="0" x2="176"><stop offset="0.000" stop-color="#d0f030"/><stop offset="0.227" stop-color="#60ffa0"/><stop offset="0.568" stop-color="#20d0ff"/></linearGradient><rect x="0" y="148" width="116" height="1" fill="url(#g2)"/><rect x="78" y="148" width="28" height="1" fill="url(#nC0)"/><rect x="106" y="148" width="10" height="1" fill="url(#nB0)"/>
<linearGradient id="g3" gradientUnits="userSpaceOnUse" x1="0" x2="176"><stop offset="0.000" stop-color="#fff020"/><stop offset="0.284" stop-color="#e0f040"/><stop offset="0.568" stop-color="#80ff80"/></linearGradient><rect x="0" y="181" width="118" height="1" fill="url(#g3)"/><rect x="80" y="181" width="28" height="1" fill="url(#nC0)"/><rect x="108" y="181" width="10" height="1" fill="url(#nB0)"/>
<linearGradient id="g4" gradientUnits="userSpaceOnUse" x1="0" x2="176"><stop offset="0.000" stop-color="#ff6000"/><stop offset="0.227" stop-color="#ffa000"/><stop offset="0.455" stop-color="#ffe000"/><stop offset="0.568" stop-color="#c0ff40"/></linearGradient><rect x="0" y="182" width="118" height="1" fill="url(#g4)"/><rect x="80" y="182" width="28" height="1" fill="url(#nC0)"/><rect x="108" y="182" width="10" height="1" fill="url(#nB0)"/>
<linearGradient id="g5" gradientUnits="userSpaceOnUse" x1="0" x2="176"><stop offset="0.000" stop-color="#ff1000"/><stop offset="0.227" stop-color="#ff4000"/><stop offset="0.398" stop-color="#ff9000"/><stop offset="0.511" stop-color="#ffe000"/><stop offset="0.591" stop-color="#b0ff50"/></linearGradient><rect x="0" y="188" width="108" height="1" fill="url(#g5)"/><rect x="72" y="188" width="28" height="1" fill="url(#nC0)"/><rect x="100" y="188" width="8" height="1" fill="url(#nB0)"/>
<linearGradient id="g6" gradientUnits="userSpaceOnUse" x1="0" x2="176"><stop offset="0.000" stop-color="#0000f0"/><stop offset="0.170" stop-color="#0000c0"/><stop offset="0.193" stop-color="#a00000"/><stop offset="0.216" stop-color="#0000a0"/><stop offset="0.239" stop-color="#c00000"/><stop offset="0.267" stop-color="#000090"/><stop offset="0.290" stop-color="#e00000"/><stop offset="0.364" stop-color="#ff6000"/><stop offset="0.483" stop-color="#ffe000"/><stop offset="0.591" stop-color="#40ffc0"/></linearGradient><rect x="0" y="189" width="108" height="1" fill="url(#g6)"/><rect x="72" y="189" width="28" height="1" fill="url(#nC0)"/><rect x="100" y="189" width="8" height="1" fill="url(#nB0)"/>
<linearGradient id="g7" gradientUnits="userSpaceOnUse" x1="0" x2="176"><stop offset="0.000" stop-color="#ff8000"/><stop offset="0.227" stop-color="#ffc000"/><stop offset="0.398" stop-color="#e0f020"/><stop offset="0.591" stop-color="#40ffc0"/></linearGradient><rect x="0" y="190" width="108" height="1" fill="url(#g7)"/><rect x="72" y="190" width="28" height="1" fill="url(#nC0)"/><rect x="100" y="190" width="8" height="1" fill="url(#nB0)"/>
<linearGradient id="g8" gradientUnits="userSpaceOnUse" x1="0" x2="176"><stop offset="0.000" stop-color="#20e0ff"/><stop offset="0.227" stop-color="#00a0ff"/><stop offset="0.398" stop-color="#0050ff"/><stop offset="0.591" stop-color="#0020ff"/></linearGradient><rect x="0" y="191" width="108" height="1" fill="url(#g8)"/><rect x="72" y="191" width="28" height="1" fill="url(#nC0)"/><rect x="100" y="191" width="8" height="1" fill="url(#nB0)"/>
<linearGradient id="g9" gradientUnits="userSpaceOnUse" x1="0" x2="176"><stop offset="0.000" stop-color="#40ffc0"/><stop offset="0.227" stop-color="#00d8ff"/><stop offset="0.398" stop-color="#0060ff"/><stop offset="0.591" stop-color="#0010e0"/></linearGradient><rect x="0" y="192" width="108" height="1" fill="url(#g9)"/><rect x="72" y="192" width="28" height="1" fill="url(#nC0)"/><rect x="100" y="192" width="8" height="1" fill="url(#nB0)"/>
<linearGradient id="g10" gradientUnits="userSpaceOnUse" x1="0" x2="176"><stop offset="0.000" stop-color="#d0f030"/><stop offset="0.199" stop-color="#80ff80"/><stop offset="0.364" stop-color="#20e0f0"/><stop offset="0.591" stop-color="#0070ff"/></linearGradient><rect x="0" y="193" width="108" height="1" fill="url(#g10)"/><rect x="72" y="193" width="28" height="1" fill="url(#nC0)"/><rect x="100" y="193" width="8" height="1" fill="url(#nB0)"/>
<linearGradient id="g11" gradientUnits="userSpaceOnUse" x1="0" x2="176"><stop offset="0.000" stop-color="#c8f838"/><stop offset="0.114" stop-color="#70ff90"/><stop offset="0.256" stop-color="#d0f030"/><stop offset="0.398" stop-color="#40ffd0"/><stop offset="0.568" stop-color="#30e8ff"/><stop offset="0.852" stop-color="#30e0ff"/></linearGradient><rect x="0" y="322" width="160" height="1" fill="url(#g11)"/><rect x="112" y="322" width="28" height="1" fill="url(#nC0)"/><rect x="140" y="322" width="20" height="1" fill="url(#nB0)"/>
<linearGradient id="g12" gradientUnits="userSpaceOnUse" x1="0" x2="176"><stop offset="0.000" stop-color="#f0f020"/><stop offset="0.142" stop-color="#a0ff60"/><stop offset="0.273" stop-color="#f0e820"/><stop offset="0.426" stop-color="#50ffe0"/><stop offset="0.568" stop-color="#40f0ff"/><stop offset="0.852" stop-color="#40e0ff"/></linearGradient><rect x="0" y="324" width="150" height="1" fill="url(#g12)"/><rect x="102" y="324" width="28" height="1" fill="url(#nC0)"/><rect x="130" y="324" width="20" height="1" fill="url(#nB0)"/>
<pattern id="t1" width="176" height="10" patternUnits="userSpaceOnUse" y="225"><g transform="translate(0,.5)" fill="none">
<path stroke="#009" d="M25 0h1m2 0h1m128 0h1m-5 1h1m-145 1h1m99 0h1m11 0h1m-87 2h1m66 0h1m9 0h1m59 0h1m-64 1h1m54 0h1m-8 1h1m-51 1h1m-97 1h1m31 0h1m11 0h1m48 0h1m64 0h1"/>
<path stroke="#00d" d="M14 0h1m14 0h1m9 0h1m16 0h1m2 0h1m5 0h1m29 0h1m43 0h1m6 0h1m-141 1h1m25 0h1m6 0h1m47 0h1m5 0h1m15 0h1m-78 1h1m24 0h1m6 0h1m51 0h1m43 0h1m-154 1h1m28 0h1m12 0h1m25 0h1m22 0h1m13 0h1m25 0h1m-136 1h1m18 0h1m1 0h1m46 0h1m10 0h1m6 0h1m48 0h1m-113 1h1m53 0h1m43 0h1m12 0h1m1 0h1m-119 1h1m7 0h1m15 0h1m-36 1h1m53 0h1m21 0h1m1 0h1m71 0h1m-151 1h1m23 0h1m1 0h1m115 0h1m20 0h1m-89 1h1m30 0h1m42 0h1m8 0h1"/>
<path stroke="#00f" d="M5 0h1m2 0h1m39 0h1m13 0h1m18 0h2m36 0h1m1 0h2m5 0h1m20 0h1m10 0h1m-154 1h1m22 0h1m29 0h1m2 0h1m1 0h1m6 0h1m25 0h1m39 0h1m26 0h1m-152 1h1m56 0h1m3 0h1m17 0h1m23 0h1m32 0h1m-142 1h1m17 0h1m1 0h1m27 0h1m1 0h1m14 0h1m2 0h1m17 0h1m33 1h1m3 0h1m36 0h1m2 0h1m-168 1h1m1 0h1m34 0h1m15 0h1m4 0h1m22 0h1m8 0h1m10 0h1m36 0h1m6 0h1m7 0h1m9 0h1m-147 1h1m14 0h1m9 0h1m1 0h1m11 0h1m10 0h2m21 0h2m18 0h1m15 0h1m11 0h1m19 0h1m-116 1h1m66 0h1m1 0h1m8 0h1m1 0h1m43 0h1m-167 1h1m8 0h1m3 0h1m4 0h1m131 0h1m-110 1h1m9 0h1m37 0h1m6 0h1m46 0h1m14 0h1"/>
<path stroke="#03f" d="M40 0h1m32 0h1m9 0h1m-67 1h1m33 0h1m17 0h1m1 0h1m10 0h1m47 0h1m9 0h1m6 0h1m1 0h1m7 0h1m-143 1h1m23 0h1m10 0h1m36 0h1m34 0h1m18 0h1m19 0h1m5 0h1m3 0h1m2 0h1m-131 1h1m7 0h1m23 0h1m7 0h2m14 0h1m19 0h1m9 0h1m9 0h1m15 0h2m9 0h1m6 0h1m-170 1h1m8 0h1m29 0h1m20 0h1m43 0h1m6 0h1m14 0h1m9 0h1m7 0h1m4 0h1m16 0h1m-160 1h1m16 0h2m18 0h1m3 0h1m8 0h1m5 0h1m23 0h1m8 0h1m21 0h1m38 0h1m-159 1h1m4 0h1m41 0h1m2 0h1m5 0h1m22 0h1m10 0h2m47 0h1m29 0h1m-147 1h1m19 0h1m5 0h1m58 0h1m31 0h1m3 0h1m16 0h1m2 0h1m1 0h1m-169 1h1m18 0h1m1 0h1m2 0h1m12 0h1m8 0h1m2 0h1m20 0h1m11 0h1m7 0h2m6 0h1m5 0h1m33 0h1m5 0h1m12 0h1m2 0h1m12 0h1m-173 1h1m7 0h1m1 0h1m10 0h2m8 0h1m5 0h1m4 0h1m32 0h2m7 0h1m10 0h1m40 0h1m4 0h1m4 0h1m11 0h1"/>
<path stroke="#06f" d="M10 0h1m2 0h1m6 0h1m2 0h1m3 0h1m56 0h1m5 0h1m2 0h1m12 0h1m40 0h1m13 0h1m5 0h1m-144 1h1m9 0h1m20 0h1m10 0h1m14 0h1m9 0h1m24 0h1m3 0h1m5 0h1m25 0h1m3 0h1m4 0h1m1 0h1m2 0h3m-139 1h1m9 0h1m27 0h1m3 0h1m10 0h1m2 0h1m33 0h1m4 0h1m3 0h1m29 0h1m15 0h1m-175 1h1m6 0h1m8 0h1m19 0h1m1 0h1m43 0h1m33 0h1m43 0h1m-161 1h1m5 0h1m18 0h1m9 0h1m19 0h1m1 0h1m7 0h1m23 0h2m2 0h3m4 0h1m13 0h1m-106 1h1m2 0h1m6 0h1m11 0h1m14 0h1m2 0h1m16 0h1m17 0h1m22 0h1m2 0h1m17 0h1m1 0h1m3 0h1m29 0h1m-147 1h1m32 0h1m55 0h1m5 0h1m22 0h1m1 0h1m35 0h1m-172 1h1m51 0h1m3 0h1m4 0h1m18 0h1m9 0h1m2 0h1m3 0h1m6 0h1m11 0h1m14 0h1m14 0h1m3 0h1m-143 1h2m27 0h1m7 0h1m23 0h1m1 0h1m6 0h1m12 0h2m30 0h1m5 0h1m11 0h1m21 0h1m-160 1h1m50 0h1m20 0h1m20 0h1m36 0h1m2 0h1m13 0h1m6 0h2m11 0h1"/>
<path stroke="#09f" d="M6 0h1m4 0h1m18 0h1m1 0h1m11 0h1m23 0h1m9 0h1m9 0h1m2 0h1m8 0h1m7 0h1m2 0h2m3 0h2m15 0h1m6 0h1m28 0h1m-168 1h2m7 0h1m14 0h2m21 0h1m24 0h1m24 0h1m10 0h1m12 0h1m13 0h1m16 0h1m-145 1h1m30 0h1m24 0h1m23 0h1m19 0h1m-100 1h1m1 0h1m32 0h1m33 0h1m23 0h1m19 0h1m8 0h1m9 0h1m8 0h1m-135 1h1m15 0h1m32 0h1m15 0h1m1 0h2m-85 1h1m8 0h1m9 0h1m6 0h1m22 0h1m30 0h2m4 0h1m15 0h1m12 0h1m32 0h1m6 0h1m-122 1h1m40 0h1m13 0h1m39 0h1m13 0h1m17 0h1m-146 1h1m3 0h1m53 0h1m8 0h1m3 0h1m8 0h1m16 0h1m10 0h1m4 0h1m19 0h1m17 0h1m-120 1h1m14 0h1m10 0h1m14 0h1m24 0h1m8 0h1m25 0h1m14 0h1m-155 1h1m1 0h1m12 0h1m4 0h1m8 0h1m19 0h1m10 0h1m2 0h1m19 0h1m13 0h1m5 0h1m2 0h1m5 0h2m3 0h1m26 0h1m9 0h1"/>
<path stroke="#0cf" d="M9 0h1m50 0h1m48 0h1m10 0h1m32 0h1m12 0h1m6 0h1m-170 1h1m63 0h1m8 0h1m37 0h1m12 0h1m2 0h1m2 0h1m23 0h1m10 0h1m-169 1h1m3 0h1m40 0h1m4 0h1m17 0h1m12 0h1m19 0h1m63 0h1m-157 1h1m30 0h1m72 0h1m39 0h2m3 0h2m2 0h1m-158 1h1m16 0h1m35 0h1m46 0h1m13 0h1m9 0h1m4 0h1m1 0h1m14 0h1m2 0h1m-139 1h1m18 0h1m78 0h1m3 0h1m1 0h2m15 0h1m-136 1h1m6 0h1m26 0h1m4 0h1m6 0h1m11 0h1m7 0h1m9 0h1m19 0h1m6 0h1m20 0h1m6 0h1m-124 1h1m8 0h1m8 0h1m28 0h1m4 0h1m3 0h1m5 0h1m1 0h1m52 0h1m8 0h1m3 0h1m7 0h1m9 0h1m-128 1h1m79 0h1m1 0h1m3 0h1m16 0h1m35 0h1m-91 1h1m8 0h1m16 0h2m22 0h1"/>
<path stroke="#1fd" d="M36 0h1m121 0h1m9 0h1m-93 1h1m2 0h1m5 0h1m19 0h1m5 0h1m7 0h1m-84 1h1m71 0h1m39 0h1m-109 1h1m96 0h1m-84 1h1m107 0h1m-20 1h1m-143 1h1m32 0h1m23 0h1m5 0h2m36 0h1m6 0h1m37 0h1m-108 1h1m58 0h1m13 0h1m18 0h1m30 0h1m-120 1h1m7 0h1m16 0h1m59 0h1m2 0h1m32 0h1m-143 1h1m58 0h1m36 0h1m26 0h1"/>
<path stroke="#4fb" d="M54 0h1m6 0h1m15 0h1m57 0h1m-131 1h1m23 0h1m73 1h1m24 0h1m5 0h2m-81 1h1m26 0h1m-72 1h1m45 0h1m17 0h1m42 0h1m-40 1h1m32 0h1m5 0h1m-49 2h1m84 0h1m-111 1h1m40 0h1m87 1h1"/>
<path stroke="#6f8" d="M1 0h1m5 0h1m6 1h1m117 0h1m-126 1h1m138 3h1m-123 1h1m32 1h1m81 0h1m-29 2h1"/>
<path stroke="#8f6" d="M150 1h1m-96 4h1"/>
<path stroke="#df1" d="M44 6h1"/>
<path stroke="#d00" d="M63 0h1m111 1h1m-71 2h1m26 1h1m17 0h1m-15 2h1m-24 2h1"/>
<path stroke="#900" d="M96 0h1m49 1h1m-10 1h1m6 0h1m-3 5h1m13 1h1m-37 1h1"/>
</g></pattern><rect x="0" y="225" width="176" height="10" fill="url(#t1)"/>
<pattern id="t2" width="176" height="4" patternUnits="userSpaceOnUse" y="238"><g transform="translate(0,.5)" fill="none">
<path stroke="#00f" d="M122 2h1"/>
<path stroke="#03f" d="M2 1h1m32 0h1m131 0h1m-27 1h1"/>
<path stroke="#06f" d="M20 0h1m32 0h1m9 0h1m13 0h1m67 0h1m-128 1h1m1 0h1m122 0h1m-119 1h1m38 0h1m-60 1h1m9 0h1m1 0h1m18 0h1m1 0h1m76 0h1"/>
<path stroke="#09f" d="M10 0h1m15 0h1m38 0h1m3 0h1m26 0h1m9 0h1m22 0h2m-128 1h1m55 0h1m9 0h1m15 0h1m-81 1h1m56 0h1m4 0h1m15 0h1m50 0h1m-93 1h1m1 0h1m7 0h1m5 0h1m17 0h1m44 0h1m4 0h1m12 0h1"/>
<path stroke="#0cf" d="M59 0h1m1 0h1m4 0h1m17 0h1m13 0h1m35 0h1m13 0h1m-135 1h1m12 0h1m4 0h1m16 0h2m5 0h1m41 0h1m6 0h1m-94 1h2m9 0h1m11 0h1m11 0h1m13 0h1m58 0h2m-113 1h1m25 0h1m17 0h2m11 0h1m2 0h1m10 0h1m9 0h1m15 0h1m16 0h1m37 0h1m3 0h1"/>
<path stroke="#1fd" d="M0 0h1m2 0h1m1 0h1m10 0h2m44 0h1m8 0h1m13 0h1m21 0h1m8 0h1m37 0h1m-142 1h1m2 0h1m6 0h1m13 0h1m1 0h1m4 0h1m2 0h1m4 0h1m22 0h1m15 0h1m11 0h1m43 0h1m6 0h1m11 0h1m-160 1h1m14 0h1m29 0h1m50 0h1m11 0h1m19 0h1m10 0h1m22 0h1m-160 1h1m2 0h1m49 0h1m24 0h1m14 0h1m14 0h1m6 0h1m7 0h1m4 0h1"/>
<path stroke="#4fb" d="M1 0h1m9 0h1m9 0h1m35 0h1m9 0h1m2 0h1m7 0h1m14 0h1m19 0h1m12 0h2m13 0h1m-121 1h2m30 0h2m27 0h1m11 0h1m5 0h1m25 0h1m9 0h1m23 0h1m4 0h1m-147 1h1m14 0h1m23 0h2m46 0h1m19 0h1m13 0h1m11 0h1m-146 1h1m41 0h1m14 0h1m20 0h1m19 0h1m5 0h1m36 0h1"/>
<path stroke="#6f8" d="M25 0h1m78 0h1m67 0h1m-149 1h1m9 0h1m5 0h1m20 0h1m21 0h1m36 0h1m20 0h1m-136 1h1m21 0h1m38 1h1"/>
<path stroke="#8f6" d="M24 2h1m100 0h1m21 0h1m-146 1h1m42 0h1"/>
<path stroke="#bf4" d="M63 1h1m-43 1h1m48 1h1"/>
</g></pattern><rect x="0" y="238" width="176" height="4" fill="url(#t2)"/>
<pattern id="t3" width="176" height="6" patternUnits="userSpaceOnUse" y="243"><g transform="translate(0,.5)" fill="none">
<path stroke="#03f" d="M119 2h1"/>
<path stroke="#06f" d="M98 0h1m-47 5h1"/>
<path stroke="#09f" d="M73 0h1m98 0h1m-128 1h1m53 0h1m-95 2h1m19 0h1m21 0h1m-41 1h1m35 1h1"/>
<path stroke="#0cf" d="M3 0h1m4 0h1m23 0h1m69 0h1m-73 1h1m99 0h1m-106 1h1m19 0h2m-29 1h1m77 1h1m63 0h1m-149 1h1m44 0h1m16 0h1m39 0h2m29 0h1"/>
<path stroke="#1fd" d="M11 0h1m145 0h1m-134 1h1m7 0h1m21 0h1m2 0h1m47 0h1m6 0h1m-86 1h1m4 0h1m25 0h1m13 0h1m50 0h1m1 0h1m-100 1h1m37 0h1m19 0h1m20 0h1m3 0h1m41 0h1m9 0h1m-162 1h1m11 0h1m8 0h1m53 0h1m45 0h1m2 0h1m-99 1h1m6 0h1m19 0h1m10 0h1m11 0h1m64 0h1"/>
<path stroke="#4fb" d="M10 0h1m13 0h1m69 0h1m27 0h1m6 0h1m39 0h1m-170 1h1m4 0h1m1 0h1m6 0h1m16 0h1m1 0h1m4 0h1m3 0h1m32 0h1m-66 1h1m11 0h1m14 0h1m4 0h1m44 0h1m30 0h1m3 0h1m-120 1h1m15 0h1m26 0h1m16 0h1m6 0h1m7 0h2m13 0h1m36 0h1m-123 1h1m5 0h1m2 0h1m10 0h1m4 0h1m76 0h1m4 0h1m33 0h1m-148 1h2m4 0h1m21 0h1m31 0h1m2 0h1m1 0h1m4 0h1m28 0h1m19 0h1m4 0h1"/>
<path stroke="#6f8" d="M5 0h1m7 0h1m5 0h1m10 0h2m4 0h1m10 0h1m5 0h1m11 0h1m10 0h1m16 0h1m1 0h1m14 0h1m36 0h1m-104 1h1m4 0h1m79 0h1m39 0h1m-165 1h1m13 0h1m30 0h1m8 0h1m8 0h2m57 0h1m1 0h1m-115 1h1m7 0h1m19 0h1m23 0h1m5 0h1m20 0h1m50 0h2m-138 1h1m24 0h1m12 0h2m15 0h1m5 0h1m3 0h1m24 0h1m-87 1h1m18 0h1m26 0h1m49 0h1"/>
<path stroke="#8f6" d="M42 0h1m5 0h1m9 0h1m8 0h1m4 0h1m8 0h1m56 0h1m-96 1h1m6 0h1m11 0h1m30 0h1m15 0h1m8 0h1m9 0h1m10 0h1m30 0h1m-169 1h1m1 0h1m11 0h1m12 0h1m3 0h2m40 0h1m44 0h1m3 0h1m7 0h1m25 0h1m-150 1h1m28 0h1m9 0h1m11 0h1m71 0h1m24 0h1m-157 1h1m14 0h1m7 0h1m15 0h1m2 0h1m9 0h1m25 0h1m8 0h1m2 0h1m65 0h1m7 0h1m-141 1h1m10 0h1m26 0h1m79 0h1"/>
<path stroke="#bf4" d="M1 0h1m14 0h1m43 0h1m17 0h1m8 0h1m28 0h1m13 0h1m17 0h1m-145 1h1m11 0h1m3 0h1m32 0h1m25 0h1m16 0h1m53 0h1m-133 1h1m12 0h1m7 0h1m34 0h1m15 0h1m4 0h1m4 0h1m1 0h1m9 0h1m8 0h1m31 0h1m11 0h1m-162 1h1m8 0h1m71 0h1m5 0h1m16 0h1m-96 1h1m117 0h1m-121 1h1m5 0h1m19 0h1m9 0h1m10 0h1m49 0h1m30 0h1m27 0h1"/>
<path stroke="#df1" d="M9 0h1m24 0h1m9 0h1m32 0h1m-70 1h1m59 0h1m2 0h1m6 0h1m62 0h1m13 0h1m5 0h1m-153 1h1m47 0h1m4 0h1m47 0h1m15 0h1m28 0h1m-146 1h1m17 0h1m32 0h1m79 0h1m-96 1h1m11 0h1m3 0h1m13 0h1m23 0h1m-87 1h1m20 0h1m50 0h1m38 0h1"/>
<path stroke="#fd0" d="M64 0h1m-53 1h1m33 0h1m26 0h1m-62 1h1m79 0h1m1 0h1m21 0h1m-97 1h1m9 0h1m58 0h1m34 0h1m-98 1h1m1 0h1m5 0h1m133 0h1m-166 1h1m127 0h1"/>
<path stroke="#fa0" d="M126 1h1m-99 1h1m7 0h1m33 0h1m-30 1h1m12 0h1m10 1h1m-15 1h1m58 0h1m42 0h1"/>
<path stroke="#f80" d="M25 0h1m34 1h1m-47 1h1m136 3h1"/>
<path stroke="#f50" d="M39 3h1"/>
</g></pattern><rect x="0" y="243" width="176" height="6" fill="url(#t3)"/>
<pattern id="t4" width="176" height="8" patternUnits="userSpaceOnUse" y="250"><g transform="translate(0,.5)" fill="none">
<path stroke="#009" d="M9 7h1m32 0h1"/>
<path stroke="#0cf" d="M117 4h1"/>
<path stroke="#4fb" d="M77 3h1m27 2h1m-79 1h1"/>
<path stroke="#6f8" d="M11 1h1m-3 3h1m-7 1h1m18 1h1"/>
<path stroke="#8f6" d="M38 0h1m30 0h1m-58 1h1m23 0h1m49 0h1m2 0h1m3 1h1m-23 1h1m-70 1h1m88 1h1m-52 1h1"/>
<path stroke="#bf4" d="M34 0h1m1 0h1m30 0h1m-46 1h1m38 0h1m-59 1h3m3 0h1m-4 1h1m44 0h1m33 0h1m-69 1h1m6 0h1m13 0h1m-25 1h1m26 0h1m-33 1h1m1 0h1m14 0h1m33 0h1m21 0h1m7 0h1m-69 1h1m29 0h1m26 0h1m19 0h1"/>
<path stroke="#df1" d="M6 0h1m10 0h1m52 0h1m2 0h1m26 0h1m-76 1h1m5 0h1m3 0h1m6 0h1m4 0h1m24 0h1m4 0h1m35 0h1m-84 1h1m52 0h1m-75 1h1m63 0h1m23 0h1m-26 1h1m5 0h1m1 0h1m25 0h1m-101 1h1m15 0h1m4 0h1m52 0h1m-3 1h1m-64 1h1m18 0h1m29 0h1"/>
<path stroke="#fd0" d="M3 0h1m8 0h1m9 0h1m10 0h1m58 0h1m5 0h1m7 0h1m-105 1h1m20 0h1m5 0h1m29 0h1m42 0h1m-102 1h1m26 0h1m6 0h1m17 0h1m17 0h1m-69 1h1m12 0h1m2 0h1m4 0h1m15 0h2m54 0h1m-78 1h1m1 0h1m11 0h1m2 0h1m4 0h1m3 0h1m4 0h1m3 0h1m-36 1h1m14 0h1m3 0h1m-6 1h3m13 0h1m23 0h1m-47 1h1m10 0h1m20 0h1m3 0h1m1 0h1"/>
<path stroke="#fa0" d="M15 0h1m3 0h1m12 0h1m22 0h1m1 0h1m16 0h1m3 0h1m17 0h1m-78 1h1m12 0h1m4 0h1m2 0h1m8 0h1m1 0h1m5 0h1m23 0h1m-71 1h1m2 0h1m7 0h1m40 0h1m1 0h1m19 0h1m-58 1h1m14 0h2m13 0h1m39 0h1m5 0h1m-95 1h1m1 0h1m5 0h1m13 0h1m4 0h1m8 0h1m9 0h1m16 0h1m-73 1h1m18 0h1m3 0h1m4 0h1m31 0h1m52 0h1m-115 1h1m11 0h1m1 0h2m8 0h1m17 0h1m24 0h1m-68 1h1m1 0h1m18 0h1m19 0h1m2 0h1m42 0h1m1 0h1"/>
<path stroke="#f80" d="M8 0h2m16 0h1m39 0h1m-67 1h1m20 0h1m46 0h1m15 0h1m20 0h1m-54 1h1m2 0h1m12 0h2m-66 1h1m3 0h1m1 0h1m-4 1h2m5 0h1m44 0h1m2 0h1m12 0h1m18 0h1m-90 1h1m1 0h1m2 0h1m29 0h1m12 0h1m48 0h1m-95 1h1m47 0h1m17 0h1m10 0h1m3 0h1m-9 1h1"/>
<path stroke="#f50" d="M25 0h1m11 0h1m7 0h1m-19 1h1m5 0h1m-26 1h1m1 0h1m13 0h1m26 0h1m-47 1h1m8 0h1m27 0h1m70 0h1m-33 1h1m9 0h1m4 0h1m-65 1h1m19 0h1m7 0h1m-18 1h2m-33 1h1m5 0h1m1 0h1m24 0h1"/>
<path stroke="#f20" d="M54 0h1m24 0h1m-56 1h1m35 0h1m37 0h1m-58 1h1m-21 1h1m33 1h1m11 0h1m-35 1h1m36 0h1m-40 1h1m33 0h1m-55 1h1m19 0h1m8 0h1"/>
<path stroke="#d00" d="M6 1h1m27 0h1m8 0h1m-26 1h1m12 0h1m-1 3h1m35 2h1"/>
<path stroke="#900" d="M24 0h1m18 5h1m20 1h1m-62 1h1m15 0h1"/>
</g></pattern><rect x="0" y="250" width="125" height="8" fill="url(#t4)"/>
<pattern id="t5" width="176" height="2" patternUnits="userSpaceOnUse" y="261"><g transform="translate(0,.5)" fill="none">
<path stroke="#009" d="M38 1h1m6 0h1m58 0h1"/>
<path stroke="#00d" d="M54 0h1m44 0h1m37 0h1m20 0h1m1 0h1m-140 1h1m110 0h1m26 0h1"/>
<path stroke="#00f" d="M4 0h1m2 0h1m30 0h1m5 0h1m7 0h1m6 0h1m1 0h1m9 0h1m57 0h1m18 0h1m13 0h1m-152 1h1m15 0h1m9 0h1m25 0h1m13 0h1m4 0h1m13 0h1m9 0h1m5 0h1m2 0h1m14 0h1m6 0h1"/>
<path stroke="#03f" d="M8 0h1m27 0h2m42 0h1m2 0h2m8 0h1m3 0h1m5 0h1m3 0h1m16 0h1m5 0h1m1 0h1m1 0h2m7 0h1m3 0h1m3 0h1m16 0h1m5 0h1m-171 1h2m1 0h1m2 0h1m8 0h1m34 0h1m13 0h1m2 0h1m2 0h1m1 0h1m4 0h1m34 0h2m2 0h2m13 0h2m11 0h1m5 0h1m3 0h1m4 0h1m5 0h1"/>
<path stroke="#06f" d="M6 0h1m18 0h1m20 0h2m2 0h1m11 0h1m1 0h1m16 0h1m6 0h1m9 0h1m12 0h1m6 0h1m6 0h1m18 0h2m6 0h1m2 0h1m-153 1h1m13 0h1m16 0h1m16 0h1m26 0h1m16 0h1m5 0h2m5 0h1m14 0h1m19 0h1m1 0h1m18 0h2"/>
<path stroke="#09f" d="M1 0h1m1 0h1m1 0h1m3 0h1m9 0h1m25 0h1m12 0h1m1 0h1m4 0h1m9 0h1m6 0h1m9 0h1m3 0h1m3 0h1m15 0h1m19 0h1m27 0h1m7 0h1m-167 1h1m1 0h1m7 0h1m11 0h1m6 0h1m5 0h1m10 0h1m34 0h1m4 0h1m31 0h1m14 0h1m1 0h1m2 0h1m1 0h1m3 0h1m9 0h2m6 0h1"/>
<path stroke="#0cf" d="M16 0h1m73 0h1m68 0h1m-121 1h1m43 0h1m63 0h1"/>
<path stroke="#1fd" d="M11 0h1m39 0h1m71 0h1"/>
<path stroke="#4fb" d="M146 0h1m4 1h1"/>
<path stroke="#900" d="M42 1h1m24 0h1"/>
</g></pattern><rect x="0" y="261" width="176" height="2" fill="url(#t5)"/>
<pattern id="t6" width="176" height="4" patternUnits="userSpaceOnUse" y="276"><g transform="translate(0,.5)" fill="none">
<path stroke="#00d" d="M2 1h1m112 1h1"/>
<path stroke="#00f" d="M47 1h1"/>
<path stroke="#03f" d="M13 0h1m27 0h1m35 0h1m6 0h1m52 0h1m3 0h1m-135 1h1m45 0h1m14 0h1m6 0h1m25 0h1m19 0h1m-82 1h1m76 0h1m16 0h1m-132 1h1m29 0h1m10 0h2m23 0h1m56 0h2m15 0h1"/>
<path stroke="#06f" d="M17 0h1m4 0h2m1 0h2m23 0h1m4 0h1m5 0h1m1 0h1m9 0h1m4 0h1m28 0h2m11 0h1m7 0h1m4 0h1m39 0h1m-166 1h1m8 0h1m1 0h1m5 0h1m13 0h1m38 0h1m6 0h1m7 0h1m20 0h1m-112 1h1m15 0h1m28 0h1m1 0h1m14 0h1m6 0h1m3 0h1m4 0h1m5 0h1m17 0h1m18 0h1m12 0h1m-132 1h1m25 0h1m5 0h1m8 0h1m12 0h1m10 0h1m13 0h1m23 0h1m23 0h1m27 0h1m4 0h2m3 0h1"/>
<path stroke="#09f" d="M7 0h1m3 0h2m2 0h1m5 0h1m10 0h1m23 0h1m1 0h1m36 0h1m10 0h1m6 0h1m4 0h1m16 0h1m3 0h1m21 0h1m7 0h2m-147 1h1m5 0h1m38 0h1m1 0h1m2 0h1m6 0h1m1 0h1m3 0h1m9 0h1m8 0h1m28 0h1m6 0h1m11 0h1m11 0h1m-166 1h1m7 0h1m1 0h1m2 0h1m2 0h1m4 0h1m11 0h1m6 0h1m3 0h1m13 0h1m29 0h1m12 0h1m1 0h1m2 0h1m22 0h1m1 0h1m5 0h1m1 0h1m16 0h2m-151 1h1m4 0h1m4 0h1m4 0h1m6 0h1m4 0h1m1 0h1m3 0h1m25 0h1m16 0h1m20 0h1m1 0h1m6 0h1m5 0h1m3 0h1m11 0h1m12 0h1m15 0h1m6 0h1"/>
<path stroke="#0cf" d="M19 0h1m14 0h2m2 0h1m14 0h1m3 0h1m24 0h1m13 0h1m4 0h2m21 0h1m23 0h1m4 0h1m-151 1h2m4 0h1m3 0h2m5 0h1m17 0h1m2 0h2m5 0h1m6 0h1m2 0h1m11 0h1m6 0h1m12 0h1m5 0h1m7 0h1m15 0h1m1 0h1m4 0h1m4 0h1m34 0h1m-122 1h2m1 0h1m1 0h1m14 0h1m21 0h1m5 0h1m15 0h1m9 0h1m20 0h2m5 0h1m13 0h1m5 0h1m1 0h1m3 0h1m-168 1h1m1 0h1m5 0h1m15 0h1m8 0h1m1 0h1m5 0h2m3 0h1m2 0h1m6 0h1m10 0h1m7 0h1m7 0h1m2 0h1m57 0h1m2 0h2"/>
<path stroke="#1fd" d="M4 0h1m9 0h1m1 0h1m7 0h1m23 0h1m2 0h1m2 0h1m13 0h1m11 0h1m5 0h1m1 0h3m-90 1h1m9 0h1m6 0h1m10 0h1m27 0h1m1 0h1m20 0h1m13 0h1m8 0h1m36 0h1m3 0h1m23 0h1m-154 1h2m1 0h1m11 0h1m2 0h1m4 0h1m18 0h1m9 0h1m12 0h1m9 0h1m17 0h1m5 0h1m7 0h1m21 0h1m9 0h1m-154 1h1m9 0h1m9 0h1m33 0h1m22 0h2m43 0h1"/>
<path stroke="#4fb" d="M2 0h1m3 0h1m86 0h1m31 0h1m-114 1h1m27 0h1m69 0h1m18 0h1m21 0h1m20 0h1m-169 1h1m19 0h1m4 0h1m7 0h1m4 0h1m30 0h1m11 0h1m5 0h1m-80 1h1m11 0h1m37 0h1m2 0h1m6 0h1m42 0h1m19 0h1m24 0h1"/>
<path stroke="#6f8" d="M59 0h1m56 0h1m46 0h1m-154 1h1m17 0h1m132 1h1m-111 1h1m58 0h1m6 0h1m30 0h1m19 0h1"/>
</g></pattern><rect x="0" y="276" width="176" height="4" fill="url(#t6)"/>
<pattern id="t7" width="176" height="5" patternUnits="userSpaceOnUse" y="281"><g transform="translate(0,.5)" fill="none">
<path stroke="#009" d="M63 0h1m81 0h1m-53 1h1m76 0h1m-96 1h1m-20 1h1m52 1h1"/>
<path stroke="#00d" d="M61 0h2m3 0h1m4 0h1m13 0h1m39 0h1m26 0h1m-138 1h1m4 0h1m14 0h2m16 0h1m9 0h1m21 0h1m2 0h1m16 0h2m21 0h1m21 0h1m10 0h1m-160 1h1m55 0h1m2 0h1m29 0h1m55 0h1m5 0h1m17 0h1m-167 1h1m11 0h1m37 0h1m2 0h1m35 0h1m2 0h1m19 0h1m8 0h1m3 0h1m16 0h1m27 0h1m-156 1h1m4 0h1m7 0h1m9 0h1m22 0h1m2 0h1m46 0h1m13 0h1m19 0h1m13 0h1m4 0h1"/>
<path stroke="#00f" d="M3 0h1m5 0h1m4 0h3m2 0h1m5 0h1m38 0h1m21 0h1m23 0h1m1 0h2m1 0h2m6 0h2m8 0h2m12 0h1m17 0h1m-161 1h1m8 0h1m2 0h1m6 0h1m22 0h1m10 0h1m2 0h1m9 0h1m6 0h1m1 0h1m54 0h1m31 0h1m3 0h1m-165 1h1m6 0h1m2 0h2m15 0h1m6 0h1m1 0h1m1 0h1m4 0h1m2 0h1m8 0h1m7 0h1m15 0h1m7 0h1m17 0h1m5 0h1m39 0h1m-151 1h2m14 0h1m1 0h1m2 0h1m10 0h1m9 0h1m12 0h1m38 0h1m19 0h1m10 0h1m2 0h2m5 0h1m8 0h1m5 0h1m15 0h1m-174 1h1m3 0h1m3 0h1m4 0h1m15 0h1m11 0h1m11 0h1m4 0h1m1 0h1m8 0h1m4 0h1m2 0h1m3 0h1m20 0h1m16 0h2m43 0h1m6 0h1"/>
<path stroke="#03f" d="M0 0h1m5 0h1m3 0h1m2 0h1m12 0h1m9 0h1m2 0h1m4 0h1m2 0h1m9 0h1m11 0h2m6 0h1m11 0h2m8 0h2m2 0h1m15 0h1m8 0h2m1 0h2m11 0h1m5 0h1m3 0h1m5 0h2m9 0h1m2 0h2m-176 1h1m9 0h1m5 0h1m11 0h1m1 0h1m2 0h1m5 0h1m4 0h2m8 0h1m11 0h4m2 0h1m2 0h1m5 0h1m1 0h1m5 0h1m4 0h1m2 0h1m5 0h1m6 0h1m3 0h1m21 0h1m3 0h1m2 0h1m4 0h1m8 0h1m4 0h1m-157 1h1m1 0h2m16 0h1m32 0h1m6 0h1m10 0h1m6 0h2m3 0h1m2 0h1m5 0h1m8 0h1m20 0h1m2 0h1m3 0h1m13 0h1m1 0h1m3 0h1m1 0h1m5 0h2m2 0h1m-168 1h2m2 0h1m6 0h3m5 0h1m2 0h1m10 0h1m1 0h1m7 0h1m2 0h1m12 0h1m6 0h1m4 0h1m41 0h2m5 0h1m10 0h1m3 0h1m2 0h1m17 0h1m2 0h1m8 0h2m-168 1h1m1 0h1m3 0h1m1 0h2m3 0h1m18 0h1m3 0h1m2 0h1m7 0h2m7 0h1m6 0h1m5 0h1m1 0h1m11 0h1m2 0h3m13 0h1m3 0h1m9 0h1m4 0h2m9 0h1m6 0h1m10 0h1m1 0h2m12 0h1"/>
<path stroke="#06f" d="M18 0h1m1 0h1m13 0h1m2 0h1m8 0h1m11 0h1m16 0h2m7 0h1m19 0h1m4 0h1m4 0h1m23 0h1m3 0h1m10 0h1m1 0h1m7 0h1m6 0h1m2 0h1m-173 1h4m13 0h1m2 0h3m5 0h1m8 0h1m2 0h1m14 0h1m5 0h1m19 0h1m7 0h2m7 0h1m2 0h1m14 0h1m3 0h1m8 0h1m16 0h1m3 0h1m11 0h1m1 0h1m6 0h1m-172 1h1m9 0h2m14 0h1m9 0h2m16 0h2m7 0h2m3 0h1m3 0h1m5 0h1m1 0h1m13 0h2m3 0h2m1 0h1m11 0h1m4 0h1m1 0h1m2 0h1m3 0h1m11 0h1m24 0h1m-161 1h2m7 0h1m11 0h1m2 0h1m3 0h1m10 0h1m8 0h1m6 0h1m6 0h2m2 0h2m1 0h2m1 0h1m11 0h1m5 0h1m2 0h1m18 0h1m10 0h1m4 0h1m10 0h1m18 0h1m2 0h1m-162 1h2m8 0h1m2 0h1m2 0h1m14 0h1m17 0h1m31 0h1m5 0h1m4 0h1m29 0h1m9 0h1m7 0h1"/>
<path stroke="#09f" d="M17 0h1m62 0h1m1 0h1m12 0h1m2 0h1m12 0h1m25 0h1m8 0h1m21 0h1m-150 1h1m35 0h1m78 0h1m6 0h1m4 0h1m13 0h1m-146 1h1m32 0h1m65 0h1m12 0h1m22 0h1m11 0h1m-153 1h1m12 0h1m14 0h2m1 0h1m45 0h1m17 0h1m56 0h1m-140 1h1m8 0h1m2 0h1m20 0h1m44 0h1m15 0h1"/>
<path stroke="#0cf" d="M78 0h1m79 0h1m-123 2h1m124 0h1m-109 2h1m26 0h1m14 0h2m50 0h1"/>
<path stroke="#1fd" d="M126 0h1m-122 2h1m16 0h1m146 0h1m-19 1h1"/>
<path stroke="#900" d="M4 0h1"/>
</g></pattern><rect x="0" y="281" width="176" height="5" fill="url(#t7)"/>
<pattern id="t8" width="176" height="11" patternUnits="userSpaceOnUse" y="287"><g transform="translate(0,.5)" fill="none">
<path stroke="#009" d="M112 0h1m47 0h1m12 0h1m-171 1h1m115 0h1m-90 1h1m30 0h1m20 0h1m21 0h1m49 0h1m-42 1h1m-28 1h1m40 0h1m30 1h1m-151 1h1m21 0h1m6 0h1m9 0h1m26 0h1m62 0h1m-104 1h1m23 0h1m32 0h1m15 0h1m-107 1h1m37 0h1m16 0h1m31 0h1m-77 1h1m21 0h1m28 0h1m2 1h1m7 0h1m33 0h1"/>
<path stroke="#00d" d="M3 0h1m55 0h1m4 0h1m15 0h1m8 0h1m25 0h1m2 0h1m45 0h1m-159 1h1m18 0h1m11 0h1m5 0h1m13 0h2m24 0h1m41 0h1m19 0h1m-143 1h1m28 0h1m6 0h1m83 0h1m20 0h1m-127 1h1m8 0h1m1 0h1m31 0h1m8 0h1m9 0h1m16 0h2m18 0h2m3 0h1m4 0h1m26 0h1m-138 1h1m10 0h1m6 0h1m4 0h2m2 0h1m40 0h1m46 0h1m7 0h1m8 0h1m-145 1h1m10 0h1m15 0h1m19 0h1m8 0h1m61 0h1m2 0h1m-124 1h1m66 0h1m19 0h1m2 0h1m38 0h1m30 0h1m2 0h1m8 0h1m-153 1h1m1 0h2m27 0h1m17 0h1m-45 1h1m21 0h2m11 0h1m60 0h1m30 0h1m6 0h1m-162 1h1m5 0h1m14 0h1m10 0h1m22 0h1m16 0h2m19 0h1m5 0h1m8 0h2m32 0h1m27 0h1m-170 1h1m2 0h1m11 0h1m16 0h2m10 0h1m13 0h1m46 0h1m41 0h1"/>
<path stroke="#00f" d="M2 0h1m1 0h1m1 0h1m2 0h1m31 0h1m8 0h1m5 0h1m11 0h1m29 0h1m1 0h1m7 0h1m54 0h1m7 0h2m-162 1h1m3 0h1m11 0h2m1 0h1m7 0h1m7 0h1m9 0h1m5 0h1m11 0h1m22 0h2m5 0h1m36 0h1m-142 1h1m4 0h1m1 0h1m33 0h1m8 0h1m6 0h1m12 0h1m13 0h1m6 0h1m5 0h1m5 0h1m1 0h1m35 0h1m-134 1h2m6 0h1m6 0h1m26 0h1m1 0h1m4 0h1m52 0h1m14 0h1m17 0h1m6 0h1m7 0h1m7 0h1m-165 1h1m11 0h1m1 0h1m1 0h1m6 0h1m62 0h1m15 0h1m11 0h1m27 0h1m3 0h1m6 0h1m10 0h1m8 0h1m-166 1h1m10 0h1m6 0h1m11 0h1m6 0h1m5 0h1m15 0h2m16 0h1m23 0h2m3 0h1m52 0h1m-124 1h1m19 0h1m16 0h1m27 0h1m4 0h1m7 0h1m24 0h1m18 0h2m-170 1h1m14 0h1m1 0h1m22 0h1m2 0h1m23 0h1m9 0h1m4 0h1m13 0h1m17 0h1m20 0h1m20 0h1m-124 1h1m20 0h1m18 0h1m18 0h1m21 0h1m14 0h1m11 0h1m21 0h1m6 0h1m-156 1h2m7 0h1m4 0h1m9 0h1m17 0h1m13 0h1m17 0h1m2 0h1m3 0h1m7 0h1m9 0h1m3 0h1m13 0h1m26 0h1m8 0h1m-165 1h1m18 0h1m3 0h1m9 0h1m17 0h1m16 0h1m27 0h1m2 0h1m21 0h1m11 0h1m32 0h1"/>
<path stroke="#03f" d="M11 0h1m15 0h1m1 0h1m2 0h1m4 0h1m11 0h1m1 0h1m17 0h1m2 0h1m3 0h1m7 0h1m1 0h1m42 0h1m14 0h1m4 0h1m3 0h1m16 0h1m-171 1h1m12 0h2m1 0h1m17 0h1m18 0h1m18 0h2m3 0h1m7 0h1m29 0h1m20 0h1m2 0h1m27 0h1m-140 1h1m4 0h1m4 0h1m6 0h1m18 0h1m1 0h1m7 0h2m5 0h1m5 0h1m11 0h1m1 0h1m9 0h1m14 0h1m10 0h1m19 0h1m16 0h1m-175 1h1m4 0h2m15 0h1m11 0h1m6 0h2m1 0h1m8 0h1m13 0h1m7 0h1m7 0h1m39 0h1m4 0h1m28 0h1m-155 1h1m1 0h1m4 0h1m21 0h1m9 0h2m7 0h1m4 0h1m4 0h1m2 0h1m17 0h1m10 0h1m1 0h1m22 0h1m20 0h1m18 0h1m5 0h1m3 0h1m2 0h1m-165 1h1m7 0h1m15 0h1m18 0h1m5 0h1m10 0h1m4 0h2m6 0h1m3 0h1m6 0h1m1 0h1m14 0h1m4 0h2m18 0h2m1 0h1m34 0h1m-162 1h1m21 0h1m7 0h1m14 0h2m8 0h1m1 0h1m4 0h1m2 0h1m2 0h2m8 0h1m6 0h1m2 0h1m6 0h1m21 0h1m3 0h1m3 0h1m14 0h1m-141 1h1m46 0h1m3 0h1m14 0h1m4 0h1m15 0h1m1 0h1m3 0h2m8 0h1m2 0h1m-112 1h1m9 0h1m2 0h1m5 0h1m4 0h2m4 0h1m2 0h1m25 0h1m10 0h1m1 0h1m1 0h1m1 0h1m8 0h1m12 0h1m1 0h1m4 0h1m9 0h1m1 0h1m5 0h1m7 0h1m7 0h2m18 0h1m-145 1h1m19 0h1m6 0h1m7 0h1m4 0h1m25 0h1m3 0h1m57 0h1m-139 1h2m24 0h1m2 0h1m5 0h1m3 0h1m15 0h1m2 0h1m35 0h1m12 0h1m17 0h1m27 0h1m2 0h1"/>
<path stroke="#06f" d="M0 0h1m13 0h1m2 0h1m2 0h1m10 0h1m2 0h1m3 0h1m5 0h1m1 0h1m15 0h1m32 0h1m5 0h1m3 0h1m25 0h1m6 0h1m-131 1h1m1 0h1m13 0h1m1 0h1m12 0h1m9 0h1m14 0h1m5 0h1m4 0h1m16 0h1m9 0h1m5 0h1m4 0h1m20 0h1m25 0h1m11 0h1m-159 1h1m1 0h1m10 0h1m28 0h1m11 0h1m19 0h1m17 0h1m1 0h1m36 0h1m14 0h1m-160 1h1m19 0h1m40 0h1m11 0h1m1 0h2m25 0h1m12 0h1m4 0h1m7 0h1m14 0h1m1 0h1m22 0h1m-158 1h1m21 0h1m13 0h1m3 0h1m2 0h1m2 0h2m9 0h1m5 0h1m7 0h1m39 0h2m-124 1h1m73 0h1m1 0h1m51 0h1m5 0h1m11 0h1m7 0h1m-154 1h1m3 0h1m12 0h1m11 0h1m7 0h1m2 0h1m1 0h2m2 0h1m4 0h1m15 0h1m12 0h1m9 0h1m1 0h1m7 0h1m1 0h1m7 0h1m29 0h1m3 0h1m9 0h1m4 0h1m8 0h1m-167 1h1m3 0h1m12 0h1m10 0h1m9 0h1m4 0h2m7 0h1m16 0h1m13 0h1m44 0h1m7 0h1m8 0h1m11 0h1m12 0h1m-171 1h1m12 0h1m3 0h1m10 0h1m7 0h1m16 0h1m13 0h1m6 0h1m19 0h1m1 0h1m26 0h1m38 0h1m5 0h1m-171 1h2m6 0h1m10 0h1m8 0h1m1 0h1m2 0h1m7 0h1m10 0h1m20 0h1m9 0h1m39 0h1m2 0h2m10 0h1m4 0h1m5 0h1m1 0h1m11 0h1m-158 1h1m5 0h1m4 0h1m2 0h1m17 0h1m6 0h1m3 0h1m4 0h1m35 0h1m22 0h1m28 0h1m19 0h1"/>
<path stroke="#09f" d="M42 0h1m12 0h1m22 0h1m17 0h1m30 0h1m-126 1h1m2 0h1m26 0h1m12 0h1m40 0h1m53 0h1m25 0h1m-161 1h1m19 0h1m9 0h1m22 0h1m9 0h1m45 0h1m-113 1h1m31 0h1m28 0h1m27 0h1m27 0h1m32 0h1m17 0h1m-161 1h1m58 0h1m6 0h1m23 0h1m43 0h1m-128 1h1m16 0h2m14 0h1m30 0h1m2 0h1m6 0h1m74 0h1m7 0h1m-148 1h1m7 0h1m21 0h1m2 0h1m18 0h1m33 0h1m5 0h1m4 0h1m4 0h1m-130 1h1m7 0h1m20 0h1m31 0h1m6 0h1m10 0h1m21 0h1m21 0h1m32 0h2m8 0h1m-122 1h1m12 0h2m22 0h1m15 0h1m1 0h1m21 0h1m-111 1h1m17 0h1m32 0h1m19 0h1m31 0h1m9 0h1m46 0h1m-150 1h1m27 0h1m26 0h1"/>
<path stroke="#0cf" d="M65 0h1m4 0h1m54 0h1m25 0h1m-143 1h1m26 0h1m56 0h1m11 0h1m62 0h1m-120 1h1m44 0h1m66 0h1m-76 1h1m69 1h1m6 0h1m3 0h1m-110 1h1m78 0h1m-126 1h1m90 0h1m-40 1h1m-65 1h1m42 0h1m32 0h1m-71 1h1m11 0h1m14 1h1m28 0h1m89 0h1m1 0h1"/>
<path stroke="#1fd" d="M60 1h1m40 2h1m-1 2h1"/>
<path stroke="#f50" d="M84 10h1"/>
<path stroke="#d00" d="M109 2h1m-86 4h1"/>
<path stroke="#900" d="M60 0h1m97 1h1m-30 1h1m-85 2h1m41 0h1m-83 2h1m116 0h1m-112 1h1m148 2h1m-41 1h1m37 0h1"/>
</g></pattern><rect x="0" y="287" width="176" height="11" fill="url(#t8)"/>
<rect x="120" y="674" width="48" height="5" fill="url(#sB_3_1)"/>
<rect x="111" y="681" width="44" height="3" fill="url(#sB_1_3)"/><rect x="116" y="681" width="34" height="3" fill="url(#sA_1_3)"/>
<rect x="108" y="688" width="70" height="11" fill="url(#sB_2_2)"/>
<rect x="112" y="702" width="66" height="5" fill="url(#sB_4_1)"/>
<rect x="120" y="711" width="52" height="3" fill="url(#sB_1_3)"/><rect x="124" y="711" width="44" height="3" fill="url(#sA_1_3)"/>
<rect x="120" y="715" width="52" height="2" fill="url(#sB_1_2)"/>
<path fill="#fff" d="M0 81h176v66h-176zM0 180h176v1h-176zM0 184h176v1h-176zM0 187h176v1h-176zM0 196h176v29h-176zM0 235h176v1h-176zM0 237h176v1h-176zM0 242h176v1h-176zM0 249h176v1h-176zM0 258h176v1h-176zM0 260h176v1h-176zM0 263h176v13h-176zM0 286h176v1h-176zM0 289h176v1h-176zM0 293h176v1h-176zM0 298h176v14h-176zM0 323h176v1h-176zM0 329h176v3h-176zM0 342h176v1h-176zM0 345h176v1h-176zM0 348h176v1h-176zM0 364h176v1h-176zM0 371h176v1h-176zM0 384h176v5h-176zM0 405h176v5h-176zM0 422h176v5h-176zM0 443h176v1h-176zM0 445h176v1h-176zM0 478h176v1h-176zM0 489h176v2h-176zM0 492h176v1h-176zM0 495h176v1h-176zM0 501h176v4h-176zM0 516h176v5h-176zM0 529h176v1h-176zM0 544h176v1h-176zM0 557h176v1h-176zM0 572h176v2h-176zM0 584h176v1h-176zM0 587h176v4h-176zM0 592h176v2h-176zM0 598h176v2h-176zM0 602h176v2h-176zM0 622h176v1h-176zM0 631h176v1h-176zM0 656h176v1h-176zM0 664h176v1h-176zM0 666h176v5h-176zM0 673h176v1h-176zM0 679h176v2h-176zM0 684h176v3h-176zM0 699h176v1h-176zM0 707h176v1h-176zM0 714h176v1h-176zM0 717h176v3h-176z"/>
<path fill="#000" d="M0 149h176v2h-176zM0 166h176v1h-176zM0 183h176v1h-176zM0 186h176v1h-176zM0 194h176v2h-176zM0 232h176v1h-176zM0 234h176v1h-176zM0 280h176v1h-176zM0 294h176v1h-176zM0 297h176v1h-176zM0 320h176v2h-176zM0 325h176v1h-176zM0 328h176v1h-176zM0 334h176v1h-176zM0 367h176v1h-176zM0 370h176v1h-176zM0 375h176v1h-176zM0 378h176v1h-176zM0 391h176v1h-176zM0 397h176v1h-176zM0 399h176v1h-176zM0 403h176v1h-176zM0 411h176v1h-176zM0 415h176v1h-176zM0 431h176v1h-176zM0 505h176v1h-176zM0 509h176v1h-176zM0 513h176v1h-176zM0 515h176v1h-176zM0 521h176v1h-176zM0 537h176v2h-176zM0 554h176v1h-176zM0 567h176v2h-176zM0 574h176v1h-176zM0 576h176v1h-176zM0 582h176v1h-176zM0 586h176v1h-176zM0 640h176v1h-176zM0 646h176v1h-176zM0 649h176v1h-176zM0 658h176v1h-176zM0 687h176v1h-176zM0 701h176v1h-176zM0 710h176v1h-176z"/>
</g>
<g stroke="#000" stroke-width="1" fill="none" shape-rendering="crispEdges">
<rect x="131.5" y="80.5" width="177" height="640"/>
</g>
<g stroke="#000" stroke-opacity="0.68" stroke-width="1">
<path d="M131.5 720 v-5.3 M131.5 81 v5.3"/>
<path d="M173.5 720 v-5.3 M173.5 81 v5.3"/>
<path d="M214.5 720 v-5.3 M214.5 81 v5.3"/>
<path d="M256.5 720 v-5.3 M256.5 81 v5.3"/>
<path d="M297.5 720 v-5.3 M297.5 81 v5.3"/>
<path d="M132 720.5 h5.3 M308 720.5 h-5.3"/>
<path d="M132 587.5 h5.3 M308 587.5 h-5.3"/>
<path d="M132 453.5 h5.3 M308 453.5 h-5.3"/>
<path d="M132 320.5 h5.3 M308 320.5 h-5.3"/>
<path d="M132 187.5 h5.3 M308 187.5 h-5.3"/>
</g>
<text x="131.55" y="736" font-size="12" text-anchor="middle">320</text>
<text x="173.01" y="736" font-size="12" text-anchor="middle">335</text>
<text x="214.47" y="736" font-size="12" text-anchor="middle">350</text>
<text x="255.93" y="736" font-size="12" text-anchor="middle">365</text>
<text x="297.39" y="736" font-size="12" text-anchor="middle">380</text>
<text x="126.80" y="723.6" font-size="12" text-anchor="end">0</text>
<text x="126.70" y="590.0" font-size="12" text-anchor="end">5</text>
<text x="126.20" y="457.0" font-size="12" text-anchor="end">10</text>
<text x="126.20" y="324.0" font-size="12" text-anchor="end">15</text>
<text x="127.20" y="190.0" font-size="12" text-anchor="end">20</text>
<text x="127.72" y="72.9" font-size="16" textLength="184.95" lengthAdjust="spacingAndGlyphs">XX, V7*V12=EA03*EA18</text>
<g transform="translate(345,0)" shape-rendering="crispEdges" clip-path="url(#cp)">
<rect x="0" y="81" width="176" height="639" fill="url(#nA1)"/>
<rect x="0" y="81" width="176" height="639" fill="url(#nB1)"/>
<linearGradient id="g13" gradientUnits="userSpaceOnUse" x1="0" x2="176"><stop offset="0.000" stop-color="#30d0ff"/><stop offset="0.170" stop-color="#0090ff"/><stop offset="0.398" stop-color="#0040ff"/><stop offset="0.568" stop-color="#0030ff"/></linearGradient><rect x="0" y="147" width="116" height="1" fill="url(#g13)"/><rect x="78" y="147" width="28" height="1" fill="url(#nC1)"/><rect x="106" y="147" width="10" height="1" fill="url(#nB1)"/>
<linearGradient id="g14" gradientUnits="userSpaceOnUse" x1="0" x2="176"><stop offset="0.000" stop-color="#c0f040"/><stop offset="0.227" stop-color="#60ffa0"/><stop offset="0.568" stop-color="#20d0ff"/></linearGradient><rect x="0" y="148" width="116" height="1" fill="url(#g14)"/><rect x="78" y="148" width="28" height="1" fill="url(#nC1)"/><rect x="106" y="148" width="10" height="1" fill="url(#nB1)"/>
<linearGradient id="g15" gradientUnits="userSpaceOnUse" x1="0" x2="176"><stop offset="0.000" stop-color="#d0f030"/><stop offset="0.284" stop-color="#80ff80"/><stop offset="0.568" stop-color="#30e0e0"/></linearGradient><rect x="0" y="181" width="116" height="1" fill="url(#g15)"/><rect x="78" y="181" width="28" height="1" fill="url(#nC1)"/><rect x="106" y="181" width="10" height="1" fill="url(#nB1)"/>
<linearGradient id="g16" gradientUnits="userSpaceOnUse" x1="0" x2="176"><stop offset="0.000" stop-color="#ffb000"/><stop offset="0.227" stop-color="#ffe000"/><stop offset="0.455" stop-color="#c0ff40"/><stop offset="0.568" stop-color="#90ff70"/></linearGradient><rect x="0" y="182" width="116" height="1" fill="url(#g16)"/><rect x="78" y="182" width="28" height="1" fill="url(#nC1)"/><rect x="106" y="182" width="10" height="1" fill="url(#nB1)"/>
<linearGradient id="g17" gradientUnits="userSpaceOnUse" x1="0" x2="176"><stop offset="0.000" stop-color="#ff5000"/><stop offset="0.227" stop-color="#ff3000"/><stop offset="0.398" stop-color="#ff9000"/><stop offset="0.591" stop-color="#ffe000"/></linearGradient><rect x="0" y="188" width="106" height="1" fill="url(#g17)"/><rect x="70" y="188" width="28" height="1" fill="url(#nC1)"/><rect x="98" y="188" width="8" height="1" fill="url(#nB1)"/>
<linearGradient id="g18" gradientUnits="userSpaceOnUse" x1="0" x2="176"><stop offset="0.000" stop-color="#0000c0"/><stop offset="0.028" stop-color="#b00000"/><stop offset="0.068" stop-color="#c00000"/><stop offset="0.080" stop-color="#0000b0"/><stop offset="0.097" stop-color="#d00000"/><stop offset="0.136" stop-color="#0000b0"/><stop offset="0.153" stop-color="#e00000"/><stop offset="0.256" stop-color="#d00000"/><stop offset="0.273" stop-color="#0000a0"/><stop offset="0.290" stop-color="#e00000"/><stop offset="0.341" stop-color="#0000a0"/><stop offset="0.358" stop-color="#f00000"/><stop offset="0.409" stop-color="#ff8000"/><stop offset="0.500" stop-color="#ffe000"/><stop offset="0.591" stop-color="#80ff80"/></linearGradient><rect x="0" y="189" width="106" height="1" fill="url(#g18)"/><rect x="70" y="189" width="28" height="1" fill="url(#nC1)"/><rect x="98" y="189" width="8" height="1" fill="url(#nB1)"/>
<linearGradient id="g19" gradientUnits="userSpaceOnUse" x1="0" x2="176"><stop offset="0.000" stop-color="#ffc000"/><stop offset="0.227" stop-color="#ffe000"/><stop offset="0.398" stop-color="#a0ff60"/><stop offset="0.591" stop-color="#40ffd0"/></linearGradient><rect x="0" y="190" width="106" height="1" fill="url(#g19)"/><rect x="70" y="190" width="28" height="1" fill="url(#nC1)"/><rect x="98" y="190" width="8" height="1" fill="url(#nB1)"/>
<linearGradient id="g20" gradientUnits="userSpaceOnUse" x1="0" x2="176"><stop offset="0.000" stop-color="#00a0ff"/><stop offset="0.227" stop-color="#0060ff"/><stop offset="0.591" stop-color="#0020ff"/></linearGradient><rect x="0" y="191" width="106" height="1" fill="url(#g20)"/><rect x="70" y="191" width="28" height="1" fill="url(#nC1)"/><rect x="98" y="191" width="8" height="1" fill="url(#nB1)"/>
<linearGradient id="g21" gradientUnits="userSpaceOnUse" x1="0" x2="176"><stop offset="0.000" stop-color="#20e0ff"/><stop offset="0.227" stop-color="#0090ff"/><stop offset="0.398" stop-color="#0030ff"/><stop offset="0.591" stop-color="#0000d0"/></linearGradient><rect x="0" y="192" width="106" height="1" fill="url(#g21)"/><rect x="70" y="192" width="28" height="1" fill="url(#nC1)"/><rect x="98" y="192" width="8" height="1" fill="url(#nB1)"/>
<linearGradient id="g22" gradientUnits="userSpaceOnUse" x1="0" x2="176"><stop offset="0.000" stop-color="#a0ff60"/><stop offset="0.170" stop-color="#50ffb0"/><stop offset="0.341" stop-color="#20d0ff"/><stop offset="0.591" stop-color="#0060ff"/></linearGradient><rect x="0" y="193" width="106" height="1" fill="url(#g22)"/><rect x="70" y="193" width="28" height="1" fill="url(#nC1)"/><rect x="98" y="193" width="8" height="1" fill="url(#nB1)"/>
<linearGradient id="g23" gradientUnits="userSpaceOnUse" x1="0" x2="176"><stop offset="0.000" stop-color="#60ffb0"/><stop offset="0.142" stop-color="#30f0e0"/><stop offset="0.568" stop-color="#20e0ff"/><stop offset="0.852" stop-color="#30e0ff"/></linearGradient><rect x="0" y="322" width="160" height="1" fill="url(#g23)"/><rect x="112" y="322" width="28" height="1" fill="url(#nC1)"/><rect x="140" y="322" width="20" height="1" fill="url(#nB1)"/>
<linearGradient id="g24" gradientUnits="userSpaceOnUse" x1="0" x2="176"><stop offset="0.000" stop-color="#e0f030"/><stop offset="0.085" stop-color="#90ff70"/><stop offset="0.227" stop-color="#40ffd0"/><stop offset="0.568" stop-color="#30e8ff"/><stop offset="0.852" stop-color="#40e0ff"/></linearGradient><rect x="0" y="324" width="150" height="1" fill="url(#g24)"/><rect x="102" y="324" width="28" height="1" fill="url(#nC1)"/><rect x="130" y="324" width="20" height="1" fill="url(#nB1)"/>
<pattern id="t9" width="176" height="10" patternUnits="userSpaceOnUse" y="225"><g transform="translate(0,.5)" fill="none">
<path stroke="#009" d="M23 0h1m108 0h1m-127 1h1m64 0h1m30 0h1m-64 1h1m45 0h1m3 0h2m25 0h1m-112 1h1m1 0h1m158 0h1m-63 1h1m-59 1h1m61 0h1m4 0h1m-39 1h1m45 0h1m-44 1h1m2 0h1m-49 1h1m124 0h1m-140 1h1m3 0h1m44 0h1m22 0h1m45 0h1m3 0h1"/>
<path stroke="#00d" d="M62 0h1m10 0h1m6 0h1m8 0h1m19 0h1m9 0h1m24 0h1m-115 1h1m22 0h1m82 0h1m1 0h1m14 0h1m1 0h1m17 0h1m-173 1h1m11 0h1m37 0h1m20 0h1m34 0h1m24 0h1m32 0h1m4 0h1m-168 1h1m74 0h1m2 0h1m1 0h1m16 0h1m37 0h1m-129 1h1m27 0h1m9 0h1m2 0h1m34 0h1m6 0h1m49 0h1m23 0h1m2 0h1m-160 1h1m14 0h1m17 0h1m14 0h1m18 0h1m46 0h1m16 0h1m6 0h1m-117 1h1m26 0h1m18 0h1m9 0h1m18 0h1m20 0h1m-110 1h1m2 0h1m5 0h1m10 0h1m1 0h1m119 0h1m-158 1h1m14 0h1m16 0h1m19 0h1m41 0h1m25 0h1m8 0h1m9 0h1m-10 1h1m2 0h1m23 0h1"/>
<path stroke="#00f" d="M13 0h1m43 0h1m19 0h1m10 0h1m8 0h1m57 0h1m-137 1h1m28 0h1m1 0h1m16 0h2m61 0h1m37 0h1m-151 1h1m1 0h1m11 0h1m1 0h1m7 0h1m61 0h1m50 0h1m-110 1h1m12 0h1m12 0h1m6 0h1m19 0h1m22 0h1m13 0h1m15 0h2m-134 1h1m2 0h1m44 0h1m13 0h1m24 0h1m19 0h1m4 0h1m4 0h1m16 0h1m-126 1h1m15 0h1m16 0h1m9 0h1m3 0h1m28 0h2m9 0h1m10 0h1m23 0h1m-115 1h1m8 0h1m30 0h1m20 0h1m17 0h1m21 0h1m5 0h1m-145 1h1m74 0h1m20 0h1m12 0h1m59 0h1m-130 1h2m13 0h1m9 0h1m46 0h1m1 0h1m6 0h1m21 0h1m-139 1h1m31 0h1m89 0h1m5 0h1"/>
<path stroke="#03f" d="M84 0h1m6 0h1m8 0h1m6 0h2m25 0h1m19 0h1m-152 1h1m34 0h1m27 0h1m3 0h1m12 0h1m3 0h1m4 0h2m3 0h2m6 0h1m41 0h1m15 0h1m-139 1h1m5 0h1m39 0h1m33 0h1m16 0h1m7 0h1m20 0h1m2 0h1m17 0h1m-155 1h1m38 0h1m9 0h1m18 0h1m29 0h1m34 0h1m5 0h1m6 0h1m9 0h2m-162 1h1m64 0h2m4 0h1m10 0h1m-95 1h1m13 0h1m3 0h1m19 0h1m17 0h1m11 0h1m27 0h1m20 0h1m33 0h1m7 0h1m10 0h2m-150 1h1m14 0h1m4 0h1m17 0h1m3 0h1m16 0h1m1 0h1m47 0h1m8 0h1m2 0h1m5 0h1m21 0h1m-153 1h1m24 0h1m8 0h1m15 0h1m14 0h1m16 0h1m6 0h1m25 0h1m2 0h4m-129 1h1m24 0h1m47 0h1m3 0h1m10 0h1m28 0h1m24 0h1m5 0h1m-76 1h1m4 0h1m3 0h1m3 0h1m24 0h1m2 0h1"/>
<path stroke="#06f" d="M0 0h1m1 0h1m33 0h1m86 0h1m37 0h1m3 0h1m-161 1h1m3 0h1m18 0h1m105 0h1m-91 1h1m31 0h1m-76 1h1m9 0h1m3 0h1m35 0h1m30 0h1m27 0h1m4 0h1m31 0h1m2 0h1m10 0h1m-144 1h1m72 0h1m25 0h1m28 0h1m-135 1h1m98 0h1m-48 1h1m22 0h1m16 0h1m22 0h1m46 0h1m-115 1h1m2 0h1m23 0h1m11 0h1m49 0h1m11 0h1m10 0h1m-84 1h1m32 0h1m5 0h1m41 0h1m1 0h2m-163 1h1m9 0h1m3 0h1m8 0h1m3 0h1m6 0h1m5 0h1m1 0h1m6 0h1m9 0h1m6 0h1m52 0h1m11 0h1m3 0h2m4 0h1"/>
<path stroke="#09f" d="M17 0h1m56 0h1m65 0h1m-116 1h1m10 0h1m83 0h1m3 0h3m-94 1h1m19 0h1m6 0h1m36 0h1m17 0h1m-28 1h1m23 0h1m14 0h1m4 0h1m1 0h1m6 0h1m18 0h1m-145 1h1m11 0h1m5 0h1m60 0h1m24 0h1m3 0h1m5 0h1m20 0h1m-145 1h1m26 0h1m14 0h1m19 0h1m18 0h1m29 0h1m15 0h1m-103 1h1m22 0h1m9 0h1m12 0h1m26 0h1m4 0h1m46 0h1m4 0h1m1 0h1m-152 1h1m35 0h1m22 0h1m77 0h1m2 0h1m-147 1h1m26 0h1m23 0h1m20 0h1m35 0h1m13 0h1m6 0h1m27 0h1m-141 1h1m30 0h1m1 0h1m13 0h1m1 0h1m1 0h1m31 0h1m6 0h1m6 0h1"/>
<path stroke="#0cf" d="M8 0h1m44 0h1m4 0h1m91 0h1m-107 1h1m20 0h1m38 0h1m36 0h1m33 0h1m-124 1h1m2 0h1m54 0h1m20 0h1m5 0h1m19 0h1m1 0h1m-151 1h1m4 0h1m25 0h1m19 0h1m14 0h1m9 0h1m63 0h1m-123 1h1m11 0h1m25 0h1m40 0h1m31 0h1m33 0h1m-135 1h1m29 0h1m85 0h1m20 0h1m-103 1h1m7 0h1m27 0h1m2 0h1m11 0h1m7 0h1m-122 1h1m64 0h1m15 0h1m53 0h1m-132 1h1m9 0h1m3 0h1m42 0h1m-72 1h1m5 0h1m6 0h1m12 0h1m22 0h1m80 0h1m34 0h1"/>
<path stroke="#1fd" d="M9 0h1m16 2h1m2 0h1m79 0h1m59 0h1m5 0h1m-133 1h1m8 1h1m46 0h1m66 0h1m-87 2h1m67 0h1m-91 1h2m5 0h1m99 0h1m2 0h1m-151 1h1m61 0h1m11 0h1m53 0h1m5 0h1m12 0h1m-146 1h1m14 0h1m96 0h1m28 0h1"/>
<path stroke="#4fb" d="M99 0h1m-58 1h1m19 1h1m11 0h1m70 0h1m-87 2h1m2 0h1m39 0h1m22 0h1m43 0h1m-162 2h1m35 1h1m-26 1h1m40 0h1m40 1h1"/>
<path stroke="#6f8" d="M67 0h1m-20 5h1m40 0h1m50 1h1"/>
<path stroke="#8f6" d="M73 8h1"/>
<path stroke="#bf4" d="M28 8h1"/>
<path stroke="#df1" d="M164 9h1"/>
<path stroke="#f50" d="M160 1h1"/>
<path stroke="#f20" d="M34 1h1m-27 1h1m8 0h1"/>
<path stroke="#d00" d="M125 0h1m-117 2h1m151 0h1m9 1h1m-113 3h1m81 0h1m-124 3h1m40 0h1"/>
<path stroke="#900" d="M83 0h1m18 0h1m30 0h1m12 0h1m-112 1h1m113 0h1m12 0h1m8 0h1m-172 1h1m48 0h1m31 0h1m47 0h1m-13 1h1m13 0h1m-128 1h1m35 0h1m71 0h1m49 1h1m-56 1h1m52 0h1m10 0h1m-94 2h1m56 0h1m13 0h1m-51 1h1"/>
</g></pattern><rect x="0" y="225" width="176" height="10" fill="url(#t9)"/>
<pattern id="t10" width="176" height="4" patternUnits="userSpaceOnUse" y="238"><g transform="translate(0,.5)" fill="none">
<path stroke="#00d" d="M50 0h1m-12 1h1m-34 1h1m82 0h1"/>
<path stroke="#00f" d="M5 0h1m26 0h1m16 0h1m22 0h1m-45 1h1m16 0h1m24 1h1m70 0h1m32 0h1m-111 1h1m18 0h1"/>
<path stroke="#03f" d="M23 0h1m11 0h1m5 0h1m4 0h1m4 0h1m3 0h1m15 0h1m8 0h2m64 0h1m-144 1h2m26 0h1m6 0h1m1 0h1m33 0h1m40 0h1m-72 1h1m32 0h1m21 0h1m7 0h1m10 0h1m9 0h1m-125 1h1m65 0h1m17 0h1m23 0h1"/>
<path stroke="#06f" d="M22 0h1m4 0h1m9 0h1m9 0h1m4 0h1m8 0h1m7 0h2m30 0h1m6 0h1m40 0h1m18 0h1m-159 1h1m19 0h1m11 0h1m12 0h1m9 0h1m2 0h1m11 0h1m41 0h1m5 0h1m2 0h1m13 0h1m-135 1h1m7 0h2m10 0h1m9 0h2m19 0h1m1 0h2m1 0h1m5 0h1m82 0h1m-156 1h1m8 0h1m7 0h1m11 0h1m4 0h1m21 0h1m15 0h1m11 0h1m4 0h1m13 0h1m32 0h1"/>
<path stroke="#09f" d="M2 0h3m4 0h1m2 0h1m6 0h2m7 0h2m26 0h1m19 0h1m9 0h2m1 0h1m24 0h1m6 0h3m5 0h1m2 0h1m14 0h1m19 0h1m-168 1h1m4 0h1m6 0h2m9 0h1m3 0h1m32 0h1m81 0h1m5 0h1m19 0h1m-160 1h2m6 0h1m4 0h1m7 0h1m3 0h1m1 0h2m37 0h1m6 0h1m3 0h2m2 0h1m-88 1h1m3 0h1m13 0h2m6 0h1m32 0h1m2 0h2m1 0h1m13 0h1m8 0h1m3 0h1m13 0h1m6 0h1m22 0h1"/>
<path stroke="#0cf" d="M8 0h1m21 0h1m42 0h2m9 0h1m18 0h1m-103 1h1m4 0h1m1 0h2m8 0h1m22 0h1m1 0h1m7 0h1m32 0h1m9 0h1m7 0h1m15 0h1m7 0h1m11 0h1m1 0h1m12 0h1m4 0h1m3 0h1m-158 1h1m2 0h1m7 0h1m16 0h1m57 0h1m32 0h1m-111 1h1m5 0h1m5 0h1m7 0h1m23 0h1m18 0h1m2 0h1"/>
<path stroke="#1fd" d="M1 0h1m14 0h1m17 0h1m7 0h1m93 0h1m37 0h1m-131 1h1m7 0h1m16 0h1m6 0h2m34 0h1m-110 1h1m3 0h1m6 0h1m20 0h1m3 0h1m34 0h1m10 0h1m8 0h1m9 0h1m65 0h1m-128 1h1m7 0h1m86 0h1m3 0h1"/>
<path stroke="#4fb" d="M40 0h1m65 0h1m59 0h1m6 0h1m-167 1h1m49 0h1m38 0h1m26 0h1m-107 2h1m6 0h1m59 0h1"/>
<path stroke="#6f8" d="M13 0h1m19 3h1m2 0h1"/>
</g></pattern><rect x="0" y="238" width="176" height="4" fill="url(#t10)"/>
<pattern id="t11" width="176" height="6" patternUnits="userSpaceOnUse" y="243"><g transform="translate(0,.5)" fill="none">
<path stroke="#03f" d="M99 0h1m51 0h1m-132 1h1m59 0h1m-40 1h1m-39 1h1"/>
<path stroke="#06f" d="M20 0h1m26 0h1m18 0h1m90 0h1m12 0h1m-168 1h1m14 0h1m8 0h1m7 0h1m5 0h1m77 0h1m9 0h1m27 0h1m-154 1h1m77 0h1m16 0h1m-58 1h1m17 0h1m44 0h1m7 0h1m28 0h1m-75 1h1m-25 1h1"/>
<path stroke="#09f" d="M4 0h1m3 0h1m7 0h2m17 0h1m21 0h1m5 0h1m17 0h1m6 0h3m-74 1h1m19 0h1m12 0h1m19 0h1m30 0h1m8 0h1m10 0h1m-109 1h1m4 0h1m35 0h1m6 0h1m12 0h2m82 0h1m-153 1h1m2 0h1m17 0h1m18 0h2m6 0h1m3 0h1m17 0h1m30 0h1m23 0h1m17 0h1m8 0h1m-155 1h1m28 0h1m2 0h1m13 0h1m50 0h1m6 0h1m6 0h1m-102 1h1m38 0h1m80 0h1m2 0h1"/>
<path stroke="#0cf" d="M2 0h1m2 0h1m1 0h1m40 0h1m9 0h1m8 0h1m3 0h1m26 0h1m28 0h1m-124 1h1m18 0h1m10 0h1m5 0h1m18 0h1m4 0h1m4 0h1m8 0h1m16 0h1m1 0h1m26 0h1m1 0h1m4 0h1m15 0h1m4 0h1m-145 1h1m20 0h1m4 0h1m13 0h1m16 0h1m25 0h1m4 0h2m31 0h1m3 0h1m1 0h1m16 0h1m3 0h1m-142 1h1m8 0h2m17 0h1m7 0h1m10 0h1m6 0h1m9 0h1m14 0h1m4 0h1m2 0h1m6 0h1m11 0h1m2 0h1m40 0h1m-160 1h1m7 0h1m23 0h1m1 0h1m7 0h1m5 0h1m3 0h1m13 0h1m15 0h1m3 0h2m18 0h1m30 0h1m1 0h1m8 0h1m14 0h1m-169 1h1m6 0h1m4 0h1m2 0h1m5 0h1m1 0h1m5 0h1m5 0h1m26 0h1m15 0h1m1 0h1m20 0h1m5 0h1m22 0h1m10 0h1m2 0h1m3 0h1"/>
<path stroke="#1fd" d="M13 0h1m12 0h1m1 0h1m4 0h1m5 0h1m6 0h1m3 0h1m17 0h1m3 0h2m1 0h1m10 0h1m13 0h2m1 0h1m3 0h1m48 0h1m-126 1h1m1 0h1m17 0h1m2 0h1m21 0h1m28 0h1m2 0h1m3 0h1m35 0h1m-142 1h1m9 0h1m2 0h1m5 0h1m6 0h1m3 0h1m9 0h1m1 0h1m29 0h2m5 0h1m5 0h1m14 0h1m16 0h1m20 0h1m-146 1h1m10 0h1m4 0h1m2 0h1m13 0h2m1 0h1m2 0h1m4 0h1m8 0h1m12 0h1m5 0h1m14 0h2m2 0h1m26 0h1m52 0h1m-169 1h1m8 0h1m6 0h1m6 0h3m8 0h1m7 0h1m3 0h1m6 0h2m1 0h1m16 0h1m8 0h1m28 0h1m24 0h1m-128 1h1m5 0h1m6 0h1m7 0h1m8 0h1m8 0h1m5 0h1m4 0h1m4 0h1m3 0h1m17 0h1m21 0h1m21 0h1m1 0h1m22 0h1m1 0h1m7 0h1"/>
<path stroke="#4fb" d="M11 0h2m1 0h1m15 0h1m7 0h1m13 0h1m7 0h1m4 0h1m10 0h1m25 0h1m6 0h1m-105 1h1m5 0h1m27 0h1m6 0h1m2 0h1m7 0h1m40 0h1m14 0h1m11 0h1m-123 1h1m27 0h2m3 0h1m34 0h1m22 0h1m28 0h1m13 0h1m24 0h1m-158 1h1m4 0h1m15 0h1m21 0h1m26 0h1m22 0h1m-91 1h1m52 0h1m7 0h2m32 0h1m2 0h1m-105 1h2m3 0h1m19 0h1m10 0h1m1 0h1m19 0h1m16 0h1m9 0h1m25 0h1m1 0h1m10 0h2m1 0h1"/>
<path stroke="#6f8" d="M1 0h1m16 0h1m21 0h1m3 0h1m14 0h1m20 0h1m27 0h1m17 0h1m-115 1h1m34 0h1m80 0h1m-123 1h1m20 0h1m56 0h1m5 0h1m30 0h1m10 0h1m-129 1h1m51 0h1m17 0h1m41 0h1m2 0h1m33 0h1m-49 1h1m1 0h1m11 0h1m-110 1h1m35 0h1m14 0h1m63 0h1m2 0h1"/>
<path stroke="#8f6" d="M31 0h1m-22 1h1m154 0h1m-166 1h1m1 0h1m52 0h1m107 0h1m-133 1h1m31 0h1m16 0h1m-71 1h1m12 0h1m18 0h1m39 0h1m-48 1h1m30 0h1"/>
<path stroke="#bf4" d="M59 2h1m41 0h1"/>
<path stroke="#df1" d="M91 1h1"/>
</g></pattern><rect x="0" y="243" width="176" height="6" fill="url(#t11)"/>
<pattern id="t12" width="176" height="8" patternUnits="userSpaceOnUse" y="250"><g transform="translate(0,.5)" fill="none">
<path stroke="#03f" d="M70 4h1"/>
<path stroke="#06f" d="M9 6h1"/>
<path stroke="#09f" d="M22 0h1m19 2h2m42 0h1m-61 2h1m46 2h1"/>
<path stroke="#0cf" d="M16 1h1m3 0h1m37 1h1m13 1h1m-18 2h1m-3 2h1"/>
<path stroke="#1fd" d="M13 0h1m20 0h1m7 0h1m56 0h1m-95 1h1m32 0h1m-39 1h1m12 0h1m71 0h1m-71 1h1m21 0h1m51 0h1m-53 1h1m11 0h1m4 0h1m-50 1h1m2 0h1m48 0h1m7 0h1m1 0h1m18 0h1m2 0h1m-62 1h1m16 0h1m-35 1h1m37 0h1m16 0h1m24 0h1"/>
<path stroke="#4fb" d="M4 0h1m5 1h1m1 0h1m17 0h1m18 0h1m-44 1h1m57 0h1m11 0h1m2 0h1m-79 1h1m43 0h1m3 0h1m28 0h1m16 0h1m3 0h1m-97 1h1m15 0h1m1 0h1m40 0h1m-56 1h1m2 0h1m19 0h1m2 0h2m13 0h1m19 0h1m14 0h1m10 0h1m-80 1h1m4 0h1m1 0h1m13 0h1m1 0h1m16 0h2m-57 1h1m7 0h1m6 0h1m6 0h1m15 0h1m7 0h1m22 0h1m5 0h1m19 0h2"/>
<path stroke="#6f8" d="M5 0h1m2 0h1m11 0h1m8 0h1m2 0h1m14 0h1m7 0h1m2 0h1m-7 1h1m4 0h1m11 0h1m9 0h1m35 0h1m-99 1h1m17 0h1m19 0h1m9 0h1m6 0h1m-65 1h1m14 0h1m1 0h1m1 0h1m5 0h2m12 0h1m3 0h1m42 0h1m29 0h1m-123 1h1m4 0h1m10 0h1m1 0h1m7 0h1m12 0h2m1 0h1m8 0h1m10 0h1m10 0h1m32 0h1m-91 1h2m41 0h1m15 0h1m2 0h1m24 0h1m-103 1h1m4 0h1m8 0h1m1 0h1m22 0h1m-42 1h1m1 0h1m3 0h1m8 0h1m10 0h1m22 0h1m14 0h1"/>
<path stroke="#8f6" d="M9 0h1m1 0h2m12 0h2m12 0h1m8 0h1m2 0h1m42 0h1m-94 1h2m3 0h1m17 0h1m6 0h1m48 0h1m-80 1h1m1 0h2m4 0h1m2 0h1m20 0h1m10 0h1m5 0h1m2 0h1m21 0h1m4 0h1m-78 1h1m1 0h1m8 0h1m5 0h1m11 0h1m10 0h1m9 0h1m9 0h1m38 0h1m-97 1h1m2 0h1m3 0h1m2 0h1m6 0h3m26 0h1m14 0h1m6 0h1m-74 1h2m6 0h1m1 0h1m3 0h1m1 0h1m4 0h1m40 0h1m20 0h1m-80 1h1m19 0h1m11 0h1m5 0h1m15 0h1m-42 1h1m2 0h1m10 0h1m6 0h1m7 0h1m41 0h1"/>
<path stroke="#bf4" d="M0 0h2m13 0h1m11 0h1m-25 1h1m15 0h1m5 0h1m2 0h2m2 0h1m1 0h1m13 0h1m2 0h1m26 0h1m-72 1h1m7 0h1m9 0h1m1 0h1m17 0h2m9 0h1m14 0h1m-66 1h1m4 0h2m16 0h1m44 0h1m18 0h1m-89 1h1m2 0h1m18 0h1m1 0h1m15 0h1m22 0h1m-56 1h1m11 0h1m13 0h1m4 0h1m30 0h1m26 0h1m-87 1h1m10 0h1m2 0h1m10 0h1m9 0h1m1 0h1m3 0h1m-56 1h1m2 0h1m22 0h1m22 0h1m15 0h1"/>
<path stroke="#df1" d="M83 0h1m-71 1h1m49 0h1m13 0h1m-59 1h1m28 0h1m13 0h1m-54 1h1m20 0h1m-27 1h1m9 0h1m66 0h1m17 0h1m17 0h1m-115 1h2m26 0h1m4 0h1m3 0h1m9 0h1m20 0h1m25 0h1m3 0h1m-91 1h1m2 0h1m39 0h1m42 0h1m-89 1h1m14 0h1m37 0h1"/>
<path stroke="#fd0" d="M65 0h1m44 0h1m-104 1h2m9 0h1m-19 2h1m16 0h2m12 0h1m18 0h1m-13 1h2m43 0h1m-72 1h1m3 0h1m24 0h1m11 0h1m56 0h1m-110 1h1m2 0h1m30 0h1m40 0h1m-60 1h1m17 0h1m27 0h1"/>
<path stroke="#fa0" d="M60 0h1m-24 1h1m5 0h1m3 0h1m-6 6h1"/>
<path stroke="#f50" d="M100 3h1"/>
</g></pattern><rect x="0" y="250" width="130" height="8" fill="url(#t12)"/>
<pattern id="t13" width="176" height="2" patternUnits="userSpaceOnUse" y="261"><g transform="translate(0,.5)" fill="none">
<path stroke="#009" d="M7 1h1m8 0h1m8 0h1"/>
<path stroke="#00d" d="M27 0h1m80 0h1m-89 1h1m46 0h1m7 0h1m33 0h1m16 0h1m12 0h1"/>
<path stroke="#00f" d="M18 0h1m1 0h1m17 0h1m14 0h1m33 0h1m8 0h2m7 0h1m30 0h1m-135 1h1m24 0h1m29 0h1m5 0h1m2 0h1m1 0h1m2 0h1m6 0h1m7 0h1m6 0h1m19 0h1m13 0h1"/>
<path stroke="#03f" d="M7 0h2m2 0h1m5 0h1m8 0h1m3 0h1m19 0h1m5 0h1m14 0h1m7 0h1m27 0h1m2 0h1m8 0h1m1 0h1m4 0h1m13 0h1m2 0h1m13 0h1m12 0h1m-152 1h1m26 0h1m14 0h2m11 0h1m2 0h1m26 0h1m7 0h1m3 0h1m2 0h1m28 0h1m7 0h1"/>
<path stroke="#06f" d="M2 0h1m2 0h1m27 0h1m27 0h1m2 0h1m19 0h1m5 0h2m2 0h1m39 0h1m32 0h3m-167 1h1m29 0h1m14 0h1m11 0h1m4 0h1m3 0h1m2 0h1m21 0h1m13 0h1m5 0h1m22 0h1m12 0h2m6 0h1m11 0h1"/>
<path stroke="#09f" d="M0 0h1m2 0h1m19 0h1m20 0h1m17 0h1m2 0h1m7 0h1m53 0h1m10 0h1m5 0h1m-111 1h1m3 0h1m34 0h1m7 0h1m10 0h1m13 0h1m24 0h2m21 0h1m4 0h1m1 0h1"/>
<path stroke="#0cf" d="M25 0h1m8 0h1m69 0h1m4 0h1m13 0h1m-113 1h1"/>
<path stroke="#1fd" d="M67 0h1m-58 1h1"/>
<path stroke="#4fb" d="M4 1h1"/>
</g></pattern><rect x="0" y="261" width="176" height="2" fill="url(#t13)"/>
<pattern id="t14" width="176" height="4" patternUnits="userSpaceOnUse" y="276"><g transform="translate(0,.5)" fill="none">
<path stroke="#009" d="M80 0h1"/>
<path stroke="#00d" d="M140 3h1"/>
<path stroke="#00f" d="M83 1h1m5 0h1m-25 1h1m43 0h2m58 0h1m-161 1h1"/>
<path stroke="#03f" d="M0 0h1m4 0h1m2 0h1m2 0h1m13 0h1m5 0h1m1 0h1m1 0h1m2 0h2m14 0h1m19 0h1m28 0h1m6 0h1m23 0h1m8 0h1m-141 1h1m10 0h1m12 0h1m22 0h1m30 0h1m18 0h1m23 0h1m1 0h1m32 0h1m12 0h1m-164 1h1m65 0h1m29 0h1m11 0h1m36 0h1m-152 1h1m30 0h1m13 0h1m34 0h1"/>
<path stroke="#06f" d="M22 0h1m4 0h1m4 0h1m1 0h1m5 0h1m6 0h1m1 0h1m26 0h1m16 0h1m22 0h1m7 0h1m7 0h1m7 0h1m32 0h1m1 0h1m-176 1h1m17 0h1m20 0h1m7 0h1m5 0h1m2 0h1m2 0h1m10 0h1m5 0h1m11 0h1m1 0h1m3 0h2m13 0h2m55 0h1m6 0h1m-173 1h1m24 0h1m2 0h1m1 0h1m3 0h1m3 0h1m4 0h1m7 0h1m26 0h1m5 0h1m5 0h1m8 0h1m10 0h1m13 0h1m9 0h1m17 0h1m-143 1h1m12 0h1m15 0h1m20 0h2m14 0h1m7 0h1m13 0h1m25 0h1m4 0h1m10 0h1m2 0h1m13 0h1m3 0h1m2 0h1"/>
<path stroke="#09f" d="M14 0h1m27 0h2m31 0h1m15 0h1m13 0h1m15 0h2m29 0h1m8 0h1m6 0h1m-164 1h1m2 0h1m8 0h1m15 0h1m3 0h2m19 0h1m3 0h3m3 0h1m2 0h1m1 0h1m1 0h1m25 0h1m18 0h1m6 0h1m11 0h1m4 0h1m1 0h1m11 0h1m-159 1h1m19 0h1m2 0h2m8 0h1m9 0h1m5 0h2m5 0h1m1 0h1m2 0h1m2 0h1m15 0h1m3 0h1m1 0h1m10 0h1m49 0h1m15 0h2m2 0h1m-164 1h2m12 0h1m16 0h1m1 0h1m1 0h1m9 0h1m2 0h1m6 0h1m29 0h1m14 0h1m2 0h1m1 0h1m16 0h1m7 0h2m12 0h1m5 0h1m14 0h1"/>
<path stroke="#0cf" d="M2 0h1m23 0h1m23 0h1m10 0h1m38 0h1m1 0h1m10 0h1m17 0h1m6 0h1m8 0h1m11 0h1m-153 1h1m2 0h1m12 0h1m19 0h1m13 0h1m2 0h1m8 0h1m45 0h1m16 0h1m4 0h1m18 0h1m8 0h1m9 0h1m-170 1h1m4 0h2m6 0h1m1 0h1m18 0h1m1 0h1m11 0h2m1 0h1m8 0h1m6 0h1m2 0h2m4 0h1m18 0h1m12 0h1m37 0h1m21 0h1m-167 1h1m7 0h1m9 0h1m14 0h1m33 0h2m2 0h1m2 0h1m25 0h1m3 0h1m2 0h1m27 0h1m8 0h1m22 0h1"/>
<path stroke="#1fd" d="M67 0h1m11 0h1m8 0h1m10 0h1m39 0h1m6 0h1m3 0h1m12 0h1m-155 1h1m2 0h1m12 0h1m56 0h1m19 0h1m14 0h1m12 0h1m14 0h1m28 0h1m-173 1h1m44 0h1m23 0h1m61 0h1m10 0h1m15 0h1m-160 1h1m8 0h1m9 0h1m17 0h1m31 0h1m7 0h1m13 0h2m7 0h1m9 0h1m2 0h1m8 0h1m23 0h1"/>
<path stroke="#4fb" d="M3 0h1m15 0h1m37 0h1m7 0h1m20 0h1m87 0h1m-173 1h1m152 0h1m-154 2h1m29 0h1m9 0h1m123 0h1"/>
<path stroke="#6f8" d="M118 1h1m-50 1h1"/>
<path stroke="#8f6" d="M167 1h1"/>
</g></pattern><rect x="0" y="276" width="176" height="4" fill="url(#t14)"/>
<pattern id="t15" width="176" height="5" patternUnits="userSpaceOnUse" y="281"><g transform="translate(0,.5)" fill="none">
<path stroke="#009" d="M97 0h1m39 0h1m-128 1h1m4 0h1m1 0h1m-9 1h1m118 0h1m29 0h1m-103 2h1m8 0h1"/>
<path stroke="#00d" d="M1 0h1m7 0h1m32 0h1m1 0h1m6 0h1m18 0h1m4 0h1m14 0h1m17 0h1m-104 1h1m2 0h1m18 0h1m40 0h1m11 0h1m30 0h1m39 0h1m18 0h1m-129 1h1m21 0h1m3 0h1m14 0h1m20 0h1m19 0h1m27 0h1m-142 1h1m108 0h1m14 0h1m8 0h1m1 0h1m2 0h1m2 0h1m-147 1h1m21 0h1m2 0h1m23 0h1m1 0h1m11 0h1m14 0h1m7 0h1m23 0h1m9 0h1"/>
<path stroke="#00f" d="M14 0h1m11 0h1m1 0h1m7 0h1m3 0h1m25 0h1m36 0h1m2 0h1m5 0h1m55 0h1m-169 1h1m1 0h2m8 0h1m1 0h1m11 0h1m2 0h1m2 0h1m12 0h1m6 0h3m8 0h1m11 0h1m5 0h1m7 0h1m6 0h1m7 0h1m14 0h1m3 0h1m19 0h1m8 0h1m18 0h1m-171 1h1m1 0h1m10 0h1m1 0h1m5 0h1m10 0h1m4 0h1m4 0h1m3 0h1m2 0h1m6 0h1m7 0h1m1 0h1m9 0h1m3 0h1m9 0h1m7 0h1m13 0h1m13 0h1m5 0h1m16 0h1m4 0h2m4 0h1m1 0h1m9 0h1m-161 1h1m1 0h2m2 0h1m1 0h1m2 0h1m2 0h2m6 0h1m2 0h1m5 0h1m3 0h3m10 0h1m5 0h1m2 0h2m5 0h2m6 0h1m4 0h1m2 0h1m11 0h1m33 0h1m20 0h1m-138 1h1m11 0h1m12 0h1m4 0h1m8 0h1m5 0h1m14 0h1m1 0h1m2 0h1m10 0h1m5 0h1m2 0h1m1 0h1m2 0h2m3 0h2m3 0h1m8 0h1m5 0h1m7 0h1m20 0h1"/>
<path stroke="#03f" d="M8 0h1m12 0h2m7 0h1m4 0h1m5 0h1m10 0h2m4 0h2m4 0h2m5 0h1m15 0h2m6 0h1m2 0h1m1 0h1m1 0h1m1 0h1m8 0h1m1 0h1m4 0h1m20 0h1m1 0h2m17 0h2m3 0h1m1 0h1m-169 1h1m2 0h1m11 0h1m4 0h1m1 0h1m1 0h1m4 0h1m9 0h1m2 0h1m11 0h2m1 0h1m2 0h1m5 0h1m1 0h1m6 0h2m1 0h1m23 0h1m8 0h1m1 0h1m10 0h1m2 0h1m4 0h2m3 0h1m2 0h1m8 0h1m-146 1h1m6 0h1m7 0h2m2 0h1m1 0h1m13 0h1m3 0h2m7 0h1m1 0h1m2 0h1m4 0h1m5 0h2m13 0h1m7 0h1m3 0h2m3 0h2m4 0h2m17 0h1m9 0h1m6 0h1m3 0h2m2 0h1m2 0h1m2 0h1m9 0h1m-168 1h1m2 0h2m1 0h1m2 0h1m4 0h1m5 0h1m4 0h2m9 0h2m5 0h1m9 0h1m1 0h1m2 0h2m9 0h1m17 0h1m4 0h1m6 0h2m3 0h1m8 0h2m7 0h2m9 0h1m22 0h1m16 0h1m-171 1h1m7 0h2m1 0h1m3 0h1m2 0h2m3 0h1m5 0h1m1 0h1m2 0h1m3 0h1m1 0h1m6 0h1m8 0h1m1 0h1m9 0h1m2 0h1m1 0h1m12 0h1m1 0h1m12 0h1m10 0h1m4 0h1m1 0h1m4 0h1m5 0h2m6 0h1m6 0h1m4 0h2m17 0h1"/>
<path stroke="#06f" d="M2 0h1m13 0h1m14 0h1m17 0h1m11 0h1m1 0h1m5 0h1m12 0h1m10 0h1m13 0h1m22 0h1m7 0h1m17 0h1m7 0h1m5 0h1m-160 1h1m6 0h2m31 0h1m10 0h1m7 0h1m3 0h1m17 0h1m6 0h1m1 0h1m7 0h1m14 0h1m5 0h1m1 0h1m2 0h1m13 0h1m5 0h1m13 0h1m5 0h1m-176 1h1m1 0h1m24 0h2m25 0h1m7 0h1m11 0h1m18 0h1m4 0h1m13 0h1m9 0h1m11 0h2m10 0h1m13 0h1m-160 1h1m5 0h1m14 0h2m6 0h1m1 0h1m18 0h1m10 0h1m11 0h1m5 0h1m14 0h2m5 0h1m6 0h1m8 0h1m2 0h1m9 0h1m25 0h1m4 0h1m11 0h1m-168 1h1m32 0h1m3 0h1m9 0h1m8 0h1m6 0h1m6 0h1m17 0h1m51 0h1m26 0h1"/>
<path stroke="#09f" d="M48 0h1m1 0h1m22 0h1m53 0h1m-55 1h1m-40 1h1m17 0h1m-45 1h1m80 0h1m-48 1h1m4 0h1m1 0h1m10 0h1"/>
<path stroke="#0cf" d="M145 0h1m-124 1h1m67 1h1"/>
<path stroke="#900" d="M159 0h1m-88 1h1"/>
</g></pattern><rect x="0" y="281" width="176" height="5" fill="url(#t15)"/>
<pattern id="t16" width="176" height="11" patternUnits="userSpaceOnUse" y="287"><g transform="translate(0,.5)" fill="none">
<path stroke="#009" d="M39 0h1m39 0h1m42 0h1m19 0h1m-126 1h1m11 0h1m33 0h1m107 1h1m-167 1h1m14 0h1m34 0h1m19 0h1m73 0h1m-94 1h1m-8 1h1m23 1h1m92 0h1m-142 1h1m3 0h1m23 0h1m101 0h1m-40 1h1m-94 1h1m108 0h1m-105 1h1m49 0h1m82 0h1"/>
<path stroke="#00d" d="M13 0h1m56 0h1m13 0h1m47 0h1m8 0h1m32 0h2m-165 1h1m9 0h1m12 0h1m6 0h1m41 0h1m43 0h1m7 0h1m16 0h1m9 0h1m-155 1h1m57 0h1m32 0h1m18 0h1m3 0h1m6 0h1m8 0h1m-133 1h1m21 0h1m3 0h1m4 0h2m20 0h1m6 0h1m87 0h1m-134 1h1m57 0h1m3 0h1m13 0h1m26 0h1m-110 1h1m19 0h1m31 0h1m23 0h1m15 0h1m30 0h1m15 0h1m-136 1h1m11 0h2m55 0h1m1 0h1m-40 1h1m17 0h1m-63 1h1m9 0h1m16 0h1m2 0h1m9 0h1m94 0h1m18 0h1m-157 1h1m13 0h1m25 0h1m30 0h1m9 0h1m13 0h1m66 0h1m-154 1h2m23 0h1m5 0h1m26 0h1m51 0h1m19 0h1"/>
<path stroke="#00f" d="M35 0h1m6 0h1m18 0h1m2 0h2m8 0h1m23 0h1m1 0h1m2 0h1m5 0h1m11 0h1m11 0h1m1 0h1m1 0h1m24 0h1m4 0h1m-165 1h2m2 0h2m19 0h1m32 0h1m4 0h1m29 0h1m5 0h1m3 0h1m8 0h1m32 0h1m17 0h1m-154 1h1m7 0h1m1 0h1m14 0h1m63 0h1m32 0h1m3 0h1m5 0h1m3 0h1m7 0h1m3 0h1m-160 1h2m26 0h1m3 0h1m12 0h1m1 0h1m17 0h1m8 0h2m2 0h1m14 0h1m10 0h1m6 0h1m46 0h1m-157 1h1m5 0h1m11 0h1m27 0h1m80 0h1m26 0h1m9 0h1m3 0h1m1 0h1m-161 1h1m57 0h1m20 0h1m2 0h1m15 0h1m7 0h1m8 0h1m10 0h1m18 0h1m-142 1h1m15 0h1m2 0h1m9 0h2m2 0h1m33 0h1m8 0h1m4 0h1m9 0h1m1 0h1m24 0h2m3 0h1m17 0h1m-153 1h1m8 0h1m9 0h1m30 0h1m3 0h1m32 0h1m14 0h1m5 0h1m2 0h1m11 0h1m10 0h1m17 0h1m-148 1h1m2 0h1m23 0h1m24 0h1m9 0h2m5 0h1m17 0h2m2 0h2m14 0h2m6 0h1m7 0h1m30 0h1m2 0h1m3 0h1m-157 1h1m3 0h1m60 0h1m4 0h1m8 0h1m64 0h1m2 0h1m-163 1h1m8 0h1m21 0h1m6 0h1m42 0h1m8 0h2m17 0h1m20 0h1m26 0h1m9 0h1"/>
<path stroke="#03f" d="M7 0h1m13 0h2m11 0h1m9 0h1m2 0h1m23 0h1m38 0h1m5 0h1m7 0h1m14 0h1m24 0h1m-164 1h1m28 0h1m15 0h1m10 0h1m2 0h1m34 0h1m25 0h1m7 0h1m19 0h1m4 0h1m4 0h1m11 0h1m-146 1h1m20 0h2m2 0h1m8 0h1m7 0h1m23 0h1m13 0h1m33 0h1m13 0h1m11 0h1m-158 1h1m9 0h1m1 0h1m4 0h1m12 0h1m16 0h1m12 0h1m1 0h1m37 0h2m3 0h1m5 0h1m-118 1h1m1 0h1m1 0h2m4 0h1m2 0h2m7 0h1m4 0h1m10 0h2m2 0h1m15 0h1m10 0h1m7 0h1m9 0h1m18 0h1m2 0h1m9 0h1m12 0h1m13 0h1m10 0h1m3 0h1m-161 1h1m14 0h1m12 0h1m19 0h1m22 0h1m3 0h1m5 0h1m6 0h1m12 0h1m16 0h1m19 0h1m7 0h2m5 0h1m9 0h1m4 0h1m-163 1h1m4 0h1m20 0h1m7 0h1m4 0h1m14 0h2m12 0h2m2 0h1m6 0h1m28 0h1m9 0h1m2 0h1m33 0h1m1 0h1m-164 1h1m57 0h1m5 0h1m27 0h2m3 0h1m14 0h1m6 0h1m8 0h1m17 0h1m12 0h1m-161 1h1m14 0h1m2 0h1m24 0h1m3 0h1m1 0h1m7 0h1m2 0h1m23 0h1m23 0h1m12 0h1m8 0h1m9 0h1m9 0h1m2 0h1m10 0h1m3 0h1m-169 1h1m28 0h2m6 0h1m2 0h1m2 0h1m2 0h1m17 0h1m4 0h1m10 0h1m19 0h1m24 0h1m13 0h1m1 0h1m7 0h2m2 0h1m17 0h1m-172 1h1m22 0h1m26 0h1m7 0h1m6 0h1m35 0h1m17 0h1m3 0h1m27 0h1m9 0h1m3 0h1"/>
<path stroke="#06f" d="M3 0h1m8 0h1m10 0h1m39 0h1m4 0h1m4 0h1m31 0h1m6 0h1m42 0h2m1 0h2m-155 1h1m6 0h1m3 0h1m1 0h1m1 0h1m6 0h1m14 0h1m2 0h1m3 0h1m42 0h2m4 0h1m25 0h1m5 0h1m11 0h1m3 0h1m-138 1h1m49 0h1m15 0h1m8 0h1m4 0h1m6 0h1m44 0h1m5 0h1m11 0h1m4 0h1m10 0h1m-172 1h1m11 0h2m23 0h1m9 0h1m12 0h1m8 0h1m23 0h1m24 0h1m22 0h1m7 0h1m2 0h1m-143 1h1m21 0h1m15 0h2m16 0h1m28 0h2m18 0h1m5 0h1m-124 1h1m42 0h1m17 0h2m36 0h1m11 0h1m3 0h1m9 0h1m-117 1h1m28 0h1m13 0h1m12 0h1m4 0h1m23 0h1m13 0h1m12 0h1m5 0h2m20 0h2m-142 1h1m26 0h1m5 0h1m3 0h1m24 0h1m28 0h1m24 0h1m7 0h1m30 0h1m5 0h1m-148 1h2m3 0h1m9 0h1m3 0h1m9 0h1m2 0h1m72 0h1m17 0h1m8 0h1m-154 1h1m17 0h1m2 0h1m3 0h1m8 0h2m15 0h1m9 0h1m7 0h1m52 0h1m23 0h1m-141 1h1m8 0h1m5 0h1m26 0h1m4 0h3m2 0h1m14 0h1m2 0h1m4 0h1m21 0h1m32 0h1m17 0h1"/>
<path stroke="#09f" d="M45 0h1m37 0h1m3 0h1m63 0h1m-130 1h1m20 0h1m38 0h1m1 0h1m9 0h1m24 0h1m24 0h1m8 0h1m-151 1h1m12 0h1m14 0h1m7 0h1m25 0h1m45 0h1m21 0h1m-124 1h1m57 0h1m13 0h1m3 0h1m25 0h1m6 0h1m4 0h1m1 0h1m-95 1h1m69 0h1m35 0h1m-138 1h1m8 0h1m17 0h1m24 0h1m11 0h1m3 0h1m14 0h1m33 0h1m43 0h1m2 0h1m8 0h1m-173 1h1m9 0h1m29 0h1m3 0h1m6 0h1m39 0h1m14 0h1m39 0h1m12 0h1m-131 1h1m27 0h1m16 0h1m14 0h1m-60 1h1m37 0h1m13 0h1m1 0h1m50 0h1m24 0h1m-150 1h1m14 0h1m46 0h1m31 0h1m27 0h1m1 0h1m-131 1h1m8 0h1m18 0h1m2 0h1m24 0h1m9 0h1m20 0h1m32 0h1"/>
<path stroke="#0cf" d="M63 2h1m-11 1h1m63 0h1m-27 1h1m47 0h1m-94 1h1m39 0h1m24 0h1m-89 1h1m47 0h1m-59 1h1m117 0h1m-31 1h1m70 0h1m-142 2h1"/>
<path stroke="#1fd" d="M129 4h1m26 0h1"/>
<path stroke="#900" d="M43 0h1m-24 4h1m120 0h1m-119 3h1m41 0h1m56 0h1m22 2h1m-110 1h1"/>
</g></pattern><rect x="0" y="287" width="176" height="11" fill="url(#t16)"/>
<rect x="118" y="674" width="48" height="5" fill="url(#sB_3_1)"/>
<rect x="109" y="681" width="44" height="3" fill="url(#sB_1_3)"/><rect x="114" y="681" width="34" height="3" fill="url(#sA_1_3)"/>
<rect x="106" y="688" width="70" height="11" fill="url(#sB_2_2)"/>
<rect x="110" y="702" width="66" height="5" fill="url(#sB_4_1)"/>
<rect x="118" y="711" width="52" height="3" fill="url(#sB_1_3)"/><rect x="122" y="711" width="44" height="3" fill="url(#sA_1_3)"/>
<rect x="118" y="715" width="52" height="2" fill="url(#sB_1_2)"/>
<path fill="#fff" d="M0 81h176v66h-176zM0 180h176v1h-176zM0 184h176v1h-176zM0 187h176v1h-176zM0 196h176v29h-176zM0 235h176v1h-176zM0 237h176v1h-176zM0 242h176v1h-176zM0 249h176v1h-176zM0 258h176v1h-176zM0 260h176v1h-176zM0 263h176v13h-176zM0 286h176v1h-176zM0 289h176v1h-176zM0 293h176v1h-176zM0 298h176v14h-176zM0 323h176v1h-176zM0 329h176v3h-176zM0 342h176v1h-176zM0 345h176v1h-176zM0 348h176v1h-176zM0 364h176v1h-176zM0 371h176v1h-176zM0 384h176v5h-176zM0 405h176v5h-176zM0 422h176v5h-176zM0 443h176v1h-176zM0 445h176v1h-176zM0 478h176v1h-176zM0 489h176v2h-176zM0 492h176v1h-176zM0 495h176v1h-176zM0 501h176v4h-176zM0 516h176v5h-176zM0 529h176v1h-176zM0 544h176v1h-176zM0 557h176v1h-176zM0 572h176v2h-176zM0 584h176v1h-176zM0 587h176v4h-176zM0 592h176v2h-176zM0 598h176v2h-176zM0 602h176v2h-176zM0 622h176v1h-176zM0 631h176v1h-176zM0 656h176v1h-176zM0 664h176v1h-176zM0 666h176v5h-176zM0 673h176v1h-176zM0 679h176v2h-176zM0 684h176v3h-176zM0 699h176v1h-176zM0 707h176v1h-176zM0 714h176v1h-176zM0 717h176v3h-176z"/>
<path fill="#000" d="M0 149h176v2h-176zM0 166h176v1h-176zM0 183h176v1h-176zM0 186h176v1h-176zM0 194h176v2h-176zM0 232h176v1h-176zM0 234h176v1h-176zM0 280h176v1h-176zM0 294h176v1h-176zM0 297h176v1h-176zM0 320h176v2h-176zM0 325h176v1h-176zM0 328h176v1h-176zM0 334h176v1h-176zM0 367h176v1h-176zM0 370h176v1h-176zM0 375h176v1h-176zM0 378h176v1h-176zM0 391h176v1h-176zM0 397h176v1h-176zM0 399h176v1h-176zM0 403h176v1h-176zM0 411h176v1h-176zM0 415h176v1h-176zM0 431h176v1h-176zM0 505h176v1h-176zM0 509h176v1h-176zM0 513h176v1h-176zM0 515h176v1h-176zM0 521h176v1h-176zM0 537h176v2h-176zM0 554h176v1h-176zM0 567h176v2h-176zM0 574h176v1h-176zM0 576h176v1h-176zM0 582h176v1h-176zM0 586h176v1h-176zM0 640h176v1h-176zM0 646h176v1h-176zM0 649h176v1h-176zM0 658h176v1h-176zM0 687h176v1h-176zM0 701h176v1h-176zM0 710h176v1h-176z"/>
</g>
<g stroke="#000" stroke-width="1" fill="none" shape-rendering="crispEdges">
<rect x="344.5" y="80.5" width="176" height="640"/>
</g>
<g stroke="#000" stroke-opacity="0.68" stroke-width="1">
<path d="M344.5 720 v-5.3 M344.5 81 v5.3"/>
<path d="M385.5 720 v-5.3 M385.5 81 v5.3"/>
<path d="M426.5 720 v-5.3 M426.5 81 v5.3"/>
<path d="M468.5 720 v-5.3 M468.5 81 v5.3"/>
<path d="M509.5 720 v-5.3 M509.5 81 v5.3"/>
<path d="M345 720.5 h5.3 M520 720.5 h-5.3"/>
<path d="M345 587.5 h5.3 M520 587.5 h-5.3"/>
<path d="M345 453.5 h5.3 M520 453.5 h-5.3"/>
<path d="M345 320.5 h5.3 M520 320.5 h-5.3"/>
<path d="M345 187.5 h5.3 M520 187.5 h-5.3"/>
</g>
<text x="343.83" y="736" font-size="12" text-anchor="middle">320</text>
<text x="385.29" y="736" font-size="12" text-anchor="middle">335</text>
<text x="426.75" y="736" font-size="12" text-anchor="middle">350</text>
<text x="468.22" y="736" font-size="12" text-anchor="middle">365</text>
<text x="509.68" y="736" font-size="12" text-anchor="middle">380</text>
<text x="339.08" y="723.6" font-size="12" text-anchor="end">0</text>
<text x="338.98" y="590.0" font-size="12" text-anchor="end">5</text>
<text x="338.48" y="457.0" font-size="12" text-anchor="end">10</text>
<text x="338.48" y="324.0" font-size="12" text-anchor="end">15</text>
<text x="339.48" y="190.0" font-size="12" text-anchor="end">20</text>
<text x="341.12" y="72.9" font-size="16" textLength="182.72" lengthAdjust="spacingAndGlyphs">YY, V7*V12=EA03*EA18</text>
<g transform="translate(557,0)" shape-rendering="crispEdges" clip-path="url(#cp)">
<rect x="0" y="81" width="176" height="639" fill="url(#nA2)"/>
<rect x="0" y="81" width="176" height="639" fill="url(#nB2)"/>
<rect x="123" y="674" width="48" height="5" fill="url(#sB_3_1)"/>
<rect x="114" y="681" width="44" height="3" fill="url(#sB_1_3)"/><rect x="119" y="681" width="34" height="3" fill="url(#sA_1_3)"/>
<rect x="111" y="688" width="70" height="11" fill="url(#sB_2_2)"/>
<rect x="115" y="702" width="66" height="5" fill="url(#sB_4_1)"/>
<rect x="123" y="711" width="52" height="3" fill="url(#sB_1_3)"/><rect x="127" y="711" width="44" height="3" fill="url(#sA_1_3)"/>
<rect x="123" y="715" width="52" height="2" fill="url(#sB_1_2)"/>
<path fill="#fff" d="M0 81h176v66h-176zM0 180h176v1h-176zM0 184h176v1h-176zM0 187h176v1h-176zM0 196h176v29h-176zM0 235h176v1h-176zM0 237h176v1h-176zM0 242h176v1h-176zM0 249h176v1h-176zM0 258h176v1h-176zM0 260h176v1h-176zM0 263h176v13h-176zM0 286h176v1h-176zM0 289h176v1h-176zM0 293h176v1h-176zM0 298h176v14h-176zM0 323h176v1h-176zM0 329h176v3h-176zM0 342h176v1h-176zM0 345h176v1h-176zM0 348h176v1h-176zM0 364h176v1h-176zM0 371h176v1h-176zM0 384h176v5h-176zM0 405h176v5h-176zM0 422h176v5h-176zM0 443h176v1h-176zM0 445h176v1h-176zM0 478h176v1h-176zM0 489h176v2h-176zM0 492h176v1h-176zM0 495h176v1h-176zM0 501h176v4h-176zM0 516h176v5h-176zM0 529h176v1h-176zM0 544h176v1h-176zM0 557h176v1h-176zM0 572h176v2h-176zM0 584h176v1h-176zM0 587h176v4h-176zM0 592h176v2h-176zM0 598h176v2h-176zM0 602h176v2h-176zM0 622h176v1h-176zM0 631h176v1h-176zM0 656h176v1h-176zM0 664h176v1h-176zM0 666h176v5h-176zM0 673h176v1h-176zM0 679h176v2h-176zM0 684h176v3h-176zM0 699h176v1h-176zM0 707h176v1h-176zM0 714h176v1h-176zM0 717h176v3h-176z"/>
<path fill="#000" d="M0 149h176v2h-176zM0 166h176v1h-176zM0 183h176v1h-176zM0 186h176v1h-176zM0 194h176v2h-176zM0 232h176v1h-176zM0 234h176v1h-176zM0 280h176v1h-176zM0 294h176v1h-176zM0 297h176v1h-176zM0 320h176v2h-176zM0 325h176v1h-176zM0 328h176v1h-176zM0 334h176v1h-176zM0 367h176v1h-176zM0 370h176v1h-176zM0 375h176v1h-176zM0 378h176v1h-176zM0 391h176v1h-176zM0 397h176v1h-176zM0 399h176v1h-176zM0 403h176v1h-176zM0 411h176v1h-176zM0 415h176v1h-176zM0 431h176v1h-176zM0 505h176v1h-176zM0 509h176v1h-176zM0 513h176v1h-176zM0 515h176v1h-176zM0 521h176v1h-176zM0 537h176v2h-176zM0 554h176v1h-176zM0 567h176v2h-176zM0 574h176v1h-176zM0 576h176v1h-176zM0 582h176v1h-176zM0 586h176v1h-176zM0 640h176v1h-176zM0 646h176v1h-176zM0 649h176v1h-176zM0 658h176v1h-176zM0 687h176v1h-176zM0 701h176v1h-176zM0 710h176v1h-176z"/>
</g>
<g stroke="#000" stroke-width="1" fill="none" shape-rendering="crispEdges">
<rect x="556.5" y="80.5" width="177" height="640"/>
</g>
<g stroke="#000" stroke-opacity="0.68" stroke-width="1">
<path d="M556.5 720 v-5.3 M556.5 81 v5.3"/>
<path d="M597.5 720 v-5.3 M597.5 81 v5.3"/>
<path d="M639.5 720 v-5.3 M639.5 81 v5.3"/>
<path d="M680.5 720 v-5.3 M680.5 81 v5.3"/>
<path d="M722.5 720 v-5.3 M722.5 81 v5.3"/>
<path d="M557 720.5 h5.3 M733 720.5 h-5.3"/>
<path d="M557 587.5 h5.3 M733 587.5 h-5.3"/>
<path d="M557 453.5 h5.3 M733 453.5 h-5.3"/>
<path d="M557 320.5 h5.3 M733 320.5 h-5.3"/>
<path d="M557 187.5 h5.3 M733 187.5 h-5.3"/>
</g>
<text x="556.12" y="736" font-size="12" text-anchor="middle">320</text>
<text x="597.58" y="736" font-size="12" text-anchor="middle">335</text>
<text x="639.04" y="736" font-size="12" text-anchor="middle">350</text>
<text x="680.50" y="736" font-size="12" text-anchor="middle">365</text>
<text x="721.96" y="736" font-size="12" text-anchor="middle">380</text>
<text x="551.37" y="723.6" font-size="12" text-anchor="end">0</text>
<text x="551.27" y="590.0" font-size="12" text-anchor="end">5</text>
<text x="550.77" y="457.0" font-size="12" text-anchor="end">10</text>
<text x="550.77" y="324.0" font-size="12" text-anchor="end">15</text>
<text x="551.77" y="190.0" font-size="12" text-anchor="end">20</text>
<text x="552.84" y="72.9" font-size="16" textLength="183.85" lengthAdjust="spacingAndGlyphs">XY, V7*V12=EA03*EA18</text>
<g transform="translate(769,0)" shape-rendering="crispEdges" clip-path="url(#cp)">
<rect x="0" y="81" width="176" height="639" fill="url(#nA3)"/>
<rect x="0" y="81" width="176" height="639" fill="url(#nB3)"/>
<rect x="121" y="674" width="48" height="5" fill="url(#sB_3_1)"/>
<rect x="112" y="681" width="44" height="3" fill="url(#sB_1_3)"/><rect x="117" y="681" width="34" height="3" fill="url(#sA_1_3)"/>
<rect x="109" y="688" width="70" height="11" fill="url(#sB_2_2)"/>
<rect x="113" y="702" width="66" height="5" fill="url(#sB_4_1)"/>
<rect x="121" y="711" width="52" height="3" fill="url(#sB_1_3)"/><rect x="125" y="711" width="44" height="3" fill="url(#sA_1_3)"/>
<rect x="121" y="715" width="52" height="2" fill="url(#sB_1_2)"/>
<path fill="#fff" d="M0 81h176v66h-176zM0 180h176v1h-176zM0 184h176v1h-176zM0 187h176v1h-176zM0 196h176v29h-176zM0 235h176v1h-176zM0 237h176v1h-176zM0 242h176v1h-176zM0 249h176v1h-176zM0 258h176v1h-176zM0 260h176v1h-176zM0 263h176v13h-176zM0 286h176v1h-176zM0 289h176v1h-176zM0 293h176v1h-176zM0 298h176v14h-176zM0 323h176v1h-176zM0 329h176v3h-176zM0 342h176v1h-176zM0 345h176v1h-176zM0 348h176v1h-176zM0 364h176v1h-176zM0 371h176v1h-176zM0 384h176v5h-176zM0 405h176v5h-176zM0 422h176v5h-176zM0 443h176v1h-176zM0 445h176v1h-176zM0 478h176v1h-176zM0 489h176v2h-176zM0 492h176v1h-176zM0 495h176v1h-176zM0 501h176v4h-176zM0 516h176v5h-176zM0 529h176v1h-176zM0 544h176v1h-176zM0 557h176v1h-176zM0 572h176v2h-176zM0 584h176v1h-176zM0 587h176v4h-176zM0 592h176v2h-176zM0 598h176v2h-176zM0 602h176v2h-176zM0 622h176v1h-176zM0 631h176v1h-176zM0 656h176v1h-176zM0 664h176v1h-176zM0 666h176v5h-176zM0 673h176v1h-176zM0 679h176v2h-176zM0 684h176v3h-176zM0 699h176v1h-176zM0 707h176v1h-176zM0 714h176v1h-176zM0 717h176v3h-176z"/>
<path fill="#000" d="M0 149h176v2h-176zM0 166h176v1h-176zM0 183h176v1h-176zM0 186h176v1h-176zM0 194h176v2h-176zM0 232h176v1h-176zM0 234h176v1h-176zM0 280h176v1h-176zM0 294h176v1h-176zM0 297h176v1h-176zM0 320h176v2h-176zM0 325h176v1h-176zM0 328h176v1h-176zM0 334h176v1h-176zM0 367h176v1h-176zM0 370h176v1h-176zM0 375h176v1h-176zM0 378h176v1h-176zM0 391h176v1h-176zM0 397h176v1h-176zM0 399h176v1h-176zM0 403h176v1h-176zM0 411h176v1h-176zM0 415h176v1h-176zM0 431h176v1h-176zM0 505h176v1h-176zM0 509h176v1h-176zM0 513h176v1h-176zM0 515h176v1h-176zM0 521h176v1h-176zM0 537h176v2h-176zM0 554h176v1h-176zM0 567h176v2h-176zM0 574h176v1h-176zM0 576h176v1h-176zM0 582h176v1h-176zM0 586h176v1h-176zM0 640h176v1h-176zM0 646h176v1h-176zM0 649h176v1h-176zM0 658h176v1h-176zM0 687h176v1h-176zM0 701h176v1h-176zM0 710h176v1h-176z"/>
</g>
<g stroke="#000" stroke-width="1" fill="none" shape-rendering="crispEdges">
<rect x="768.5" y="80.5" width="177" height="640"/>
</g>
<g stroke="#000" stroke-opacity="0.68" stroke-width="1">
<path d="M768.5 720 v-5.3 M768.5 81 v5.3"/>
<path d="M810.5 720 v-5.3 M810.5 81 v5.3"/>
<path d="M851.5 720 v-5.3 M851.5 81 v5.3"/>
<path d="M892.5 720 v-5.3 M892.5 81 v5.3"/>
<path d="M934.5 720 v-5.3 M934.5 81 v5.3"/>
<path d="M769 720.5 h5.3 M945 720.5 h-5.3"/>
<path d="M769 587.5 h5.3 M945 587.5 h-5.3"/>
<path d="M769 453.5 h5.3 M945 453.5 h-5.3"/>
<path d="M769 320.5 h5.3 M945 320.5 h-5.3"/>
<path d="M769 187.5 h5.3 M945 187.5 h-5.3"/>
</g>
<text x="768.40" y="736" font-size="12" text-anchor="middle">320</text>
<text x="809.86" y="736" font-size="12" text-anchor="middle">335</text>
<text x="851.32" y="736" font-size="12" text-anchor="middle">350</text>
<text x="892.78" y="736" font-size="12" text-anchor="middle">365</text>
<text x="934.24" y="736" font-size="12" text-anchor="middle">380</text>
<text x="763.65" y="723.6" font-size="12" text-anchor="end">0</text>
<text x="763.55" y="590.0" font-size="12" text-anchor="end">5</text>
<text x="763.05" y="457.0" font-size="12" text-anchor="end">10</text>
<text x="763.05" y="324.0" font-size="12" text-anchor="end">15</text>
<text x="764.05" y="190.0" font-size="12" text-anchor="end">20</text>
<text x="765.13" y="72.9" font-size="16" textLength="183.85" lengthAdjust="spacingAndGlyphs">YX, V7*V12=EA03*EA18</text>
<text x="431.5" y="754" font-size="12" textLength="104" lengthAdjust="spacingAndGlyphs">frequency (MHz)</text>
<text transform="translate(101,433) rotate(-90)" font-size="12" textLength="65.5" lengthAdjust="spacingAndGlyphs">UT (hours)</text>
<defs><linearGradient id="jet" x1="0" y1="1" x2="0" y2="0">
<stop offset="0.0000" stop-color="#000080"/>
<stop offset="0.0156" stop-color="#000092"/>
<stop offset="0.0312" stop-color="#0000a4"/>
<stop offset="0.0469" stop-color="#0000b6"/>
<stop offset="0.0625" stop-color="#0000c8"/>
<stop offset="0.0781" stop-color="#0000da"/>
<stop offset="0.0938" stop-color="#0000ec"/>
<stop offset="0.1094" stop-color="#0000fe"/>
<stop offset="0.1250" stop-color="#0000ff"/>
<stop offset="0.1406" stop-color="#0010ff"/>
<stop offset="0.1562" stop-color="#0020ff"/>
<stop offset="0.1719" stop-color="#0030ff"/>
<stop offset="0.1875" stop-color="#0040ff"/>
<stop offset="0.2031" stop-color="#0050ff"/>
<stop offset="0.2188" stop-color="#0060ff"/>
<stop offset="0.2344" stop-color="#0070ff"/>
<stop offset="0.2500" stop-color="#0080ff"/>
<stop offset="0.2656" stop-color="#008fff"/>
<stop offset="0.2812" stop-color="#009fff"/>
<stop offset="0.2969" stop-color="#00afff"/>
<stop offset="0.3125" stop-color="#00bfff"/>
<stop offset="0.3281" stop-color="#00cfff"/>
<stop offset="0.3438" stop-color="#00dffc"/>
<stop offset="0.3594" stop-color="#08efef"/>
<stop offset="0.3750" stop-color="#15ffe2"/>
<stop offset="0.3906" stop-color="#21ffd5"/>
<stop offset="0.4062" stop-color="#2effc9"/>
<stop offset="0.4219" stop-color="#3bffbc"/>
<stop offset="0.4375" stop-color="#48ffaf"/>
<stop offset="0.4531" stop-color="#55ffa2"/>
<stop offset="0.4688" stop-color="#62ff95"/>
<stop offset="0.4844" stop-color="#6fff88"/>
<stop offset="0.5000" stop-color="#7bff7b"/>
<stop offset="0.5156" stop-color="#88ff6f"/>
<stop offset="0.5312" stop-color="#95ff62"/>
<stop offset="0.5469" stop-color="#a2ff55"/>
<stop offset="0.5625" stop-color="#afff48"/>
<stop offset="0.5781" stop-color="#bcff3b"/>
<stop offset="0.5938" stop-color="#c9ff2e"/>
<stop offset="0.6094" stop-color="#d5ff21"/>
<stop offset="0.6250" stop-color="#e2ff15"/>
<stop offset="0.6406" stop-color="#effe08"/>
<stop offset="0.6562" stop-color="#fcf000"/>
<stop offset="0.6719" stop-color="#ffe100"/>
<stop offset="0.6875" stop-color="#ffd200"/>
<stop offset="0.7031" stop-color="#ffc300"/>
<stop offset="0.7188" stop-color="#ffb500"/>
<stop offset="0.7344" stop-color="#ffa600"/>
<stop offset="0.7500" stop-color="#ff9700"/>
<stop offset="0.7656" stop-color="#ff8800"/>
<stop offset="0.7812" stop-color="#ff7a00"/>
<stop offset="0.7969" stop-color="#ff6b00"/>
<stop offset="0.8125" stop-color="#ff5c00"/>
<stop offset="0.8281" stop-color="#ff4d00"/>
<stop offset="0.8438" stop-color="#ff3f00"/>
<stop offset="0.8594" stop-color="#ff3000"/>
<stop offset="0.8750" stop-color="#ff2100"/>
<stop offset="0.8906" stop-color="#fe1200"/>
<stop offset="0.9062" stop-color="#ec0400"/>
<stop offset="0.9219" stop-color="#da0000"/>
<stop offset="0.9375" stop-color="#c80000"/>
<stop offset="0.9531" stop-color="#b60000"/>
<stop offset="0.9688" stop-color="#a40000"/>
<stop offset="0.9844" stop-color="#920000"/>
<stop offset="1.0000" stop-color="#800000"/>
</linearGradient></defs>
<rect x="1019.5" y="160.5" width="15" height="480" fill="url(#jet)" stroke="#000" stroke-width="1"/>
<g stroke="#000" stroke-opacity="0.75" stroke-width="1">
<path d="M1020 600.5 h5 M1034 600.5 h-5"/>
<path d="M1020 533.5 h5 M1034 533.5 h-5"/>
<path d="M1020 467.5 h5 M1034 467.5 h-5"/>
<path d="M1020 400.5 h5 M1034 400.5 h-5"/>
<path d="M1020 333.5 h5 M1034 333.5 h-5"/>
<path d="M1020 267.5 h5 M1034 267.5 h-5"/>
<path d="M1020 200.5 h5 M1034 200.5 h-5"/>
<path d="M1022.5 161 v5 M1022.5 640 v-5"/>
<path d="M1025.5 161 v5 M1025.5 640 v-5"/>
<path d="M1028.5 161 v5 M1028.5 640 v-5"/>
<path d="M1031.5 161 v5 M1031.5 640 v-5"/>
</g>
<text x="1013.8" y="602.70" font-size="10.4" letter-spacing="0.2" text-anchor="end">−150</text>
<text x="1013.8" y="536.03" font-size="10.4" letter-spacing="0.2" text-anchor="end">−100</text>
<text x="1013.8" y="469.37" font-size="10.4" letter-spacing="0.2" text-anchor="end">−50</text>
<text x="1013.8" y="402.70" font-size="10.4" text-anchor="end">0</text>
<text x="1013.8" y="336.03" font-size="10.4" text-anchor="end">50</text>
<text x="1013.8" y="269.37" font-size="10.4" text-anchor="end">100</text>
<text x="1013.8" y="202.70" font-size="10.4" text-anchor="end">150</text>
<text transform="translate(974.4,439.8) rotate(-90)" font-size="12" textLength="78.5" lengthAdjust="spacingAndGlyphs">phase (deg.)</text>
<text x="1017.02" y="646.98" font-size="1.35" font-weight="bold" textLength="0.96" lengthAdjust="spacingAndGlyphs" style="fill:#000">0.0</text>
<text x="1017.02" y="646.98" font-size="1.35" font-weight="bold" textLength="0.96" lengthAdjust="spacingAndGlyphs" style="fill:#000">0.0</text>
<text x="1021.02" y="646.98" font-size="1.35" font-weight="bold" textLength="0.96" lengthAdjust="spacingAndGlyphs" style="fill:#000">0.2</text>
<text x="1021.02" y="646.98" font-size="1.35" font-weight="bold" textLength="0.96" lengthAdjust="spacingAndGlyphs" style="fill:#000">0.2</text>
<text x="1024.02" y="646.98" font-size="1.35" font-weight="bold" textLength="0.96" lengthAdjust="spacingAndGlyphs" style="fill:#000">0.4</text>
<text x="1024.02" y="646.98" font-size="1.35" font-weight="bold" textLength="0.96" lengthAdjust="spacingAndGlyphs" style="fill:#000">0.4</text>
<text x="1027.02" y="646.98" font-size="1.35" font-weight="bold" textLength="0.96" lengthAdjust="spacingAndGlyphs" style="fill:#999">0.6</text>
<text x="1030.02" y="646.98" font-size="1.35" font-weight="bold" textLength="0.96" lengthAdjust="spacingAndGlyphs" style="fill:#999">0.8</text>
<text x="1033.02" y="646.98" font-size="1.35" font-weight="bold" textLength="0.96" lengthAdjust="spacingAndGlyphs" style="fill:#999">1.0</text>
</svg></body></html>
